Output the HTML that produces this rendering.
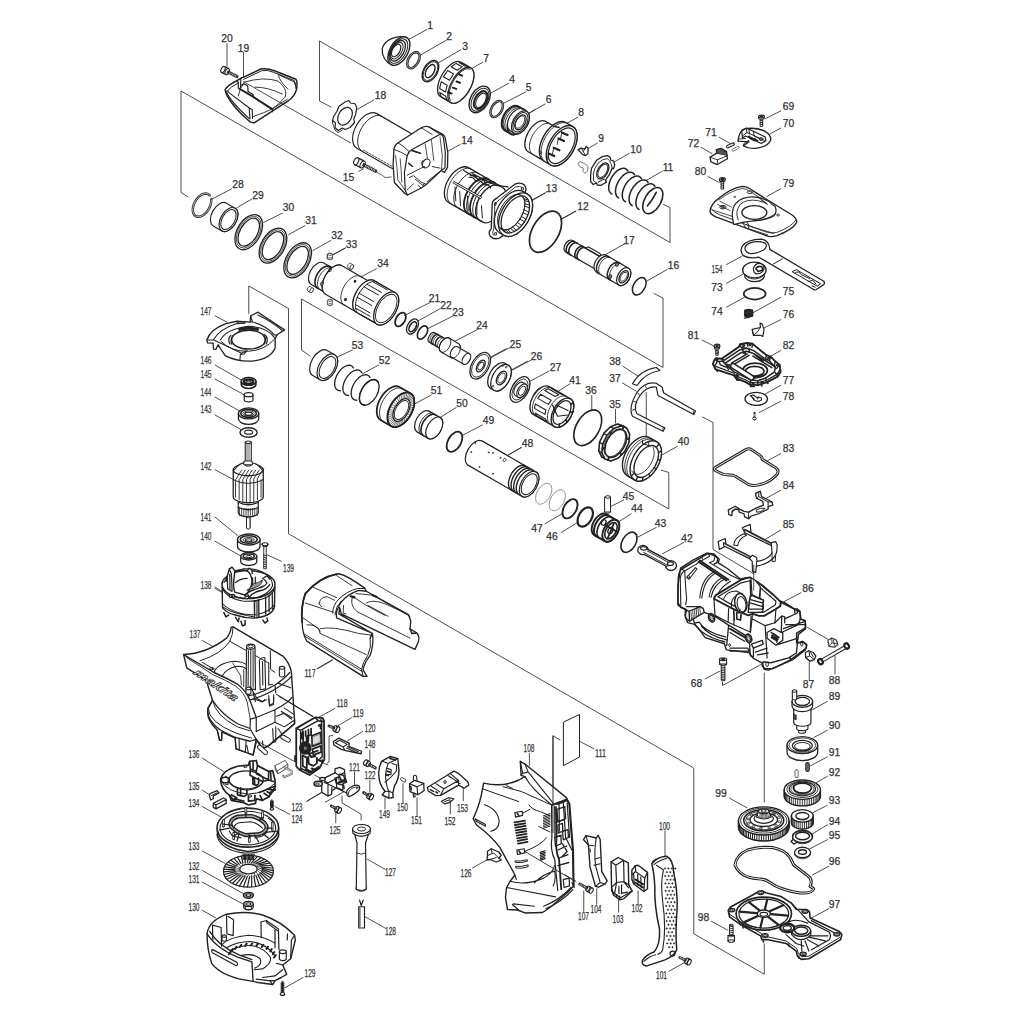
<!DOCTYPE html>
<html><head><meta charset="utf-8"><title>Parts diagram</title>
<style>
html,body{margin:0;padding:0;background:#fff;}
svg{display:block;}
text{font-family:"Liberation Sans",sans-serif;}
</style></head><body>
<svg width="1024" height="1024" viewBox="0 0 1024 1024">
<rect width="1024" height="1024" fill="#fff"/>
<polyline points="331,107 319.5,101 319.5,41 670,242.5 670,207.5 663.5,204.5" fill="none" stroke="#222" stroke-width="0.8" stroke-linejoin="round" stroke-linecap="round"/>
<polyline points="188,197 181,192.5 181,91 663,367.5 663,298 654,293.5" fill="none" stroke="#222" stroke-width="0.8" stroke-linejoin="round" stroke-linecap="round"/>
<polyline points="310,356 301.5,350 301.5,299 668.75,509 668.75,472.5 661,470" fill="none" stroke="#222" stroke-width="0.8" stroke-linejoin="round" stroke-linecap="round"/>
<polyline points="248.75,313.5 248.75,286 288.5,308.5 288.5,533.75 693.75,768 693.75,933.75 764.25,974.25 764.25,943.75" fill="none" stroke="#222" stroke-width="0.8" stroke-linejoin="round" stroke-linecap="round"/>
<polyline points="764.25,673 764.25,802" fill="none" stroke="#222" stroke-width="0.8" stroke-linejoin="round" stroke-linecap="round"/>
<polyline points="722.5,682 722.5,685.5 762.5,663.75" fill="none" stroke="#222" stroke-width="0.8" stroke-linejoin="round" stroke-linecap="round"/>
<polyline points="809.25,662.5 809.25,680" fill="none" stroke="#222" stroke-width="0.8" stroke-linejoin="round" stroke-linecap="round"/>
<polyline points="835,656 835,674" fill="none" stroke="#222" stroke-width="0.8" stroke-linejoin="round" stroke-linecap="round"/>
<polyline points="807.5,627.5 827.5,639" fill="none" stroke="#222" stroke-width="0.8" stroke-linejoin="round" stroke-linecap="round"/>
<polyline points="560,740 553,735.75 553,832.5" fill="none" stroke="#222" stroke-width="0.8" stroke-linejoin="round" stroke-linecap="round"/>
<polygon points="563.75,722 579.5,714.5 579.5,757 563.75,765.5" fill="#fff" stroke="#222" stroke-width="1" stroke-linejoin="round" stroke-linecap="round"/>
<polyline points="579.5,741.25 593.75,748.75" fill="none" stroke="#222" stroke-width="0.8" stroke-linejoin="round" stroke-linecap="round"/>
<polyline points="211.23,199.27 211.23,201.84 210.69,204.6 209.66,207.4 208.18,210.06 206.34,212.44 204.26,214.4 202.04,215.82 199.83,216.63 197.74,216.76 195.9,216.23 194.42,215.05 193.38,213.3 192.84,211.07 192.83,208.5 193.36,205.74 194.39,202.95 195.86,200.28 197.69,197.89 199.78,195.93 201.99,194.5 204.21,193.69 206.3,193.55 208.14,194.08 209.63,195.25" fill="none" stroke="#222" stroke-width="2.4" stroke-linejoin="round" stroke-linecap="round"/>
<polyline points="211.23,199.27 211.23,201.84 210.69,204.6 209.66,207.4 208.18,210.06 206.34,212.44 204.26,214.4 202.04,215.82 199.83,216.63 197.74,216.76 195.9,216.23 194.42,215.05 193.38,213.3 192.84,211.07 192.83,208.5 193.36,205.74 194.39,202.95 195.86,200.28 197.69,197.89 199.78,195.93 201.99,194.5 204.21,193.69 206.3,193.55 208.14,194.08 209.63,195.25" fill="none" stroke="#fff" stroke-width="0.7" stroke-linejoin="round" stroke-linecap="round"/>
<path d="M 213.28 225.9 A 7.81 13.12 30 0 1 226.41 203.16 L 235.07 208.16 A 7.81 13.12 30 0 1 221.94 230.9 Z" fill="#fff" stroke="#222" stroke-width="1.2" stroke-linejoin="round"/>
<ellipse cx="228.5" cy="219.53" rx="7.81" ry="13.12" transform="rotate(30 228.5 219.53)" fill="#fff" stroke="#222" stroke-width="1.2" />
<ellipse cx="228.44" cy="219.53" rx="6.25" ry="10.94" transform="rotate(30 228.44 219.53)" fill="none" stroke="#222" stroke-width="1" />
<ellipse cx="248.75" cy="232.19" rx="11.56" ry="19.06" transform="rotate(30 248.75 232.19)" fill="#fff" stroke="#222" stroke-width="1.3" />
<ellipse cx="248.75" cy="232.19" rx="10.31" ry="17.34" transform="rotate(30 248.75 232.19)" fill="none" stroke="#222" stroke-width="0.7" />
<ellipse cx="248.75" cy="232.19" rx="8.75" ry="15.31" transform="rotate(30 248.75 232.19)" fill="none" stroke="#222" stroke-width="1.3" />
<ellipse cx="272.97" cy="245.62" rx="11.56" ry="19.06" transform="rotate(30 272.97 245.62)" fill="#fff" stroke="#222" stroke-width="1.3" />
<ellipse cx="272.97" cy="245.62" rx="10.31" ry="17.34" transform="rotate(30 272.97 245.62)" fill="none" stroke="#222" stroke-width="0.7" />
<ellipse cx="272.97" cy="245.62" rx="8.75" ry="15.31" transform="rotate(30 272.97 245.62)" fill="none" stroke="#222" stroke-width="1.3" />
<ellipse cx="297.66" cy="260.31" rx="11.56" ry="19.06" transform="rotate(30 297.66 260.31)" fill="#fff" stroke="#222" stroke-width="1.3" />
<ellipse cx="297.66" cy="260.31" rx="10.31" ry="17.34" transform="rotate(30 297.66 260.31)" fill="none" stroke="#222" stroke-width="0.7" />
<ellipse cx="297.66" cy="260.31" rx="8.75" ry="15.31" transform="rotate(30 297.66 260.31)" fill="none" stroke="#222" stroke-width="1.3" />
<polyline points="231.56,188.91 212.03,199.06" fill="none" stroke="#222" stroke-width="0.8" stroke-linejoin="round" stroke-linecap="round"/>
<polyline points="251.88,199.06 237.03,207.66" fill="none" stroke="#222" stroke-width="0.8" stroke-linejoin="round" stroke-linecap="round"/>
<polyline points="282.34,213.12 263.59,222.5" fill="none" stroke="#222" stroke-width="0.8" stroke-linejoin="round" stroke-linecap="round"/>
<polyline points="305,225.62 288.59,234.69" fill="none" stroke="#222" stroke-width="0.8" stroke-linejoin="round" stroke-linecap="round"/>
<polyline points="330.78,240.47 312.81,250.62" fill="none" stroke="#222" stroke-width="0.8" stroke-linejoin="round" stroke-linecap="round"/>
<polyline points="345,248 333,255" fill="none" stroke="#222" stroke-width="0.8" stroke-linejoin="round" stroke-linecap="round"/>
<path d="M 327.75 254.25 L 332.25 254.25 L 332.25 258.75 L 327.75 258.75 Z" fill="#fff" stroke="#222" stroke-width="1" stroke-linejoin="round" stroke-linecap="round" />
<ellipse cx="330" cy="254.25" rx="1" ry="2.25" transform="rotate(90 330 254.25)" fill="#fff" stroke="#222" stroke-width="1" />
<polyline points="227,43.75 227,66.25" fill="none" stroke="#222" stroke-width="0.8" stroke-linejoin="round" stroke-linecap="round"/>
<polyline points="243.5,52.5 243.5,78.75" fill="none" stroke="#222" stroke-width="0.8" stroke-linejoin="round" stroke-linecap="round"/>
<line x1="227.2" y1="71.6" x2="237" y2="76.5" stroke="#333" stroke-width="3.2" stroke-linecap="round"/>
<line x1="229.16" y1="72.58" x2="237" y2="76.5" stroke="#fff" stroke-width="1.5" stroke-dasharray="0.7 1.0"/>
<polyline points="223,69.5 227.2,71.6" fill="none" stroke="#222" stroke-width="7.8" stroke-linecap="butt" stroke-linejoin="round"/>
<polyline points="223,69.5 227.2,71.6" fill="none" stroke="#fff" stroke-width="5.4" stroke-linecap="butt" stroke-linejoin="round"/>
<ellipse cx="223" cy="69.5" rx="1.92" ry="3.3" transform="rotate(26.57 223 69.5)" fill="#fff" stroke="#222" stroke-width="1.1"/>
<ellipse cx="227.2" cy="71.6" rx="1.92" ry="3.3" transform="rotate(26.57 227.2 71.6)" fill="none" stroke="#222" stroke-width="1.0"/>
<path d="M 225.14 89.55 Q 227.58 85.16 237.34 80.47 L 241.25 78.03 L 243.69 77.15 L 260.78 69.04 Q 266.64 67.87 274.45 70.8 L 295.94 79.3 Q 297.6 81.25 296.62 89.06 Q 294.96 95.9 288.12 100.98 L 254.92 122.46 Q 251.02 123.44 248.57 120.51 Q 234.41 108.59 227.09 95.9 Q 225.14 91.99 225.14 89.55 Z" fill="#fff" stroke="#222" stroke-width="1.5" stroke-linejoin="round" stroke-linecap="round" />
<path d="M 227.58 90.82 Q 230.02 87.11 238.32 82.91 M 243.69 79.3 L 261.76 70.7 Q 267.62 69.53 273.48 72.27 L 294.18 80.47 L 294.96 84.38 M 278.36 74.41 L 295.16 82.42 L 295.94 88.57" fill="none" stroke="#222" stroke-width="1" stroke-linejoin="round" stroke-linecap="round" />
<path d="M 227.58 90.82 L 229.53 93.16 L 249.06 107.81 L 252.19 109.77 L 252.58 118.55 M 249.06 107.81 L 250.04 118.85 M 226.11 91.02 Q 229.53 100.78 249.06 118.36" fill="none" stroke="#222" stroke-width="1.1" stroke-linejoin="round" stroke-linecap="round" />
<path d="M 237.34 80.47 L 238.32 82.91 L 238.32 88.28 L 239.88 89.26 L 240.47 87.6 L 240.86 79.3" fill="none" stroke="#222" stroke-width="1.2" stroke-linejoin="round" stroke-linecap="round" />
<path d="M 241.25 85.35 L 243.79 83.79 L 247.7 85.74 L 248.09 91.6 L 252.97 94.53 L 253.55 97.07 L 268.59 106.84 L 272.5 108.79 L 272.5 111.72" fill="none" stroke="#222" stroke-width="1.2" stroke-linejoin="round" stroke-linecap="round" />
<path d="M 240.27 89.26 L 252.97 96.68 L 271.72 108.79" fill="none" stroke="#222" stroke-width="2" stroke-linejoin="round" stroke-linecap="round" />
<path d="M 238.32 95.9 Q 239.3 89.06 243.69 83.4 M 243.69 82.23 Q 264.69 76.17 278.36 81.25 Q 288.12 89.06 285.2 97.07 Q 278.36 104.69 272.5 108.79 M 254.92 87.11 Q 268.59 87.11 282.27 94.14 M 278.36 75.59 Q 280.31 82.23 288.12 89.26 M 252.97 116.6 Q 264.69 112.7 272.5 108.79 L 287.15 99.32" fill="none" stroke="#222" stroke-width="0.9" stroke-linejoin="round" stroke-linecap="round" />
<polyline points="243.69,81.74 350.72,142.97" fill="none" stroke="#222" stroke-width="0.8" stroke-linejoin="round" stroke-linecap="round"/>
<polyline points="373.75,100 356.25,110" fill="none" stroke="#222" stroke-width="0.8" stroke-linejoin="round" stroke-linecap="round"/>
<path d="M 333.75 116.25 L 337 111.25 L 339 106.25 L 345 102 L 348.75 100.5 L 350.5 103 L 355 103.75 L 356.75 107.5 L 355.5 115 L 353.75 118.75 L 354.5 122.5 L 350 127.5 L 345 129.5 L 342.5 128 L 338 130.5 L 335 127.5 L 335.5 123 L 332.5 120.5 Z" fill="#fff" stroke="#222" stroke-width="1.2" stroke-linejoin="round" stroke-linecap="round" />
<ellipse cx="345" cy="116.25" rx="6.5" ry="9.5" transform="rotate(30 345 116.25)" fill="none" stroke="#222" stroke-width="1.2" />
<path d="M 332.5 120.5 L 332.5 123 L 335 130 L 338 132.5 L 342.5 130" fill="none" stroke="#222" stroke-width="0.9" stroke-linejoin="round" stroke-linecap="round" />
<line x1="362.6" y1="164.47" x2="375.5" y2="171" stroke="#333" stroke-width="3.6" stroke-linecap="round"/>
<line x1="365.18" y1="165.77" x2="375.5" y2="171" stroke="#fff" stroke-width="1.9" stroke-dasharray="0.7 1.0"/>
<polyline points="356.25,161.25 362.6,164.47" fill="none" stroke="#222" stroke-width="8.7" stroke-linecap="butt" stroke-linejoin="round"/>
<polyline points="356.25,161.25 362.6,164.47" fill="none" stroke="#fff" stroke-width="6.3" stroke-linecap="butt" stroke-linejoin="round"/>
<ellipse cx="356.25" cy="161.25" rx="2.19" ry="3.75" transform="rotate(26.86 356.25 161.25)" fill="#fff" stroke="#222" stroke-width="1.1"/>
<ellipse cx="362.6" cy="164.47" rx="2.19" ry="3.75" transform="rotate(26.86 362.6 164.47)" fill="none" stroke="#222" stroke-width="1.0"/>
<path d="M 376.25 172 L 382.5 175.5 L 385 177.5 L 391.25 177" fill="none" stroke="#222" stroke-width="0.7" stroke-linejoin="round" stroke-linecap="round" />
<polyline points="426.56,29.69 408.59,39.53" fill="none" stroke="#222" stroke-width="0.8" stroke-linejoin="round" stroke-linecap="round"/>
<polyline points="446.09,40.31 420.31,55.16" fill="none" stroke="#222" stroke-width="0.8" stroke-linejoin="round" stroke-linecap="round"/>
<polyline points="460.94,49.69 438.28,62.97" fill="none" stroke="#222" stroke-width="0.8" stroke-linejoin="round" stroke-linecap="round"/>
<polyline points="482.81,62.19 468.75,70.31" fill="none" stroke="#222" stroke-width="0.8" stroke-linejoin="round" stroke-linecap="round"/>
<polyline points="508.59,83.28 490.94,93.12" fill="none" stroke="#222" stroke-width="0.8" stroke-linejoin="round" stroke-linecap="round"/>
<polyline points="525.78,91.88 503.12,103.59" fill="none" stroke="#222" stroke-width="0.8" stroke-linejoin="round" stroke-linecap="round"/>
<polyline points="535,109.38 528.91,113.44" fill="none" stroke="#222" stroke-width="0.8" stroke-linejoin="round" stroke-linecap="round"/>
<path d="M 406.72 37.5 C 398.44 34.84 384.38 38.75 382.19 48.91 C 381.56 55.94 385.94 62.19 391.09 64.69 Z" fill="#fff" stroke="#222" stroke-width="1.3" stroke-linejoin="round" stroke-linecap="round" />
<ellipse cx="398.91" cy="51.09" rx="9.06" ry="15.62" transform="rotate(30 398.91 51.09)" fill="#fff" stroke="#222" stroke-width="1.4" />
<ellipse cx="398.44" cy="51.09" rx="7.5" ry="13.44" transform="rotate(30 398.44 51.09)" fill="none" stroke="#222" stroke-width="1" />
<ellipse cx="397.66" cy="50.78" rx="6.25" ry="11.25" transform="rotate(30 397.66 50.78)" fill="none" stroke="#222" stroke-width="1.3" />
<ellipse cx="396.88" cy="50.62" rx="5" ry="9.06" transform="rotate(30 396.88 50.62)" fill="none" stroke="#222" stroke-width="1" />
<ellipse cx="396.09" cy="50.47" rx="3.75" ry="6.88" transform="rotate(30 396.09 50.47)" fill="none" stroke="#222" stroke-width="1.2" />
<ellipse cx="413.44" cy="60.16" rx="5.16" ry="8.75" transform="rotate(30 413.44 60.16)" fill="none" stroke="#222" stroke-width="2.5" />
<ellipse cx="413.44" cy="60.16" rx="5.16" ry="8.75" transform="rotate(30 413.44 60.16)" fill="none" stroke="#fff" stroke-width="0.45" />
<ellipse cx="430.47" cy="71.09" rx="6.88" ry="11.56" transform="rotate(30 430.47 71.09)" fill="#fff" stroke="#222" stroke-width="1.4" />
<ellipse cx="430.47" cy="71.09" rx="5.94" ry="10.31" transform="rotate(30 430.47 71.09)" fill="none" stroke="#222" stroke-width="0.8" />
<ellipse cx="430.16" cy="71.09" rx="3.91" ry="7.19" transform="rotate(30 430.16 71.09)" fill="none" stroke="#222" stroke-width="1.4" />
<path d="M 440.62 96.7 A 9.69 20 30 0 1 460.62 62.05 L 470.91 67.99 A 9.69 20 30 0 1 450.91 102.63 Z" fill="#fff" stroke="#222" stroke-width="1.3" stroke-linejoin="round"/>
<ellipse cx="460.91" cy="85.31" rx="9.69" ry="20" transform="rotate(30 460.91 85.31)" fill="#fff" stroke="#222" stroke-width="1.3" />
<polygon points="441.21,96.69 447.17,100.12 445.55,96.03 439.59,92.59" fill="none" stroke="#222" stroke-width="1.1" stroke-linejoin="round" stroke-linecap="round"/>
<polygon points="439.59,88.46 445.55,91.9 447.17,85.28 441.22,81.84" fill="none" stroke="#222" stroke-width="1.1" stroke-linejoin="round" stroke-linecap="round"/>
<polygon points="443.45,76.85 449.41,80.28 453.58,73.95 447.63,70.51" fill="none" stroke="#222" stroke-width="1.1" stroke-linejoin="round" stroke-linecap="round"/>
<polygon points="451.16,66.77 457.11,70.21 462.07,66.84 456.12,63.4" fill="none" stroke="#222" stroke-width="1.1" stroke-linejoin="round" stroke-linecap="round"/>
<polygon points="459.05,62.54 465,65.97 468.76,66.77 462.81,63.33" fill="none" stroke="#222" stroke-width="1.1" stroke-linejoin="round" stroke-linecap="round"/>
<polyline points="450.57,100.29 449.94,99.31 449.48,98.12 449.2,96.73 449.09,95.17 449.17,93.46 449.42,91.62 449.85,89.69 450.45,87.69 451.21,85.66 452.12,83.61 453.16,81.6 454.33,79.64 455.59,77.77 456.93,76.01 458.34,74.4 459.79,72.95 461.25,71.69 462.71,70.64 464.14,69.81 465.52,69.22 466.83,68.87 468.05,68.78 469.17,68.94 470.16,69.35" fill="none" stroke="#222" stroke-width="1" stroke-linejoin="round" stroke-linecap="round"/>
<path d="M 458.75 74.38 L 462.19 75.62" fill="none" stroke="#222" stroke-width="2" stroke-linejoin="round" stroke-linecap="round" />
<path d="M 456.56 81.56 L 460 82.81" fill="none" stroke="#222" stroke-width="2" stroke-linejoin="round" stroke-linecap="round" />
<path d="M 452.81 87.66 L 456.25 88.91" fill="none" stroke="#222" stroke-width="2" stroke-linejoin="round" stroke-linecap="round" />
<path d="M 448.12 92.19 L 451.56 93.44" fill="none" stroke="#222" stroke-width="2" stroke-linejoin="round" stroke-linecap="round" />
<ellipse cx="479.69" cy="99.38" rx="9.06" ry="14.38" transform="rotate(30 479.69 99.38)" fill="#fff" stroke="#222" stroke-width="1.4" />
<ellipse cx="480" cy="99.69" rx="7.5" ry="12.5" transform="rotate(30 480 99.69)" fill="none" stroke="#222" stroke-width="1" />
<ellipse cx="480.62" cy="100" rx="5.62" ry="9.69" transform="rotate(30 480.62 100)" fill="none" stroke="#222" stroke-width="2" />
<ellipse cx="480.94" cy="100.31" rx="4.22" ry="7.81" transform="rotate(30 480.94 100.31)" fill="none" stroke="#222" stroke-width="1" />
<ellipse cx="496.72" cy="109.06" rx="5.16" ry="8.75" transform="rotate(30 496.72 109.06)" fill="none" stroke="#222" stroke-width="2.5" />
<ellipse cx="496.72" cy="109.06" rx="5.16" ry="8.75" transform="rotate(30 496.72 109.06)" fill="none" stroke="#fff" stroke-width="0.45" />
<path d="M 504.84 130.35 A 8.44 13.75 30 0 1 518.59 106.53 L 524.28 109.81 A 8.44 13.75 30 0 1 510.53 133.63 Z" fill="#fff" stroke="#222" stroke-width="2" stroke-linejoin="round"/>
<ellipse cx="517.4" cy="121.72" rx="8.44" ry="13.75" transform="rotate(30 517.4 121.72)" fill="#fff" stroke="#222" stroke-width="2" />
<polyline points="505.8,130.87 505.03,130.14 504.39,129.24 503.88,128.19 503.52,127.01 503.31,125.71 503.25,124.31 503.34,122.84 503.59,121.31 503.98,119.76 504.51,118.2 505.18,116.66 505.97,115.16 506.88,113.72 507.88,112.37 508.96,111.13 510.11,110.01 511.31,109.04 512.54,108.22 513.78,107.57 515.01,107.11 516.22,106.83 517.38,106.74 518.47,106.85 519.49,107.14" fill="none" stroke="#222" stroke-width="1" stroke-linejoin="round" stroke-linecap="round"/>
<polyline points="507.36,131.81 506.59,131.07 505.95,130.18 505.45,129.13 505.08,127.94 504.87,126.64 504.81,125.25 504.9,123.78 505.15,122.25 505.54,120.7 506.08,119.14 506.74,117.59 507.54,116.09 508.44,114.66 509.44,113.31 510.53,112.06 511.67,110.95 512.87,109.97 514.1,109.16 515.34,108.51 516.57,108.05 517.78,107.77 518.94,107.68 520.04,107.79 521.06,108.08" fill="none" stroke="#222" stroke-width="1" stroke-linejoin="round" stroke-linecap="round"/>
<path d="M 510.16 130.83 A 7.5 12.5 30 0 1 522.66 109.17 L 526.72 111.52 A 7.5 12.5 30 0 1 514.22 133.17 Z" fill="#fff" stroke="#222" stroke-width="1.2" stroke-linejoin="round"/>
<ellipse cx="520.47" cy="122.34" rx="7.5" ry="12.5" transform="rotate(30 520.47 122.34)" fill="#fff" stroke="#222" stroke-width="1.2" />
<ellipse cx="520.47" cy="122.34" rx="6.25" ry="10.62" transform="rotate(30 520.47 122.34)" fill="none" stroke="#222" stroke-width="1" />
<ellipse cx="520.47" cy="122.34" rx="4.69" ry="8.12" transform="rotate(30 520.47 122.34)" fill="none" stroke="#222" stroke-width="1.3" />
<ellipse cx="520" cy="122.03" rx="3.75" ry="6.88" transform="rotate(30 520 122.03)" fill="none" stroke="#222" stroke-width="0.8" />
<path d="M 356.88 148.26 A 11.88 20 30 0 1 376.88 113.62 L 410.7 133.15 A 11.88 20 30 0 1 390.7 167.79 Z" fill="#fff" stroke="#222" stroke-width="1.2" stroke-linejoin="round"/>
<polyline points="361.17,150.49 360.1,149.44 359.21,148.16 358.51,146.66 358.03,144.96 357.75,143.09 357.69,141.07 357.85,138.95 358.23,136.74 358.82,134.49 359.61,132.23 360.59,129.99 361.75,127.81 363.06,125.72 364.51,123.75 366.07,121.94 367.73,120.3 369.45,118.87 371.2,117.67 372.98,116.71 374.73,116.02 376.45,115.59 378.1,115.44 379.66,115.57 381.1,115.98" fill="none" stroke="#222" stroke-width="1" stroke-linejoin="round" stroke-linecap="round"/>
<path d="M 363.44 150.16 L 393.91 167.34" fill="none" stroke="#fff" stroke-width="1.6" stroke-linejoin="round" stroke-linecap="round" />
<path d="M 363.44 150.16 L 393.91 167.34" fill="none" stroke="#222" stroke-width="0.8" stroke-linejoin="round" stroke-linecap="round" stroke-dasharray="2 1.4"/>
<path d="M 393.91 149.38 Q 394.69 144.69 398.12 142.81 L 421.25 127.81 Q 425.16 125.62 428.28 126.56 L 442.34 134.06 Q 445 135.62 445.62 140 L 447.81 152.5 L 447.5 167.34 L 444.38 172.34 L 441.25 170.47 L 433.75 177.5 L 426.72 184.06 L 421.25 187.97 L 407.5 195 L 404.84 193.44 L 394.38 182.5 L 393.12 165 Z" fill="#fff" stroke="#222" stroke-width="1.3" stroke-linejoin="round" stroke-linecap="round" />
<path d="M 407.19 155.62 Q 408.44 151.72 411.56 149.84 L 439.22 134.69 Q 442.34 133.75 443.44 137.66 L 445.31 152.5 L 445 167.81 L 441.88 170" fill="none" stroke="#222" stroke-width="1.2" stroke-linejoin="round" stroke-linecap="round" />
<path d="M 407.19 155.62 L 404.38 172.81 L 405.31 190.78 L 407.5 195" fill="none" stroke="#222" stroke-width="1.2" stroke-linejoin="round" stroke-linecap="round" />
<path d="M 398.12 142.81 Q 402.5 145 408.75 151.25 M 421.25 127.81 L 432.19 134.53 M 428.28 126.56 L 440 134.38" fill="none" stroke="#222" stroke-width="0.9" stroke-linejoin="round" stroke-linecap="round" />
<path d="M 393.91 149.38 Q 400.94 151.72 407.19 155.62" fill="none" stroke="#222" stroke-width="0.9" stroke-linejoin="round" stroke-linecap="round" />
<path d="M 395.47 155.62 L 397.03 168.12 L 397.81 179.84 L 404.84 190" fill="none" stroke="#222" stroke-width="0.8" stroke-linejoin="round" stroke-linecap="round" />
<path d="M 400.16 158.75 L 401.25 171.25 L 401.72 182.19" fill="none" stroke="#222" stroke-width="0.8" stroke-linejoin="round" stroke-linecap="round" />
<path d="M 425.16 143.91 L 427.5 158.75 M 431.41 140 L 433.75 160.31 M 440 136.88 L 442.34 155.62 L 441.56 170" fill="none" stroke="#222" stroke-width="0.8" stroke-linejoin="round" stroke-linecap="round" />
<path d="M 412.19 150.62 L 420.47 153.28 M 408.75 163.44 L 412.19 166.25" fill="none" stroke="#222" stroke-width="1.6" stroke-linejoin="round" stroke-linecap="round" />
<ellipse cx="426.25" cy="163.44" rx="3.44" ry="4.69" transform="rotate(30 426.25 163.44)" fill="#fff" stroke="#222" stroke-width="1.1" />
<path d="M 422.81 160.62 L 421.25 163.44 Q 422.03 166.88 425.16 167.81" fill="none" stroke="#222" stroke-width="1" stroke-linejoin="round" stroke-linecap="round" />
<path d="M 432.19 166.56 L 440 168.12 M 407.19 175.16 L 424.38 166.56 M 409.53 177.5 L 413.44 175.62 L 421.25 182.19 L 425.16 183.75 M 415 179.06 L 422.81 185.31 M 413.44 183.75 L 407.19 190 M 427.5 181.41 L 440 171.25 M 418.12 185.31 L 421.25 187.97" fill="none" stroke="#222" stroke-width="0.9" stroke-linejoin="round" stroke-linecap="round" />
<ellipse cx="424.38" cy="184.53" rx="0.94" ry="1.25" transform="rotate(30 424.38 184.53)" fill="none" stroke="#222" stroke-width="0.8" />
<polyline points="460.31,144.38 447.81,151.25" fill="none" stroke="#222" stroke-width="0.8" stroke-linejoin="round" stroke-linecap="round"/>
<polyline points="358.75,171.25 363.44,168.91" fill="none" stroke="#222" stroke-width="0.8" stroke-linejoin="round" stroke-linecap="round"/>
<polyline points="577.81,117.34 565.31,124.06" fill="none" stroke="#222" stroke-width="0.8" stroke-linejoin="round" stroke-linecap="round"/>
<polyline points="597.34,143.12 587.97,148.59" fill="none" stroke="#222" stroke-width="0.8" stroke-linejoin="round" stroke-linecap="round"/>
<polyline points="629.38,153.28 614.53,161.88" fill="none" stroke="#222" stroke-width="0.8" stroke-linejoin="round" stroke-linecap="round"/>
<polyline points="662.19,171.25 647.34,179.84" fill="none" stroke="#222" stroke-width="0.8" stroke-linejoin="round" stroke-linecap="round"/>
<polyline points="545,193.12 531.72,200.94" fill="none" stroke="#222" stroke-width="0.8" stroke-linejoin="round" stroke-linecap="round"/>
<polyline points="575.47,211.09 561.41,218.91" fill="none" stroke="#222" stroke-width="0.8" stroke-linejoin="round" stroke-linecap="round"/>
<polyline points="545,104.06 528.59,113.44" fill="none" stroke="#222" stroke-width="0.8" stroke-linejoin="round" stroke-linecap="round"/>
<path d="M 528.12 151.72 A 9.69 17.5 30 0 1 545.62 121.41 L 557.13 128.05 A 9.69 17.5 30 0 1 539.63 158.36 Z" fill="#fff" stroke="#222" stroke-width="1.3" stroke-linejoin="round"/>
<polyline points="532.11,153.89 531.25,153.02 530.54,151.94 530,150.67 529.64,149.22 529.46,147.62 529.47,145.89 529.65,144.05 530.03,142.15 530.57,140.2 531.29,138.23 532.16,136.28 533.17,134.38 534.32,132.54 535.57,130.81 536.91,129.21 538.33,127.76 539.8,126.49 541.29,125.41 542.78,124.54 544.26,123.89 545.7,123.48 547.07,123.31 548.36,123.39 549.55,123.7" fill="none" stroke="#222" stroke-width="0.9" stroke-linejoin="round" stroke-linecap="round"/>
<path d="M 543.59 160.93 A 12.5 22.19 30 0 1 565.78 122.5 L 572.82 126.57 A 12.5 22.19 30 0 1 550.63 165 Z" fill="#fff" stroke="#222" stroke-width="1.4" stroke-linejoin="round"/>
<ellipse cx="561.72" cy="145.78" rx="12.5" ry="22.19" transform="rotate(30 561.72 145.78)" fill="#fff" stroke="#222" stroke-width="1.4" />
<polyline points="544.57,161.41 543.45,160.29 542.53,158.91 541.82,157.28 541.35,155.43 541.1,153.39 541.09,151.19 541.31,148.85 541.77,146.43 542.45,143.95 543.35,141.46 544.45,138.98 545.74,136.56 547.19,134.24 548.78,132.05 550.49,130.02 552.3,128.19 554.17,126.58 556.08,125.22 557.99,124.13 559.88,123.32 561.72,122.81 563.49,122.61 565.14,122.71 566.67,123.13" fill="none" stroke="#222" stroke-width="0.9" stroke-linejoin="round" stroke-linecap="round"/>
<ellipse cx="561.72" cy="145.78" rx="10.62" ry="19.69" transform="rotate(30 561.72 145.78)" fill="none" stroke="#222" stroke-width="1.2" />
<path d="M 561.88 132.5 L 567.5 135" fill="none" stroke="#222" stroke-width="2.2" stroke-linejoin="round" stroke-linecap="round" />
<path d="M 561.88 132.5 L 560.62 138.44" fill="none" stroke="#222" stroke-width="0.9" stroke-linejoin="round" stroke-linecap="round" />
<path d="M 558.44 138.44 L 564.06 140.94" fill="none" stroke="#222" stroke-width="2.2" stroke-linejoin="round" stroke-linecap="round" />
<path d="M 558.44 138.44 L 557.19 144.38" fill="none" stroke="#222" stroke-width="0.9" stroke-linejoin="round" stroke-linecap="round" />
<path d="M 553.75 147.81 L 559.38 150.31" fill="none" stroke="#222" stroke-width="2.2" stroke-linejoin="round" stroke-linecap="round" />
<path d="M 553.75 147.81 L 552.5 153.75" fill="none" stroke="#222" stroke-width="0.9" stroke-linejoin="round" stroke-linecap="round" />
<path d="M 548.59 153.59 L 554.22 156.09" fill="none" stroke="#222" stroke-width="2.2" stroke-linejoin="round" stroke-linecap="round" />
<path d="M 548.59 153.59 L 547.34 159.53" fill="none" stroke="#222" stroke-width="0.9" stroke-linejoin="round" stroke-linecap="round" />
<path d="M 553.59 126.25 L 559.06 127.5" fill="none" stroke="#222" stroke-width="1.5" stroke-linejoin="round" stroke-linecap="round" />
<ellipse cx="540.62" cy="152.5" rx="0.78" ry="1.09" transform="rotate(30 540.62 152.5)" fill="none" stroke="#222" stroke-width="0.8" />
<path d="M 578.12 149.69 L 581.25 148.12 L 584.38 149.06 L 586.41 146.56 L 588.12 148.12 L 587.81 153.75 L 585.62 155.62 L 582.5 154.38 Z" fill="#fff" stroke="#222" stroke-width="1.3" stroke-linejoin="round" stroke-linecap="round" />
<path d="M 581.25 148.12 L 583.28 151.72 L 585.62 155.62 M 583.28 151.72 L 586.41 146.56" fill="none" stroke="#222" stroke-width="0.9" stroke-linejoin="round" stroke-linecap="round" />
<path d="M 578.12 163.12 L 580.16 161.56 L 586.41 164.69 L 588.12 166.88 L 587.5 171.25 L 584.84 173.12 L 582.81 171.25 L 583.28 168.12 L 580.16 166.88 Z" fill="#fff" stroke="#777" stroke-width="1" stroke-linejoin="round" stroke-linecap="round" />
<path d="M 590.62 175.16 L 591.56 168.12 L 596.56 160.31 L 602.81 156.41 L 607.5 155.62 L 610.31 157.5 L 610.62 160 L 613.75 161.09 L 614.69 165 L 613.44 168.91 L 612.19 168.12 L 609.06 175.16 L 605.62 179.84 L 606.25 182.19 L 601.25 185.31 L 597.34 185 L 596.56 182.97 L 593.12 184.53 L 590.62 181.41 Z" fill="#fff" stroke="#222" stroke-width="1.3" stroke-linejoin="round" stroke-linecap="round" />
<path d="M 593.44 174.38 L 594.69 168.91 L 598.12 163.12 L 602.81 159.69 L 607.5 158.75 L 609.38 160.62 M 612.19 168.12 L 610.94 163.44 L 609.84 161.09 M 596.56 182.97 L 593.44 180.62 L 593.44 174.38 M 606.25 182.19 L 604.38 179.06 L 598.12 182.19" fill="none" stroke="#222" stroke-width="0.9" stroke-linejoin="round" stroke-linecap="round" />
<ellipse cx="602.81" cy="170.94" rx="5" ry="8.75" transform="rotate(30 602.81 170.94)" fill="none" stroke="#222" stroke-width="1.3" />
<ellipse cx="602.81" cy="170.94" rx="3.91" ry="7.19" transform="rotate(30 602.81 170.94)" fill="none" stroke="#222" stroke-width="0.9" />
<polyline points="611.81,193.99 610.83,193.33 610.02,192.42 609.38,191.28 608.95,189.93 608.73,188.4 608.71,186.72 608.91,184.93 609.31,183.06 609.92,181.16 610.71,179.27 611.67,177.42 612.78,175.65 614.02,174.01 615.36,172.52 616.76,171.22 618.21,170.13 619.67,169.29 621.12,168.7 622.51,168.37 623.82,168.33 625.03,168.55 626.1,169.06 627.02,169.82 627.76,170.82" fill="none" stroke="#222" stroke-width="1.5" stroke-linejoin="round" stroke-linecap="round"/>
<polyline points="618.61,197.86 617.63,197.21 616.81,196.3 616.18,195.15 615.75,193.8 615.52,192.27 615.51,190.59 615.71,188.8 616.11,186.94 616.72,185.04 617.51,183.14 618.47,181.29 619.58,179.53 620.82,177.88 622.15,176.39 623.56,175.09 625.01,174.01 626.47,173.16 627.91,172.57 629.31,172.25 630.62,172.2 631.82,172.43 632.9,172.93 633.81,173.69 634.56,174.7" fill="none" stroke="#222" stroke-width="1.5" stroke-linejoin="round" stroke-linecap="round"/>
<polyline points="625.41,201.74 624.42,201.08 623.61,200.17 622.98,199.03 622.55,197.68 622.32,196.15 622.31,194.47 622.5,192.68 622.91,190.81 623.51,188.91 624.3,187.02 625.27,185.17 626.38,183.4 627.61,181.76 628.95,180.27 630.36,178.97 631.81,177.88 633.27,177.04 634.71,176.45 636.1,176.12 637.41,176.08 638.62,176.3 639.69,176.81 640.61,177.57 641.35,178.57" fill="none" stroke="#222" stroke-width="1.5" stroke-linejoin="round" stroke-linecap="round"/>
<polyline points="632.2,205.61 631.22,204.96 630.41,204.05 629.78,202.9 629.34,201.55 629.12,200.02 629.1,198.34 629.3,196.55 629.71,194.69 630.31,192.79 631.1,190.89 632.06,189.04 633.17,187.28 634.41,185.63 635.75,184.14 637.15,182.84 638.6,181.76 640.07,180.91 641.51,180.32 642.9,180 644.21,179.95 645.42,180.18 646.49,180.68 647.41,181.44 648.15,182.45" fill="none" stroke="#222" stroke-width="1.5" stroke-linejoin="round" stroke-linecap="round"/>
<polyline points="639,209.49 638.02,208.83 637.2,207.92 636.57,206.78 636.14,205.43 635.91,203.9 635.9,202.22 636.1,200.43 636.5,198.56 637.11,196.66 637.9,194.77 638.86,192.92 639.97,191.15 641.21,189.51 642.54,188.02 643.95,186.72 645.4,185.63 646.86,184.79 648.3,184.2 649.7,183.87 651.01,183.83 652.21,184.05 653.29,184.56 654.2,185.32 654.95,186.32" fill="none" stroke="#222" stroke-width="1.5" stroke-linejoin="round" stroke-linecap="round"/>
<ellipse cx="652.81" cy="200.62" rx="8.12" ry="14.38" transform="rotate(30 652.81 200.62)" fill="none" stroke="#222" stroke-width="1.6" />
<path d="M 656.25 192.34 Q 652.81 199.38 647.34 205.94" fill="none" stroke="#222" stroke-width="1.6" stroke-linejoin="round" stroke-linecap="round" />
<polyline points="546,192.5 531,200.5" fill="none" stroke="#222" stroke-width="0.8" stroke-linejoin="round" stroke-linecap="round"/>
<polyline points="576,211.25 561,219.5" fill="none" stroke="#222" stroke-width="0.8" stroke-linejoin="round" stroke-linecap="round"/>
<polyline points="624.75,243.75 604.75,255" fill="none" stroke="#222" stroke-width="0.8" stroke-linejoin="round" stroke-linecap="round"/>
<polyline points="667.25,269.5 646.5,281.25" fill="none" stroke="#222" stroke-width="0.8" stroke-linejoin="round" stroke-linecap="round"/>
<ellipse cx="545.5" cy="231.75" rx="13.25" ry="22.5" transform="rotate(30 545.5 231.75)" fill="none" stroke="#222" stroke-width="1.7" />
<ellipse cx="639.25" cy="286.25" rx="5.75" ry="9.5" transform="rotate(30 639.25 286.25)" fill="none" stroke="#222" stroke-width="1.5" />
<path d="M 565.62 252.1 A 4.25 6.75 30 0 1 572.38 240.4 L 602.69 257.9 A 4.25 6.75 30 0 1 595.94 269.6 Z" fill="#fff" stroke="#222" stroke-width="1.2" stroke-linejoin="round"/>
<polyline points="568.12,253.51 567.61,253.23 567.16,252.84 566.79,252.35 566.5,251.77 566.3,251.11 566.19,250.37 566.18,249.59 566.26,248.76 566.44,247.91 566.7,247.05 567.05,246.2 567.48,245.38 567.98,244.59 568.54,243.86 569.16,243.2 569.8,242.62 570.48,242.14 571.17,241.75 571.85,241.48 572.53,241.32 573.18,241.28 573.79,241.36 574.35,241.55 574.85,241.86" fill="none" stroke="#222" stroke-width="1.6" stroke-linejoin="round" stroke-linecap="round"/>
<polyline points="570.72,255.01 570.21,254.73 569.76,254.34 569.38,253.85 569.1,253.27 568.9,252.61 568.79,251.87 568.78,251.09 568.86,250.26 569.03,249.41 569.3,248.55 569.65,247.7 570.08,246.88 570.58,246.09 571.14,245.36 571.75,244.7 572.4,244.12 573.08,243.64 573.76,243.25 574.45,242.98 575.13,242.82 575.78,242.78 576.39,242.86 576.95,243.05 577.45,243.36" fill="none" stroke="#222" stroke-width="1.6" stroke-linejoin="round" stroke-linecap="round"/>
<polyline points="576.78,258.51 576.27,258.23 575.82,257.84 575.45,257.35 575.16,256.77 574.96,256.11 574.85,255.37 574.84,254.59 574.92,253.76 575.1,252.91 575.36,252.05 575.71,251.2 576.14,250.38 576.64,249.59 577.2,248.86 577.82,248.2 578.46,247.62 579.14,247.14 579.83,246.75 580.51,246.48 581.19,246.32 581.84,246.28 582.45,246.36 583.01,246.55 583.51,246.86" fill="none" stroke="#222" stroke-width="1.6" stroke-linejoin="round" stroke-linecap="round"/>
<polyline points="578.95,259.76 578.43,259.48 577.98,259.09 577.61,258.6 577.32,258.02 577.12,257.36 577.02,256.62 577,255.84 577.09,255.01 577.26,254.16 577.53,253.3 577.88,252.45 578.31,251.62 578.81,250.84 579.37,250.11 579.98,249.45 580.63,248.87 581.3,248.39 581.99,248 582.68,247.73 583.35,247.57 584,247.53 584.61,247.61 585.17,247.8 585.67,248.11" fill="none" stroke="#222" stroke-width="1.6" stroke-linejoin="round" stroke-linecap="round"/>
<path d="M 586.5 249 L 599 256.25 Q 601.5 255.5 600 253.5 L 588.5 247 Q 585.5 247 586.5 249 Z" fill="none" stroke="#222" stroke-width="1.1" stroke-linejoin="round" stroke-linecap="round" />
<path d="M 596.12 271.94 A 6 9.75 30 0 1 605.88 255.06 L 628.61 268.18 A 6 9.75 30 0 1 618.86 285.07 Z" fill="#fff" stroke="#222" stroke-width="1.2" stroke-linejoin="round"/>
<ellipse cx="623.73" cy="276.62" rx="6" ry="9.75" transform="rotate(30 623.73 276.62)" fill="#fff" stroke="#222" stroke-width="1.2" />
<polyline points="599.19,273.67 598.46,273.28 597.83,272.73 597.31,272.03 596.91,271.2 596.64,270.25 596.49,269.2 596.49,268.07 596.62,266.88 596.88,265.65 597.27,264.42 597.78,263.19 598.4,262 599.12,260.87 599.93,259.81 600.81,258.85 601.73,258.01 602.7,257.31 603.68,256.75 604.66,256.35 605.62,256.11 606.54,256.04 607.41,256.14 608.2,256.41 608.91,256.85" fill="none" stroke="#222" stroke-width="1.5" stroke-linejoin="round" stroke-linecap="round"/>
<polyline points="601.36,274.92 600.63,274.53 600,273.98 599.48,273.28 599.07,272.45 598.8,271.5 598.66,270.45 598.65,269.32 598.78,268.13 599.04,266.9 599.43,265.67 599.94,264.44 600.57,263.25 601.29,262.12 602.09,261.06 602.97,260.1 603.9,259.26 604.86,258.56 605.85,258 606.83,257.6 607.79,257.36 608.71,257.29 609.57,257.39 610.37,257.66 611.07,258.1" fill="none" stroke="#222" stroke-width="0.9" stroke-linejoin="round" stroke-linecap="round"/>
<polyline points="610.02,279.92 609.29,279.53 608.66,278.98 608.14,278.28 607.73,277.45 607.46,276.5 607.32,275.45 607.31,274.32 607.44,273.13 607.7,271.9 608.09,270.67 608.6,269.44 609.23,268.25 609.95,267.12 610.75,266.06 611.63,265.1 612.56,264.26 613.52,263.56 614.51,263 615.49,262.6 616.45,262.36 617.37,262.29 618.23,262.39 619.03,262.66 619.73,263.1" fill="none" stroke="#222" stroke-width="1.5" stroke-linejoin="round" stroke-linecap="round"/>
<polyline points="612.18,281.17 611.45,280.78 610.82,280.23 610.3,279.53 609.9,278.7 609.63,277.75 609.48,276.7 609.48,275.57 609.61,274.38 609.87,273.15 610.26,271.92 610.77,270.69 611.39,269.5 612.11,268.37 612.92,267.31 613.8,266.35 614.72,265.51 615.69,264.81 616.67,264.25 617.65,263.85 618.61,263.61 619.53,263.54 620.4,263.64 621.19,263.91 621.9,264.35" fill="none" stroke="#222" stroke-width="0.9" stroke-linejoin="round" stroke-linecap="round"/>
<ellipse cx="623.75" cy="276.75" rx="4" ry="6.75" transform="rotate(30 623.75 276.75)" fill="none" stroke="#222" stroke-width="1.3" />
<ellipse cx="623.75" cy="276.75" rx="2.75" ry="5" transform="rotate(30 623.75 276.75)" fill="none" stroke="#222" stroke-width="0.8" />
<ellipse cx="617" cy="264.5" rx="1.5" ry="1.75" transform="rotate(30 617 264.5)" fill="#888" stroke="#222" stroke-width="0.9" />
<ellipse cx="610.25" cy="276.5" rx="1.5" ry="1.75" transform="rotate(30 610.25 276.5)" fill="#888" stroke="#222" stroke-width="0.9" />
<path d="M 448.44 202.32 A 11.56 20 30 0 1 468.44 167.68 L 502.27 187.21 A 11.56 20 30 0 1 482.27 221.85 Z" fill="#fff" stroke="#222" stroke-width="1.3" stroke-linejoin="round"/>
<polyline points="450.42,203.31 449.38,202.29 448.52,201.02 447.85,199.54 447.39,197.86 447.14,196 447.11,194 447.29,191.89 447.69,189.69 448.29,187.45 449.09,185.2 450.08,182.96 451.24,180.78 452.55,178.69 453.99,176.72 455.54,174.9 457.18,173.25 458.88,171.81 460.62,170.6 462.37,169.63 464.1,168.91 465.79,168.47 467.41,168.3 468.93,168.42 470.34,168.8" fill="none" stroke="#222" stroke-width="0.9" stroke-linejoin="round" stroke-linecap="round"/>
<polyline points="459.8,208.53 458.24,207.97 456.88,207.06 455.74,205.81 454.84,204.26 454.2,202.43 453.84,200.36 453.77,198.09 453.97,195.67 454.46,193.14 455.21,190.56 456.22,187.98 457.47,185.45 458.92,183.02 460.56,180.74 462.34,178.65 464.24,176.8 466.21,175.23 468.21,173.96 470.21,173.02 472.16,172.44 474.02,172.21 475.76,172.35 477.35,172.86 478.74,173.72" fill="none" stroke="#222" stroke-width="1" stroke-linejoin="round" stroke-linecap="round"/>
<polyline points="469.95,214.39 468.39,213.83 467.03,212.92 465.88,211.67 464.99,210.12 464.35,208.29 463.99,206.22 463.91,203.95 464.12,201.53 464.61,199 465.36,196.42 466.37,193.84 467.62,191.31 469.07,188.88 470.71,186.6 472.49,184.51 474.39,182.66 476.35,181.09 478.36,179.82 480.35,178.88 482.3,178.3 484.17,178.07 485.91,178.21 487.5,178.72 488.89,179.58" fill="none" stroke="#222" stroke-width="1.8" stroke-linejoin="round" stroke-linecap="round"/>
<polyline points="472.65,215.95 471.1,215.39 469.73,214.48 468.59,213.23 467.69,211.68 467.06,209.85 466.7,207.78 466.62,205.51 466.83,203.09 467.31,200.56 468.07,197.98 469.08,195.4 470.32,192.87 471.78,190.44 473.41,188.16 475.2,186.07 477.09,184.22 479.06,182.65 481.06,181.38 483.06,180.44 485.01,179.86 486.88,179.63 488.62,179.78 490.2,180.28 491.6,181.14" fill="none" stroke="#222" stroke-width="1" stroke-linejoin="round" stroke-linecap="round"/>
<polyline points="476.04,217.91 474.48,217.34 473.12,216.43 471.97,215.19 471.08,213.63 470.44,211.8 470.08,209.73 470,207.46 470.21,205.04 470.69,202.52 471.45,199.94 472.46,197.36 473.71,194.82 475.16,192.39 476.8,190.11 478.58,188.03 480.48,186.18 482.44,184.6 484.45,183.33 486.44,182.4 488.39,181.81 490.26,181.59 492,181.73 493.59,182.23 494.98,183.09" fill="none" stroke="#222" stroke-width="1.8" stroke-linejoin="round" stroke-linecap="round"/>
<polyline points="478.74,219.47 477.19,218.91 475.82,217.99 474.68,216.75 473.78,215.2 473.15,213.37 472.79,211.3 472.71,209.03 472.91,206.61 473.4,204.08 474.16,201.5 475.17,198.92 476.41,196.39 477.87,193.96 479.5,191.67 481.29,189.59 483.18,187.74 485.15,186.17 487.15,184.9 489.15,183.96 491.1,183.37 492.96,183.15 494.71,183.29 496.29,183.8 497.69,184.66" fill="none" stroke="#222" stroke-width="1" stroke-linejoin="round" stroke-linecap="round"/>
<polyline points="481.72,221.19 480.16,220.63 478.8,219.71 477.66,218.47 476.76,216.91 476.12,215.08 475.76,213.01 475.69,210.75 475.89,208.32 476.38,205.8 477.13,203.22 478.14,200.64 479.39,198.1 480.84,195.67 482.48,193.39 484.26,191.31 486.16,189.46 488.13,187.88 490.13,186.62 492.13,185.68 494.08,185.09 495.94,184.87 497.68,185.01 499.27,185.52 500.66,186.37" fill="none" stroke="#222" stroke-width="1.4" stroke-linejoin="round" stroke-linecap="round"/>
<polyline points="453.12,181.88 481.56,198.12" fill="none" stroke="#222" stroke-width="2.8" stroke-linecap="butt" stroke-linejoin="round"/>
<polyline points="453.12,181.88 481.56,198.12" fill="none" stroke="#fff" stroke-width="1" stroke-linecap="butt" stroke-linejoin="round"/>
<path d="M 463.59 170.47 L 476.88 178.28 M 469.06 177.5 Q 472.97 176.25 475.62 180.94 M 470.31 175.62 Q 475.31 174.69 477.66 179.38 M 476.88 180.94 Q 480.78 179.38 483.44 184.53 M 478.12 179.06 Q 483.12 178.28 485.47 182.97 M 483.91 185 Q 487.81 182.97 490.62 188.12 M 472.19 173.59 L 495.62 185.31 L 508.12 186.88" fill="none" stroke="#222" stroke-width="1.2" stroke-linejoin="round" stroke-linecap="round" />
<path d="M 459.69 191.56 L 460.47 205.62 M 476.88 202.5 L 476.88 215 M 481.56 205.62 L 482.34 218.12 M 467.5 196.25 L 468.28 210.31 M 455 186.88 L 455.78 200.94" fill="none" stroke="#222" stroke-width="1" stroke-linejoin="round" stroke-linecap="round" />
<path d="M 492.19 203.75 Q 492.5 200.16 497.19 197.81 L 515.16 184.06 Q 520.62 181.56 524.69 185.31 Q 527.19 188.75 524.69 192.81 L 530 205.62 L 517.5 233.75 L 503.12 235.62 L 498.75 238.44 Q 493.28 239.69 490.16 236.25 Q 487.81 232.19 491.25 228.75 Z" fill="#fff" stroke="#222" stroke-width="1.3" stroke-linejoin="round" stroke-linecap="round" />
<path d="M 494.84 205.31 Q 495.31 202.19 499.06 200 L 515.62 186.88 Q 519.84 185.31 522.5 187.66" fill="none" stroke="#222" stroke-width="0.9" stroke-linejoin="round" stroke-linecap="round" />
<path d="M 494.84 205.31 L 493.75 229.06 Q 491.72 232.19 493.28 235" fill="none" stroke="#222" stroke-width="0.9" stroke-linejoin="round" stroke-linecap="round" />
<ellipse cx="522.5" cy="188.75" rx="1.09" ry="1.41" transform="rotate(30 522.5 188.75)" fill="none" stroke="#222" stroke-width="0.9" />
<ellipse cx="495.62" cy="233.75" rx="1.09" ry="1.41" transform="rotate(30 495.62 233.75)" fill="none" stroke="#222" stroke-width="0.9" />
<ellipse cx="495.31" cy="203.75" rx="0.94" ry="1.25" transform="rotate(30 495.31 203.75)" fill="none" stroke="#222" stroke-width="0.9" />
<path d="M 499.38 232.76 A 14.06 23.75 30 0 1 523.12 191.62 L 527.46 194.12 A 14.06 23.75 30 0 1 503.71 235.26 Z" fill="#fff" stroke="#222" stroke-width="1.3" stroke-linejoin="round"/>
<ellipse cx="515.58" cy="214.69" rx="14.06" ry="23.75" transform="rotate(30 515.58 214.69)" fill="#fff" stroke="#222" stroke-width="1.3" />
<ellipse cx="515.31" cy="214.53" rx="11.56" ry="20.31" transform="rotate(30 515.31 214.53)" fill="none" stroke="#222" stroke-width="1.3" />
<ellipse cx="511.25" cy="212.19" rx="10.94" ry="19.69" transform="rotate(30 511.25 212.19)" fill="none" stroke="#222" stroke-width="0.9" />
<path d="M 528.28 199.98 L 523.67 198.64" fill="none" stroke="#222" stroke-width="1" stroke-linejoin="round" stroke-linecap="round" />
<path d="M 529.05 201.95 L 524.36 200.48" fill="none" stroke="#222" stroke-width="1" stroke-linejoin="round" stroke-linecap="round" />
<path d="M 529.56 205.33 L 524.8 203.62" fill="none" stroke="#222" stroke-width="1" stroke-linejoin="round" stroke-linecap="round" />
<path d="M 529.48 207.95 L 524.72 206.08" fill="none" stroke="#222" stroke-width="1" stroke-linejoin="round" stroke-linecap="round" />
<path d="M 528.77 212.02 L 524.02 209.88" fill="none" stroke="#222" stroke-width="1" stroke-linejoin="round" stroke-linecap="round" />
<path d="M 527.86 214.92 L 523.16 212.59" fill="none" stroke="#222" stroke-width="1" stroke-linejoin="round" stroke-linecap="round" />
<path d="M 526.02 219.08 L 521.41 216.48" fill="none" stroke="#222" stroke-width="1" stroke-linejoin="round" stroke-linecap="round" />
<path d="M 524.41 221.83 L 519.89 219.08" fill="none" stroke="#222" stroke-width="1" stroke-linejoin="round" stroke-linecap="round" />
<path d="M 521.7 225.47 L 517.38 222.5" fill="none" stroke="#222" stroke-width="1" stroke-linejoin="round" stroke-linecap="round" />
<path d="M 519.62 227.67 L 515.44 224.58" fill="none" stroke="#222" stroke-width="1" stroke-linejoin="round" stroke-linecap="round" />
<path d="M 516.45 230.27 L 512.48 227.03" fill="none" stroke="#222" stroke-width="1" stroke-linejoin="round" stroke-linecap="round" />
<path d="M 514.22 231.59 L 510.41 228.28" fill="none" stroke="#222" stroke-width="1" stroke-linejoin="round" stroke-linecap="round" />
<path d="M 511.05 232.78 L 507.47 229.41" fill="none" stroke="#222" stroke-width="1" stroke-linejoin="round" stroke-linecap="round" />
<path d="M 508.97 233.05 L 505.55 229.69" fill="none" stroke="#222" stroke-width="1" stroke-linejoin="round" stroke-linecap="round" />
<path d="M 506.27 232.62 L 503.05 229.31" fill="none" stroke="#222" stroke-width="1" stroke-linejoin="round" stroke-linecap="round" />
<path d="M 504.64 231.8 L 501.56 228.55" fill="none" stroke="#222" stroke-width="1" stroke-linejoin="round" stroke-linecap="round" />
<polyline points="522.55,197.01 523.42,198.2 524.09,199.63 524.55,201.27 524.78,203.11 524.79,205.11 524.57,207.23 524.13,209.43 523.47,211.69 522.61,213.96 521.56,216.2 520.34,218.37 518.97,220.44 517.47,222.37 515.87,224.14 514.2,225.69 512.48,227.02 510.75,228.1 509.03,228.91 507.36,229.44 505.75,229.67 504.25,229.61 502.87,229.25 501.64,228.6 500.58,227.68" fill="none" stroke="#222" stroke-width="0.9" stroke-linejoin="round" stroke-linecap="round"/>
<polyline points="345.5,248 333,254.5" fill="none" stroke="#222" stroke-width="0.8" stroke-linejoin="round" stroke-linecap="round"/>
<polyline points="376.25,268.75 360,277.5" fill="none" stroke="#222" stroke-width="0.8" stroke-linejoin="round" stroke-linecap="round"/>
<polyline points="430,302.5 404.5,315.5" fill="none" stroke="#222" stroke-width="0.8" stroke-linejoin="round" stroke-linecap="round"/>
<polyline points="440,308.75 417.5,321.25" fill="none" stroke="#222" stroke-width="0.8" stroke-linejoin="round" stroke-linecap="round"/>
<polyline points="452.5,316.25 427.5,328.75" fill="none" stroke="#222" stroke-width="0.8" stroke-linejoin="round" stroke-linecap="round"/>
<polyline points="477.5,329.5 452.5,342.5" fill="none" stroke="#222" stroke-width="0.8" stroke-linejoin="round" stroke-linecap="round"/>
<polyline points="506.25,348.75 490,357.5" fill="none" stroke="#222" stroke-width="0.8" stroke-linejoin="round" stroke-linecap="round"/>
<polyline points="527.5,361.25 511.25,370" fill="none" stroke="#222" stroke-width="0.8" stroke-linejoin="round" stroke-linecap="round"/>
<polyline points="352.5,350 336.25,357.5" fill="none" stroke="#222" stroke-width="0.8" stroke-linejoin="round" stroke-linecap="round"/>
<polyline points="378.75,365 362.5,373.75" fill="none" stroke="#222" stroke-width="0.8" stroke-linejoin="round" stroke-linecap="round"/>
<polyline points="431.25,395 415,403.75" fill="none" stroke="#222" stroke-width="0.8" stroke-linejoin="round" stroke-linecap="round"/>
<polyline points="456.25,407.5 440,417.5" fill="none" stroke="#222" stroke-width="0.8" stroke-linejoin="round" stroke-linecap="round"/>
<polyline points="482.5,425 463,435" fill="none" stroke="#222" stroke-width="0.8" stroke-linejoin="round" stroke-linecap="round"/>
<polyline points="521.25,447.5 506.25,456.25" fill="none" stroke="#222" stroke-width="0.8" stroke-linejoin="round" stroke-linecap="round"/>
<path d="M 327.75 254.25 L 332.25 254.25 L 332.25 258.75 L 327.75 258.75 Z" fill="#fff" stroke="#444" stroke-width="0.9" stroke-linejoin="round" stroke-linecap="round" />
<ellipse cx="330" cy="258.75" rx="1" ry="2.25" transform="rotate(90 330 258.75)" fill="#fff" stroke="#444" stroke-width="0.9" />
<ellipse cx="330" cy="254.25" rx="1" ry="2.25" transform="rotate(90 330 254.25)" fill="#fff" stroke="#444" stroke-width="0.9" />
<path d="M 327.75 300.25 L 332.25 300.25 L 332.25 304.75 L 327.75 304.75 Z" fill="#fff" stroke="#444" stroke-width="0.9" stroke-linejoin="round" stroke-linecap="round" />
<ellipse cx="330" cy="304.75" rx="1" ry="2.25" transform="rotate(90 330 304.75)" fill="#fff" stroke="#444" stroke-width="0.9" />
<ellipse cx="330" cy="300.25" rx="1" ry="2.25" transform="rotate(90 330 300.25)" fill="#fff" stroke="#444" stroke-width="0.9" />
<path d="M 348 267.67 A 1.5 2.5 30 0 1 350.5 263.33 L 353.1 264.83 A 1.5 2.5 30 0 1 350.6 269.17 Z" fill="#fff" stroke="#444" stroke-width="0.9" stroke-linejoin="round"/>
<ellipse cx="351.85" cy="267" rx="1.5" ry="2.5" transform="rotate(30 351.85 267)" fill="#fff" stroke="#444" stroke-width="0.9" />
<path d="M 307.75 290.92 A 1.5 2.5 30 0 1 310.25 286.58 L 312.85 288.08 A 1.5 2.5 30 0 1 310.35 292.42 Z" fill="#fff" stroke="#444" stroke-width="0.9" stroke-linejoin="round"/>
<ellipse cx="311.6" cy="290.25" rx="1.5" ry="2.5" transform="rotate(30 311.6 290.25)" fill="#fff" stroke="#444" stroke-width="0.9" />
<path d="M 311.25 284.58 A 7.5 12.5 30 0 1 323.75 262.92 L 334.58 269.17 A 7.5 12.5 30 0 1 322.08 290.83 Z" fill="#fff" stroke="#222" stroke-width="1.2" stroke-linejoin="round"/>
<polyline points="318.34,288.61 317.43,288.12 316.64,287.43 315.99,286.55 315.5,285.49 315.17,284.28 315,282.95 315.01,281.51 315.19,279.99 315.54,278.43 316.05,276.85 316.71,275.28 317.5,273.75 318.43,272.29 319.46,270.94 320.57,269.71 321.75,268.63 322.98,267.71 324.22,266.99 325.46,266.46 326.67,266.14 327.83,266.04 328.92,266.16 329.91,266.5 330.79,267.04" fill="none" stroke="#222" stroke-width="1.6" stroke-linejoin="round" stroke-linecap="round"/>
<polyline points="320.84,290.11 319.93,289.62 319.14,288.93 318.49,288.05 318,286.99 317.67,285.78 317.5,284.45 317.51,283.01 317.69,281.49 318.04,279.93 318.55,278.35 319.21,276.78 320,275.25 320.93,273.79 321.96,272.44 323.07,271.21 324.25,270.13 325.48,269.21 326.72,268.49 327.96,267.96 329.17,267.64 330.33,267.54 331.42,267.66 332.41,268 333.29,268.54" fill="none" stroke="#222" stroke-width="0.9" stroke-linejoin="round" stroke-linecap="round"/>
<path d="M 325.5 294.29 A 9.5 16.5 30 0 1 342 265.71 L 372.31 283.21 A 9.5 16.5 30 0 1 355.81 311.79 Z" fill="#fff" stroke="#222" stroke-width="1.2" stroke-linejoin="round"/>
<polyline points="325.5,294.29 324.5,293.55 323.65,292.57 322.98,291.38 322.49,290 322.2,288.44 322.1,286.75 322.2,284.93 322.5,283.03 322.99,281.08 323.67,279.11 324.52,277.16 325.52,275.25 326.67,273.43 327.94,271.71 329.31,270.14 330.75,268.74 332.25,267.53 333.77,266.54 335.29,265.77 336.78,265.25 338.22,264.98 339.59,264.97 340.86,265.21 342,265.71" fill="none" stroke="#222" stroke-width="1" stroke-linejoin="round" stroke-linecap="round"/>
<polyline points="345,305.4 343.84,304.78 342.85,303.89 342.04,302.75 341.44,301.39 341.04,299.82 340.86,298.08 340.9,296.19 341.17,294.21 341.65,292.16 342.33,290.08 343.21,288.01 344.27,286 345.49,284.08 346.84,282.28 348.29,280.65 349.83,279.21 351.42,277.98 353.02,277.01 354.62,276.29 356.18,275.85 357.67,275.69 359.06,275.82 360.32,276.24 361.44,276.93" fill="none" stroke="#222" stroke-width="0.9" stroke-linejoin="round" stroke-linecap="round"/>
<path d="M 355.88 312.05 A 10 18.25 30 0 1 374.12 280.45 L 395.34 292.7 A 10 18.25 30 0 1 377.09 324.3 Z" fill="#fff" stroke="#222" stroke-width="1.3" stroke-linejoin="round"/>
<ellipse cx="386.22" cy="308.5" rx="10" ry="18.25" transform="rotate(30 386.22 308.5)" fill="#fff" stroke="#222" stroke-width="1.3" />
<polyline points="358.88,313.8 357.82,313.02 356.94,311.97 356.26,310.69 355.77,309.19 355.49,307.5 355.42,305.64 355.57,303.65 355.94,301.57 356.51,299.43 357.27,297.26 358.22,295.11 359.34,293 360.6,290.98 362,289.08 363.49,287.33 365.06,285.77 366.68,284.41 368.33,283.29 369.97,282.42 371.57,281.81 373.12,281.48 374.57,281.44 375.92,281.68 377.12,282.2" fill="none" stroke="#222" stroke-width="1" stroke-linejoin="round" stroke-linecap="round"/>
<ellipse cx="386.25" cy="308.5" rx="8.5" ry="15.75" transform="rotate(30 386.25 308.5)" fill="none" stroke="#222" stroke-width="0.9" />
<path d="M 360.52 314.43 L 375.02 322.68" fill="none" stroke="#222" stroke-width="1" stroke-linejoin="round" stroke-linecap="round" />
<path d="M 358.3 313.43 L 372.8 321.68" fill="none" stroke="#222" stroke-width="1" stroke-linejoin="round" stroke-linecap="round" />
<path d="M 355.55 308.07 L 370.05 316.32" fill="none" stroke="#222" stroke-width="1" stroke-linejoin="round" stroke-linecap="round" />
<path d="M 355.48 304.6 L 369.98 312.85" fill="none" stroke="#222" stroke-width="1" stroke-linejoin="round" stroke-linecap="round" />
<path d="M 357.27 297.25 L 371.77 305.5" fill="none" stroke="#222" stroke-width="1" stroke-linejoin="round" stroke-linecap="round" />
<path d="M 359.18 293.27 L 373.68 301.52" fill="none" stroke="#222" stroke-width="1" stroke-linejoin="round" stroke-linecap="round" />
<path d="M 364 286.8 L 378.5 295.05" fill="none" stroke="#222" stroke-width="1" stroke-linejoin="round" stroke-linecap="round" />
<path d="M 367 284.18 L 381.5 292.43" fill="none" stroke="#222" stroke-width="1" stroke-linejoin="round" stroke-linecap="round" />
<path d="M 372.6 281.57 L 387.1 289.82" fill="none" stroke="#222" stroke-width="1" stroke-linejoin="round" stroke-linecap="round" />
<path d="M 375.3 281.52 L 389.8 289.77" fill="none" stroke="#222" stroke-width="1" stroke-linejoin="round" stroke-linecap="round" />
<ellipse cx="330" cy="270" rx="1.25" ry="1.5" transform="rotate(30 330 270)" fill="none" stroke="#222" stroke-width="0.9" />
<ellipse cx="322" cy="283.75" rx="1.25" ry="1.75" transform="rotate(30 322 283.75)" fill="#888" stroke="#222" stroke-width="0.9" />
<ellipse cx="345.5" cy="299.5" rx="1" ry="1.25" transform="rotate(30 345.5 299.5)" fill="#555" stroke="#222" stroke-width="0.9" />
<ellipse cx="355" cy="281.25" rx="0.75" ry="1" transform="rotate(30 355 281.25)" fill="#555" stroke="#222" stroke-width="1.1" />
<ellipse cx="400.5" cy="319.5" rx="4.5" ry="7.5" transform="rotate(30 400.5 319.5)" fill="none" stroke="#222" stroke-width="1.8" />
<ellipse cx="412.5" cy="326.5" rx="5" ry="8.25" transform="rotate(30 412.5 326.5)" fill="#fff" stroke="#222" stroke-width="1.3" />
<ellipse cx="412.75" cy="326.75" rx="3" ry="5.5" transform="rotate(30 412.75 326.75)" fill="none" stroke="#222" stroke-width="1.6" />
<ellipse cx="422.5" cy="332.5" rx="4.25" ry="7.25" transform="rotate(30 422.5 332.5)" fill="none" stroke="#222" stroke-width="1.6" />
<path d="M 429.25 342.26 A 3.25 5.5 30 0 1 434.75 332.74 L 447.74 340.24 A 3.25 5.5 30 0 1 442.24 349.76 Z" fill="#fff" stroke="#222" stroke-width="1.1" stroke-linejoin="round"/>
<polyline points="431.24,343.39 430.84,343.17 430.5,342.87 430.22,342.49 430.01,342.03 429.87,341.5 429.8,340.91 429.81,340.28 429.89,339.62 430.05,338.93 430.27,338.24 430.57,337.55 430.92,336.88 431.32,336.23 431.77,335.64 432.26,335.09 432.78,334.62 433.32,334.21 433.86,333.89 434.4,333.66 434.93,333.51 435.43,333.47 435.9,333.52 436.34,333.66 436.72,333.9" fill="none" stroke="#222" stroke-width="0.9" stroke-linejoin="round" stroke-linecap="round"/>
<polyline points="432.97,344.39 432.57,344.17 432.23,343.87 431.96,343.49 431.74,343.03 431.6,342.5 431.53,341.91 431.54,341.28 431.62,340.62 431.78,339.93 432.01,339.24 432.3,338.55 432.65,337.88 433.06,337.23 433.51,336.64 434,336.09 434.51,335.62 435.05,335.21 435.59,334.89 436.13,334.66 436.66,334.51 437.16,334.47 437.64,334.52 438.07,334.66 438.45,334.9" fill="none" stroke="#222" stroke-width="1.5" stroke-linejoin="round" stroke-linecap="round"/>
<polyline points="434.7,345.39 434.31,345.17 433.97,344.87 433.69,344.49 433.48,344.03 433.33,343.5 433.27,342.91 433.27,342.28 433.36,341.62 433.51,340.93 433.74,340.24 434.03,339.55 434.38,338.88 434.79,338.23 435.24,337.64 435.73,337.09 436.24,336.62 436.78,336.21 437.32,335.89 437.86,335.66 438.39,335.51 438.9,335.47 439.37,335.52 439.8,335.66 440.18,335.9" fill="none" stroke="#222" stroke-width="0.9" stroke-linejoin="round" stroke-linecap="round"/>
<polyline points="436.87,346.64 436.47,346.42 436.13,346.12 435.85,345.74 435.64,345.28 435.5,344.75 435.43,344.16 435.44,343.53 435.52,342.87 435.68,342.18 435.9,341.49 436.19,340.8 436.55,340.12 436.95,339.48 437.4,338.89 437.89,338.34 438.41,337.87 438.94,337.46 439.49,337.14 440.03,336.91 440.56,336.76 441.06,336.72 441.53,336.77 441.96,336.91 442.35,337.15" fill="none" stroke="#222" stroke-width="1.5" stroke-linejoin="round" stroke-linecap="round"/>
<polyline points="439.03,347.89 438.64,347.67 438.3,347.37 438.02,346.99 437.81,346.53 437.66,346 437.6,345.41 437.6,344.78 437.69,344.12 437.84,343.43 438.07,342.74 438.36,342.05 438.71,341.38 439.12,340.73 439.57,340.14 440.06,339.59 440.57,339.12 441.11,338.71 441.65,338.39 442.19,338.16 442.72,338.01 443.23,337.97 443.7,338.02 444.13,338.16 444.51,338.4" fill="none" stroke="#222" stroke-width="0.9" stroke-linejoin="round" stroke-linecap="round"/>
<path d="M 441 351.93 A 4.75 8 30 0 1 449 338.07 L 458.74 343.7 A 4.75 8 30 0 1 450.74 357.55 Z" fill="#fff" stroke="#222" stroke-width="1.1" stroke-linejoin="round"/>
<path d="M 451.5 357.2 A 3.5 6 30 0 1 457.5 346.8 L 469.41 353.68 A 3.5 6 30 0 1 463.41 364.07 Z" fill="#fff" stroke="#222" stroke-width="1.1" stroke-linejoin="round"/>
<ellipse cx="466.41" cy="358.88" rx="3.5" ry="6" transform="rotate(30 466.41 358.88)" fill="#fff" stroke="#222" stroke-width="1.1" />
<polyline points="449,338.07 449.93,338.92 450.52,340.19 450.74,341.78 450.56,343.59 450.01,345.5 449.11,347.38 447.94,349.09 446.56,350.52 445.08,351.58 443.59,352.19 442.2,352.31 441,351.93 440.07,351.08 439.48,349.81 439.26,348.22 439.44,346.41 439.99,344.5 440.89,342.62 442.06,340.91 443.44,339.48 444.92,338.42 446.41,337.81 447.8,337.69 449,338.07" fill="none" stroke="#222" stroke-width="1" stroke-linejoin="round" stroke-linecap="round"/>
<polyline points="458.75,343.82 459.25,344.19 459.68,344.67 460.02,345.26 460.27,345.94 460.43,346.7 460.49,347.53 460.45,348.42 460.31,349.34 460.08,350.29 459.76,351.25 459.35,352.2 458.86,353.12 458.31,354.01 457.69,354.84 457.02,355.6 456.31,356.27 455.58,356.85 454.83,357.33 454.08,357.69 453.34,357.94 452.63,358.06 451.95,358.06 451.32,357.93 450.75,357.68" fill="none" stroke="#222" stroke-width="1" stroke-linejoin="round" stroke-linecap="round"/>
<ellipse cx="480.25" cy="365.75" rx="8.5" ry="14.5" transform="rotate(30 480.25 365.75)" fill="#fff" stroke="#222" stroke-width="1.3" />
<ellipse cx="480.25" cy="365.75" rx="7" ry="12.5" transform="rotate(30 480.25 365.75)" fill="none" stroke="#222" stroke-width="0.8" />
<ellipse cx="480.75" cy="366" rx="3.5" ry="6.5" transform="rotate(30 480.75 366)" fill="none" stroke="#222" stroke-width="1.3" />
<ellipse cx="480.75" cy="366" rx="2.25" ry="4.25" transform="rotate(30 480.75 366)" fill="none" stroke="#222" stroke-width="0.9" />
<path d="M 490.75 388.56 A 8.5 14.5 30 0 1 505.25 363.44 L 508.28 365.19 A 8.5 14.5 30 0 1 493.78 390.31 Z" fill="#fff" stroke="#222" stroke-width="1.3" stroke-linejoin="round"/>
<ellipse cx="501.03" cy="377.75" rx="8.5" ry="14.5" transform="rotate(30 501.03 377.75)" fill="#fff" stroke="#222" stroke-width="1.3" />
<ellipse cx="501.5" cy="378" rx="4.25" ry="7.5" transform="rotate(30 501.5 378)" fill="none" stroke="#222" stroke-width="1.3" />
<ellipse cx="501.5" cy="378" rx="3" ry="5.5" transform="rotate(30 501.5 378)" fill="none" stroke="#222" stroke-width="0.8" />
<ellipse cx="506.25" cy="367" rx="0.75" ry="1" transform="rotate(30 506.25 367)" fill="none" stroke="#222" stroke-width="0.8" />
<ellipse cx="493" cy="386.25" rx="0.75" ry="1" transform="rotate(30 493 386.25)" fill="none" stroke="#222" stroke-width="0.8" />
<ellipse cx="503" cy="365.5" rx="0.75" ry="1" transform="rotate(30 503 365.5)" fill="none" stroke="#222" stroke-width="0.8" />
<path d="M 312.75 375.56 A 8.5 14.5 30 0 1 327.25 350.44 L 334.61 354.69 A 8.5 14.5 30 0 1 320.11 379.81 Z" fill="#fff" stroke="#222" stroke-width="1.2" stroke-linejoin="round"/>
<ellipse cx="327.36" cy="367.25" rx="8.5" ry="14.5" transform="rotate(30 327.36 367.25)" fill="#fff" stroke="#222" stroke-width="1.2" />
<ellipse cx="327.5" cy="367.5" rx="6.75" ry="12" transform="rotate(30 327.5 367.5)" fill="none" stroke="#222" stroke-width="1" />
<polyline points="340.29,390.76 338.93,390.66 337.7,390.24 336.66,389.5 335.81,388.47 335.18,387.17 334.79,385.64 334.65,383.91 334.76,382.03 335.12,380.05 335.72,378.02 336.55,375.98 337.57,374 338.78,372.12 340.13,370.39 341.59,368.85 343.12,367.55 344.69,366.52 346.26,365.77 347.78,365.34 349.22,365.24 350.54,365.46 351.7,366 352.68,366.84 353.45,367.97" fill="none" stroke="#222" stroke-width="1.3" stroke-linejoin="round" stroke-linecap="round"/>
<polyline points="348.54,395.51 347.18,395.41 345.95,394.99 344.91,394.25 344.06,393.22 343.43,391.92 343.04,390.39 342.9,388.66 343.01,386.78 343.37,384.8 343.97,382.77 344.8,380.73 345.82,378.75 347.03,376.87 348.38,375.14 349.84,373.6 351.37,372.3 352.94,371.27 354.51,370.52 356.03,370.09 357.47,369.99 358.79,370.21 359.95,370.75 360.93,371.59 361.7,372.72" fill="none" stroke="#222" stroke-width="1.3" stroke-linejoin="round" stroke-linecap="round"/>
<polyline points="356.79,400.26 355.43,400.16 354.2,399.74 353.16,399 352.31,397.97 351.68,396.67 351.29,395.14 351.15,393.41 351.26,391.53 351.62,389.55 352.22,387.52 353.05,385.48 354.07,383.5 355.28,381.62 356.63,379.89 358.09,378.35 359.62,377.05 361.19,376.02 362.76,375.27 364.28,374.84 365.72,374.74 367.04,374.96 368.2,375.5 369.18,376.34 369.95,377.47" fill="none" stroke="#222" stroke-width="1.3" stroke-linejoin="round" stroke-linecap="round"/>
<polyline points="365.04,405.01 363.68,404.91 362.45,404.49 361.41,403.75 360.56,402.72 359.93,401.42 359.54,399.89 359.4,398.16 359.51,396.28 359.87,394.3 360.47,392.27 361.3,390.23 362.32,388.25 363.53,386.37 364.88,384.64 366.34,383.1 367.87,381.8 369.44,380.77 371.01,380.02 372.53,379.59 373.97,379.49 375.29,379.71 376.45,380.25 377.43,381.09 378.2,382.22" fill="none" stroke="#222" stroke-width="1.3" stroke-linejoin="round" stroke-linecap="round"/>
<ellipse cx="369.25" cy="392.5" rx="8" ry="14" transform="rotate(30 369.25 392.5)" fill="none" stroke="#222" stroke-width="1.3" />
<path d="M 380.5 419.95 A 11 19 30 0 1 399.5 387.05 L 410.33 393.3 A 11 19 30 0 1 391.33 426.2 Z" fill="#fff" stroke="#222" stroke-width="1.8" stroke-linejoin="round"/>
<ellipse cx="400.83" cy="409.75" rx="11" ry="19" transform="rotate(30 400.83 409.75)" fill="#fff" stroke="#222" stroke-width="1.8" />
<polyline points="383.5,421.7 382.34,420.85 381.36,419.72 380.58,418.35 380.01,416.75 379.66,414.96 379.55,413 379.66,410.9 380,408.71 380.56,406.47 381.34,404.2 382.32,401.94 383.47,399.75 384.8,397.65 386.26,395.68 387.83,393.87 389.5,392.26 391.23,390.87 392.98,389.73 394.74,388.85 396.46,388.25 398.13,387.94 399.71,387.93 401.18,388.22 402.5,388.8" fill="none" stroke="#222" stroke-width="0.9" stroke-linejoin="round" stroke-linecap="round"/>
<ellipse cx="401" cy="409.75" rx="11" ry="19" transform="rotate(30 401 409.75)" fill="none" stroke="#222" stroke-width="1.3" />
<ellipse cx="401.5" cy="410" rx="7" ry="12.5" transform="rotate(30 401.5 410)" fill="none" stroke="#222" stroke-width="1.3" />
<ellipse cx="401.5" cy="410" rx="5.75" ry="10.5" transform="rotate(30 401.5 410)" fill="none" stroke="#222" stroke-width="0.9" />
<path d="M 409.88 414.88 L 408.2 413.88" fill="none" stroke="#222" stroke-width="0.6" stroke-linejoin="round" stroke-linecap="round" />
<path d="M 408.35 417.25 L 407.05 415.7" fill="none" stroke="#222" stroke-width="0.6" stroke-linejoin="round" stroke-linecap="round" />
<path d="M 406.65 419.45 L 405.75 417.38" fill="none" stroke="#222" stroke-width="0.6" stroke-linejoin="round" stroke-linecap="round" />
<path d="M 404.82 421.4 L 404.35 418.85" fill="none" stroke="#222" stroke-width="0.6" stroke-linejoin="round" stroke-linecap="round" />
<path d="M 402.9 423.05 L 402.9 420.12" fill="none" stroke="#222" stroke-width="0.6" stroke-linejoin="round" stroke-linecap="round" />
<path d="M 400.93 424.4 L 401.38 421.15" fill="none" stroke="#222" stroke-width="0.6" stroke-linejoin="round" stroke-linecap="round" />
<path d="M 398.93 425.38 L 399.88 421.9" fill="none" stroke="#222" stroke-width="0.6" stroke-linejoin="round" stroke-linecap="round" />
<path d="M 397 425.98 L 398.43 422.38" fill="none" stroke="#222" stroke-width="0.6" stroke-linejoin="round" stroke-linecap="round" />
<path d="M 395.18 426.15 L 397.02 422.52" fill="none" stroke="#222" stroke-width="0.6" stroke-linejoin="round" stroke-linecap="round" />
<path d="M 393.5 425.95 L 395.75 422.38" fill="none" stroke="#222" stroke-width="0.6" stroke-linejoin="round" stroke-linecap="round" />
<path d="M 392 425.35 L 394.62 421.9" fill="none" stroke="#222" stroke-width="0.6" stroke-linejoin="round" stroke-linecap="round" />
<path d="M 390.73 424.35 L 393.65 421.15" fill="none" stroke="#222" stroke-width="0.6" stroke-linejoin="round" stroke-linecap="round" />
<path d="M 389.7 423 L 392.88 420.12" fill="none" stroke="#222" stroke-width="0.6" stroke-linejoin="round" stroke-linecap="round" />
<path d="M 388.95 421.32 L 392.32 418.85" fill="none" stroke="#222" stroke-width="0.6" stroke-linejoin="round" stroke-linecap="round" />
<path d="M 388.5 419.35 L 392 417.35" fill="none" stroke="#222" stroke-width="0.6" stroke-linejoin="round" stroke-linecap="round" />
<path d="M 388.35 417.15 L 391.9 415.68" fill="none" stroke="#222" stroke-width="0.6" stroke-linejoin="round" stroke-linecap="round" />
<path d="M 388.52 414.77 L 392.02 413.88" fill="none" stroke="#222" stroke-width="0.6" stroke-linejoin="round" stroke-linecap="round" />
<path d="M 389 412.25 L 392.4 411.95" fill="none" stroke="#222" stroke-width="0.6" stroke-linejoin="round" stroke-linecap="round" />
<path d="M 389.77 409.7 L 393 410" fill="none" stroke="#222" stroke-width="0.6" stroke-linejoin="round" stroke-linecap="round" />
<path d="M 390.82 407.12 L 393.8 408.02" fill="none" stroke="#222" stroke-width="0.6" stroke-linejoin="round" stroke-linecap="round" />
<path d="M 392.12 404.62 L 394.8 406.12" fill="none" stroke="#222" stroke-width="0.6" stroke-linejoin="round" stroke-linecap="round" />
<path d="M 393.65 402.25 L 395.95 404.3" fill="none" stroke="#222" stroke-width="0.6" stroke-linejoin="round" stroke-linecap="round" />
<path d="M 395.35 400.05 L 397.25 402.62" fill="none" stroke="#222" stroke-width="0.6" stroke-linejoin="round" stroke-linecap="round" />
<path d="M 397.18 398.1 L 398.65 401.15" fill="none" stroke="#222" stroke-width="0.6" stroke-linejoin="round" stroke-linecap="round" />
<path d="M 399.1 396.45 L 400.1 399.88" fill="none" stroke="#222" stroke-width="0.6" stroke-linejoin="round" stroke-linecap="round" />
<path d="M 401.07 395.1 L 401.62 398.85" fill="none" stroke="#222" stroke-width="0.6" stroke-linejoin="round" stroke-linecap="round" />
<path d="M 403.07 394.12 L 403.12 398.1" fill="none" stroke="#222" stroke-width="0.6" stroke-linejoin="round" stroke-linecap="round" />
<path d="M 405 393.52 L 404.57 397.62" fill="none" stroke="#222" stroke-width="0.6" stroke-linejoin="round" stroke-linecap="round" />
<path d="M 406.82 393.35 L 405.98 397.48" fill="none" stroke="#222" stroke-width="0.6" stroke-linejoin="round" stroke-linecap="round" />
<path d="M 408.5 393.55 L 407.25 397.62" fill="none" stroke="#222" stroke-width="0.6" stroke-linejoin="round" stroke-linecap="round" />
<path d="M 410 394.15 L 408.38 398.1" fill="none" stroke="#222" stroke-width="0.6" stroke-linejoin="round" stroke-linecap="round" />
<path d="M 411.27 395.15 L 409.35 398.85" fill="none" stroke="#222" stroke-width="0.6" stroke-linejoin="round" stroke-linecap="round" />
<path d="M 412.3 396.5 L 410.12 399.88" fill="none" stroke="#222" stroke-width="0.6" stroke-linejoin="round" stroke-linecap="round" />
<path d="M 413.05 398.18 L 410.68 401.15" fill="none" stroke="#222" stroke-width="0.6" stroke-linejoin="round" stroke-linecap="round" />
<path d="M 413.5 400.15 L 411 402.65" fill="none" stroke="#222" stroke-width="0.6" stroke-linejoin="round" stroke-linecap="round" />
<path d="M 413.65 402.35 L 411.1 404.32" fill="none" stroke="#222" stroke-width="0.6" stroke-linejoin="round" stroke-linecap="round" />
<path d="M 413.48 404.73 L 410.98 406.12" fill="none" stroke="#222" stroke-width="0.6" stroke-linejoin="round" stroke-linecap="round" />
<path d="M 413 407.25 L 410.6 408.05" fill="none" stroke="#222" stroke-width="0.6" stroke-linejoin="round" stroke-linecap="round" />
<path d="M 412.23 409.8 L 410 410" fill="none" stroke="#222" stroke-width="0.6" stroke-linejoin="round" stroke-linecap="round" />
<path d="M 411.18 412.38 L 409.2 411.98" fill="none" stroke="#222" stroke-width="0.6" stroke-linejoin="round" stroke-linecap="round" />
<path d="M 417 431.89 A 7 12 30 0 1 429 411.11 L 440.26 417.61 A 7 12 30 0 1 428.26 438.39 Z" fill="#fff" stroke="#222" stroke-width="1.2" stroke-linejoin="round"/>
<ellipse cx="434.26" cy="428" rx="7" ry="12" transform="rotate(30 434.26 428)" fill="#fff" stroke="#222" stroke-width="1.2" />
<polyline points="421.5,434.39 420.76,433.85 420.14,433.13 419.64,432.26 419.27,431.25 419.05,430.11 418.97,428.87 419.04,427.55 419.25,426.17 419.6,424.74 420.09,423.31 420.71,421.89 421.44,420.5 422.27,419.17 423.2,417.93 424.2,416.79 425.25,415.77 426.34,414.9 427.46,414.18 428.57,413.62 429.67,413.25 430.72,413.06 431.73,413.06 432.66,413.24 433.5,413.61" fill="none" stroke="#222" stroke-width="1" stroke-linejoin="round" stroke-linecap="round"/>
<polyline points="423.5,435.64 422.76,435.1 422.14,434.38 421.64,433.51 421.27,432.5 421.05,431.36 420.97,430.12 421.04,428.8 421.25,427.42 421.6,425.99 422.09,424.56 422.71,423.14 423.44,421.75 424.27,420.42 425.2,419.18 426.2,418.04 427.25,417.02 428.34,416.15 429.46,415.43 430.57,414.87 431.67,414.5 432.72,414.31 433.73,414.31 434.66,414.49 435.5,414.86" fill="none" stroke="#222" stroke-width="1.6" stroke-linejoin="round" stroke-linecap="round"/>
<ellipse cx="454.5" cy="441.75" rx="6.5" ry="11" transform="rotate(30 454.5 441.75)" fill="none" stroke="#222" stroke-width="1.8" />
<polyline points="510,347.5 491.25,357.5" fill="none" stroke="#222" stroke-width="0.8" stroke-linejoin="round" stroke-linecap="round"/>
<polyline points="531.25,360 512.5,370" fill="none" stroke="#222" stroke-width="0.8" stroke-linejoin="round" stroke-linecap="round"/>
<polyline points="548.75,371.25 530,381.25" fill="none" stroke="#222" stroke-width="0.8" stroke-linejoin="round" stroke-linecap="round"/>
<polyline points="570,383.75 556.25,392.5" fill="none" stroke="#222" stroke-width="0.8" stroke-linejoin="round" stroke-linecap="round"/>
<polyline points="591.75,395.5 591.75,409.5" fill="none" stroke="#222" stroke-width="0.8" stroke-linejoin="round" stroke-linecap="round"/>
<polyline points="615.5,409.5 615.5,423" fill="none" stroke="#222" stroke-width="0.8" stroke-linejoin="round" stroke-linecap="round"/>
<polyline points="623,366.25 638,376.25" fill="none" stroke="#222" stroke-width="0.8" stroke-linejoin="round" stroke-linecap="round"/>
<polyline points="622.5,383 636.25,391.25" fill="none" stroke="#222" stroke-width="0.8" stroke-linejoin="round" stroke-linecap="round"/>
<polyline points="677.5,446.25 662,455" fill="none" stroke="#222" stroke-width="0.8" stroke-linejoin="round" stroke-linecap="round"/>
<polyline points="521.25,447.5 506.25,456.25" fill="none" stroke="#222" stroke-width="0.8" stroke-linejoin="round" stroke-linecap="round"/>
<polyline points="545,523.75 562,513.75" fill="none" stroke="#222" stroke-width="0.8" stroke-linejoin="round" stroke-linecap="round"/>
<polyline points="561.25,532.5 577.5,522.5" fill="none" stroke="#222" stroke-width="0.8" stroke-linejoin="round" stroke-linecap="round"/>
<polyline points="623.75,500 611.25,506.25" fill="none" stroke="#222" stroke-width="0.8" stroke-linejoin="round" stroke-linecap="round"/>
<polyline points="631.25,513.75 617.5,522.5" fill="none" stroke="#222" stroke-width="0.8" stroke-linejoin="round" stroke-linecap="round"/>
<polyline points="656.25,527.5 638,537" fill="none" stroke="#222" stroke-width="0.8" stroke-linejoin="round" stroke-linecap="round"/>
<polyline points="683.75,542.5 662.5,553.75" fill="none" stroke="#222" stroke-width="0.8" stroke-linejoin="round" stroke-linecap="round"/>
<polyline points="646.25,392.5 646.25,442.5" fill="none" stroke="#222" stroke-width="0.8" stroke-linejoin="round" stroke-linecap="round"/>
<ellipse cx="520" cy="389.5" rx="8.25" ry="14" transform="rotate(30 520 389.5)" fill="#fff" stroke="#222" stroke-width="1.3" />
<ellipse cx="520" cy="389.5" rx="6.5" ry="11.5" transform="rotate(30 520 389.5)" fill="none" stroke="#222" stroke-width="0.8" />
<path d="M 515.25 395.5 A 4.25 7.5 30 0 1 522.75 382.5 L 525.78 384.25 A 4.25 7.5 30 0 1 518.28 397.25 Z" fill="#fff" stroke="#222" stroke-width="1.1" stroke-linejoin="round"/>
<ellipse cx="522.03" cy="390.75" rx="4.25" ry="7.5" transform="rotate(30 522.03 390.75)" fill="#fff" stroke="#222" stroke-width="1.1" />
<ellipse cx="522" cy="390.75" rx="2.75" ry="5" transform="rotate(30 522 390.75)" fill="none" stroke="#222" stroke-width="0.9" />
<path d="M 533.25 414.36 A 9.25 16 30 0 1 549.25 386.64 L 570.47 398.89 A 9.25 16 30 0 1 554.47 426.61 Z" fill="#fff" stroke="#222" stroke-width="1.4" stroke-linejoin="round"/>
<ellipse cx="562.47" cy="412.75" rx="9.25" ry="16" transform="rotate(30 562.47 412.75)" fill="#fff" stroke="#222" stroke-width="1.4" />
<ellipse cx="562" cy="412.5" rx="7.25" ry="13" transform="rotate(30 562 412.5)" fill="none" stroke="#222" stroke-width="1.3" />
<polyline points="535.75,415.86 534.77,415.13 533.95,414.19 533.29,413.03 532.82,411.69 532.53,410.18 532.43,408.53 532.52,406.77 532.81,404.92 533.29,403.03 533.94,401.12 534.76,399.22 535.74,397.38 536.85,395.61 538.08,393.95 539.41,392.42 540.81,391.07 542.26,389.9 543.74,388.93 545.22,388.19 546.67,387.69 548.08,387.43 549.4,387.42 550.64,387.66 551.75,388.14" fill="none" stroke="#222" stroke-width="0.9" stroke-linejoin="round" stroke-linecap="round"/>
<polyline points="550.75,424.36 549.77,423.63 548.95,422.69 548.29,421.53 547.82,420.19 547.53,418.68 547.43,417.03 547.52,415.27 547.81,413.42 548.29,411.53 548.94,409.62 549.76,407.72 550.74,405.88 551.85,404.11 553.08,402.45 554.41,400.92 555.81,399.57 557.26,398.4 558.74,397.43 560.22,396.69 561.67,396.19 563.08,395.93 564.4,395.92 565.64,396.16 566.75,396.64" fill="none" stroke="#222" stroke-width="0.9" stroke-linejoin="round" stroke-linecap="round"/>
<path d="M 536.48 415.85 L 546.98 421.85 L 545.42 419.07 L 534.92 413.07 Z" fill="none" stroke="#222" stroke-width="1.1" stroke-linejoin="round" stroke-linecap="round" />
<path d="M 534.48 408.38 L 544.98 414.38 L 545.83 409.9 L 535.33 403.9 Z" fill="none" stroke="#222" stroke-width="1.1" stroke-linejoin="round" stroke-linecap="round" />
<path d="M 537.75 398.38 L 548.25 404.38 L 551.1 400.32 L 540.6 394.32 Z" fill="none" stroke="#222" stroke-width="1.1" stroke-linejoin="round" stroke-linecap="round" />
<path d="M 544.75 390.55 L 555.25 396.55 L 558.8 394.8 L 548.3 388.8 Z" fill="none" stroke="#222" stroke-width="1.1" stroke-linejoin="round" stroke-linecap="round" />
<path d="M 551.4 388.43 L 561.9 394.43 L 564.65 395.4 L 554.15 389.4 Z" fill="none" stroke="#222" stroke-width="1.1" stroke-linejoin="round" stroke-linecap="round" />
<path d="M 572.92 402.8 L 570.77 404.55" fill="none" stroke="#222" stroke-width="1.6" stroke-linejoin="round" stroke-linecap="round" />
<path d="M 572.27 412.1 L 570.12 412.05" fill="none" stroke="#222" stroke-width="1.6" stroke-linejoin="round" stroke-linecap="round" />
<path d="M 566.8 421.57 L 565.67 419.75" fill="none" stroke="#222" stroke-width="1.6" stroke-linejoin="round" stroke-linecap="round" />
<path d="M 559.08 426.8 L 559.5 424.05" fill="none" stroke="#222" stroke-width="1.6" stroke-linejoin="round" stroke-linecap="round" />
<path d="M 552.5 405 L 557.5 416.25 M 556.25 405 L 568 410.5 M 557.5 416.25 L 567.5 415" fill="none" stroke="#222" stroke-width="1.2" stroke-linejoin="round" stroke-linecap="round" />
<ellipse cx="587.75" cy="427.75" rx="11.5" ry="19.5" transform="rotate(30 587.75 427.75)" fill="none" stroke="#222" stroke-width="1.6" />
<polygon points="621.51,449.74 614.89,456.41 607.67,459.09 601.79,457.08 598.81,450.92 599.55,442.24 603.8,433.39 610.42,426.72 617.64,424.03 623.53,426.04 626.5,432.21 625.76,440.88" fill="#fff" stroke="#222" stroke-width="1.6" stroke-linejoin="round" stroke-linecap="round"/>
<polyline points="621.51,449.74 624.64,451.61" fill="none" stroke="#222" stroke-width="1.2" stroke-linejoin="round" stroke-linecap="round"/>
<polyline points="614.89,456.41 618.02,458.28" fill="none" stroke="#222" stroke-width="1.2" stroke-linejoin="round" stroke-linecap="round"/>
<polyline points="607.67,459.09 610.8,460.97" fill="none" stroke="#222" stroke-width="1.2" stroke-linejoin="round" stroke-linecap="round"/>
<polyline points="601.79,457.08 604.91,458.96" fill="none" stroke="#222" stroke-width="1.2" stroke-linejoin="round" stroke-linecap="round"/>
<polyline points="598.81,450.92 601.94,452.79" fill="none" stroke="#222" stroke-width="1.2" stroke-linejoin="round" stroke-linecap="round"/>
<polyline points="599.55,442.24 602.68,444.12" fill="none" stroke="#222" stroke-width="1.2" stroke-linejoin="round" stroke-linecap="round"/>
<polyline points="603.8,433.39 606.92,435.26" fill="none" stroke="#222" stroke-width="1.2" stroke-linejoin="round" stroke-linecap="round"/>
<polyline points="610.42,426.72 613.55,428.59" fill="none" stroke="#222" stroke-width="1.2" stroke-linejoin="round" stroke-linecap="round"/>
<polyline points="617.64,424.03 620.77,425.91" fill="none" stroke="#222" stroke-width="1.2" stroke-linejoin="round" stroke-linecap="round"/>
<polyline points="623.53,426.04 626.65,427.92" fill="none" stroke="#222" stroke-width="1.2" stroke-linejoin="round" stroke-linecap="round"/>
<polyline points="626.5,432.21 629.62,434.08" fill="none" stroke="#222" stroke-width="1.2" stroke-linejoin="round" stroke-linecap="round"/>
<polyline points="625.76,440.88 628.89,442.76" fill="none" stroke="#222" stroke-width="1.2" stroke-linejoin="round" stroke-linecap="round"/>
<polygon points="624.64,451.61 618.02,458.28 610.8,460.97 604.91,458.96 601.94,452.79 602.68,444.12 606.92,435.26 613.55,428.59 620.77,425.91 626.65,427.92 629.62,434.08 628.89,442.76" fill="#fff" stroke="#222" stroke-width="1.6" stroke-linejoin="round" stroke-linecap="round"/>
<ellipse cx="615.78" cy="443.44" rx="9.06" ry="15.31" transform="rotate(30 615.78 443.44)" fill="none" stroke="#222" stroke-width="1.6" />
<ellipse cx="614.69" cy="442.81" rx="9.06" ry="15.31" transform="rotate(30 614.69 442.81)" fill="none" stroke="#222" stroke-width="0.8" />
<polyline points="621.33,454.95 620.66,453.57" fill="none" stroke="#222" stroke-width="1.8" stroke-linejoin="round" stroke-linecap="round"/>
<polyline points="607.85,459.96 608.81,457.98" fill="none" stroke="#222" stroke-width="1.8" stroke-linejoin="round" stroke-linecap="round"/>
<polyline points="602.31,448.45 603.92,447.85" fill="none" stroke="#222" stroke-width="1.8" stroke-linejoin="round" stroke-linecap="round"/>
<polyline points="610.23,431.93 610.9,433.31" fill="none" stroke="#222" stroke-width="1.8" stroke-linejoin="round" stroke-linecap="round"/>
<polyline points="623.71,426.91 622.76,428.89" fill="none" stroke="#222" stroke-width="1.8" stroke-linejoin="round" stroke-linecap="round"/>
<polyline points="629.26,438.42 627.64,439.02" fill="none" stroke="#222" stroke-width="1.8" stroke-linejoin="round" stroke-linecap="round"/>
<path d="M 656.25 383.25 Q 645 381.25 637 392.5 Q 628 407.5 632.5 416.25 L 663 431.25 L 665 428 L 637 413.75 Q 632.5 406.25 640 395.5 Q 646.25 386.25 656.25 387 L 658 395.5 L 693.75 414.5 L 695.5 411 L 663.75 393 L 662 387 Z" fill="#fff" stroke="#222" stroke-width="1.2" stroke-linejoin="round" stroke-linecap="round" />
<path d="M 637 392.5 L 639.5 394.5 M 633.75 401.25 L 637 402.5 M 632.5 410 L 635.5 409.5 M 645 385.5 L 646.5 388 M 663 431.25 L 663 428 M 693.75 414.5 L 693.25 411.25" fill="none" stroke="#222" stroke-width="0.9" stroke-linejoin="round" stroke-linecap="round" />
<path d="M 632.5 383.75 Q 640 370 656.25 367.5 L 660 370.5 Q 645 373 637 385.5 Z" fill="#fff" stroke="#222" stroke-width="1.2" stroke-linejoin="round" stroke-linecap="round" />
<path d="M 627 475.55 A 13 22 30 0 1 649 437.45 L 656.79 441.95 A 13 22 30 0 1 634.79 480.05 Z" fill="#fff" stroke="#222" stroke-width="1.4" stroke-linejoin="round"/>
<ellipse cx="645.79" cy="461" rx="13" ry="22" transform="rotate(30 645.79 461)" fill="#fff" stroke="#222" stroke-width="1.4" />
<polyline points="629.5,477.05 628.12,476.04 626.96,474.72 626.03,473.11 625.34,471.25 624.92,469.16 624.76,466.88 624.87,464.44 625.25,461.9 625.89,459.29 626.78,456.65 627.9,454.04 629.24,451.5 630.77,449.07 632.47,446.79 634.31,444.7 636.25,442.84 638.26,441.24 640.32,439.93 642.37,438.93 644.4,438.25 646.35,437.91 648.21,437.91 649.94,438.26 651.5,438.95" fill="none" stroke="#222" stroke-width="0.9" stroke-linejoin="round" stroke-linecap="round"/>
<polyline points="631.5,478.3 630.12,477.29 628.96,475.97 628.03,474.36 627.34,472.5 626.92,470.41 626.76,468.13 626.87,465.69 627.25,463.15 627.89,460.54 628.78,457.9 629.9,455.29 631.24,452.75 632.77,450.32 634.47,448.04 636.31,445.95 638.25,444.09 640.26,442.49 642.32,441.18 644.37,440.18 646.4,439.5 648.35,439.16 650.21,439.16 651.94,439.51 653.5,440.2" fill="none" stroke="#222" stroke-width="0.9" stroke-linejoin="round" stroke-linecap="round"/>
<ellipse cx="646.25" cy="461.5" rx="10" ry="17.5" transform="rotate(30 646.25 461.5)" fill="none" stroke="#222" stroke-width="1.3" />
<path d="M 658.73 444.25 L 656.38 447.45" fill="none" stroke="#222" stroke-width="1.3" stroke-linejoin="round" stroke-linecap="round" />
<path d="M 661.38 450.68 L 658.48 452.62" fill="none" stroke="#222" stroke-width="1.3" stroke-linejoin="round" stroke-linecap="round" />
<path d="M 660.5 459.62 L 657.73 459.9" fill="none" stroke="#222" stroke-width="1.3" stroke-linejoin="round" stroke-linecap="round" />
<path d="M 656.3 469.02 L 654.27 467.55" fill="none" stroke="#222" stroke-width="1.3" stroke-linejoin="round" stroke-linecap="round" />
<path d="M 649.73 476.68 L 648.95 473.77" fill="none" stroke="#222" stroke-width="1.3" stroke-linejoin="round" stroke-linecap="round" />
<path d="M 642.35 480.75 L 643 477.12" fill="none" stroke="#222" stroke-width="1.3" stroke-linejoin="round" stroke-linecap="round" />
<path d="M 635.88 480.32 L 637.8 476.82" fill="none" stroke="#222" stroke-width="1.3" stroke-linejoin="round" stroke-linecap="round" />
<path d="M 631.85 475.5 L 634.6 472.93" fill="none" stroke="#222" stroke-width="1.3" stroke-linejoin="round" stroke-linecap="round" />
<polyline points="653.07,447.45 653.62,448.77 653.98,450.27 654.14,451.92 654.11,453.7 653.87,455.58 653.44,457.52 652.83,459.48 652.03,461.45 651.08,463.37 649.98,465.23 648.75,466.98 647.41,468.6 645.99,470.06 644.51,471.34 642.99,472.41 641.47,473.25 639.96,473.85 638.5,474.21 637.11,474.31 635.8,474.15 634.62,473.73 633.56,473.07 632.66,472.17 631.93,471.05" fill="none" stroke="#222" stroke-width="0.9" stroke-linejoin="round" stroke-linecap="round"/>
<path d="M 642.5 440.5 L 642.5 443.75 L 648.75 445.5 L 648.75 442" fill="none" stroke="#222" stroke-width="1" stroke-linejoin="round" stroke-linecap="round" />
<path d="M 468 465.12 A 8 14 30 0 1 482 440.88 L 536.13 472.13 A 8 14 30 0 1 522.13 496.37 Z" fill="#fff" stroke="#222" stroke-width="1.2" stroke-linejoin="round"/>
<ellipse cx="529.13" cy="484.25" rx="8" ry="14" transform="rotate(30 529.13 484.25)" fill="#fff" stroke="#222" stroke-width="1.2" />
<polyline points="511.3,490.12 510.46,489.5 509.75,488.68 509.18,487.67 508.77,486.5 508.53,485.18 508.45,483.74 508.54,482.21 508.8,480.6 509.22,478.94 509.8,477.27 510.52,475.62 511.37,474 512.34,472.45 513.42,471 514.58,469.66 515.8,468.47 517.06,467.45 518.35,466.6 519.64,465.95 520.9,465.5 522.12,465.27 523.27,465.25 524.34,465.46 525.3,465.88" fill="none" stroke="#222" stroke-width="1.4" stroke-linejoin="round" stroke-linecap="round"/>
<polyline points="513.9,491.62 513.05,491 512.34,490.18 511.78,489.17 511.37,488 511.13,486.68 511.05,485.24 511.14,483.71 511.4,482.1 511.82,480.44 512.39,478.77 513.12,477.12 513.97,475.5 514.94,473.95 516.02,472.5 517.18,471.16 518.4,469.97 519.66,468.95 520.95,468.1 522.23,467.45 523.5,467 524.71,466.77 525.87,466.75 526.93,466.96 527.9,467.38" fill="none" stroke="#222" stroke-width="1.4" stroke-linejoin="round" stroke-linecap="round"/>
<polyline points="516.5,493.12 515.65,492.5 514.94,491.68 514.38,490.67 513.97,489.5 513.72,488.18 513.65,486.74 513.74,485.21 514,483.6 514.42,481.94 514.99,480.27 515.71,478.62 516.57,477 517.54,475.45 518.62,474 519.77,472.66 521,471.47 522.26,470.45 523.55,469.6 524.83,468.95 526.09,468.5 527.31,468.27 528.46,468.25 529.53,468.46 530.5,468.88" fill="none" stroke="#222" stroke-width="1.4" stroke-linejoin="round" stroke-linecap="round"/>
<polyline points="519.09,494.62 518.25,494 517.54,493.18 516.98,492.17 516.57,491 516.32,489.68 516.25,488.24 516.34,486.71 516.59,485.1 517.01,483.44 517.59,481.77 518.31,480.12 519.17,478.5 520.14,476.95 521.21,475.5 522.37,474.16 523.59,472.97 524.86,471.95 526.14,471.1 527.43,470.45 528.69,470 529.91,469.77 531.06,469.75 532.13,469.96 533.09,470.38" fill="none" stroke="#222" stroke-width="1.4" stroke-linejoin="round" stroke-linecap="round"/>
<ellipse cx="529.25" cy="484.25" rx="6.5" ry="11.5" transform="rotate(30 529.25 484.25)" fill="none" stroke="#222" stroke-width="1" />
<ellipse cx="475.5" cy="443" rx="0.5" ry="0.62" transform="rotate(30 475.5 443)" fill="#555" stroke="#222" stroke-width="0.8" />
<ellipse cx="471.25" cy="452" rx="0.5" ry="0.62" transform="rotate(30 471.25 452)" fill="#555" stroke="#222" stroke-width="0.8" />
<ellipse cx="488.75" cy="452.5" rx="0.5" ry="0.62" transform="rotate(30 488.75 452.5)" fill="#555" stroke="#222" stroke-width="0.8" />
<ellipse cx="493" cy="453" rx="0.5" ry="0.62" transform="rotate(30 493 453)" fill="#555" stroke="#222" stroke-width="0.8" />
<ellipse cx="479.5" cy="467" rx="0.5" ry="0.62" transform="rotate(30 479.5 467)" fill="#555" stroke="#222" stroke-width="0.8" />
<ellipse cx="493" cy="473.75" rx="0.5" ry="0.62" transform="rotate(30 493 473.75)" fill="#555" stroke="#222" stroke-width="0.8" />
<ellipse cx="504.5" cy="460" rx="1.25" ry="1.75" transform="rotate(30 504.5 460)" fill="none" stroke="#222" stroke-width="0.8" />
<ellipse cx="500.5" cy="458" rx="0.5" ry="0.75" transform="rotate(30 500.5 458)" fill="none" stroke="#222" stroke-width="0.8" />
<ellipse cx="543.75" cy="493.75" rx="6.75" ry="11.5" transform="rotate(30 543.75 493.75)" fill="none" stroke="#888" stroke-width="0.8" />
<ellipse cx="557.25" cy="500.25" rx="6.75" ry="11.5" transform="rotate(30 557.25 500.25)" fill="none" stroke="#888" stroke-width="0.8" />
<ellipse cx="570" cy="508.75" rx="6.25" ry="10.5" transform="rotate(30 570 508.75)" fill="none" stroke="#222" stroke-width="1.9" />
<ellipse cx="585.25" cy="517" rx="6.5" ry="10.5" transform="rotate(30 585.25 517)" fill="none" stroke="#222" stroke-width="2.2" />
<path d="M 605 497 L 610.5 497 L 610.5 512 L 605 512 Z" fill="#fff" stroke="#222" stroke-width="1" stroke-linejoin="round" stroke-linecap="round" />
<ellipse cx="607.75" cy="497" rx="1.25" ry="2.75" transform="rotate(90 607.75 497)" fill="#fff" stroke="#222" stroke-width="1" />
<polyline points="610.5,512 610.48,512.16 610.41,512.32 610.29,512.48 610.13,512.62 609.93,512.76 609.69,512.88 609.42,512.99 609.12,513.08 608.8,513.15 608.46,513.21 608.11,513.24 607.75,513.25 607.39,513.24 607.04,513.21 606.7,513.15 606.38,513.08 606.08,512.99 605.81,512.88 605.57,512.76 605.37,512.62 605.21,512.48 605.09,512.32 605.02,512.16 605,512" fill="none" stroke="#222" stroke-width="1" stroke-linejoin="round" stroke-linecap="round"/>
<path d="M 594 534.89 A 7 12 30 0 1 606 514.11 L 616.83 520.36 A 7 12 30 0 1 604.83 541.14 Z" fill="#fff" stroke="#222" stroke-width="1.9" stroke-linejoin="round"/>
<ellipse cx="610.83" cy="530.75" rx="7" ry="12" transform="rotate(30 610.83 530.75)" fill="#fff" stroke="#222" stroke-width="1.9" />
<polyline points="596.5,536.39 595.76,535.85 595.14,535.13 594.64,534.26 594.27,533.25 594.05,532.11 593.97,530.87 594.04,529.55 594.25,528.17 594.6,526.74 595.09,525.31 595.71,523.89 596.44,522.5 597.27,521.17 598.2,519.93 599.2,518.79 600.25,517.77 601.34,516.9 602.46,516.18 603.57,515.62 604.67,515.25 605.72,515.06 606.73,515.06 607.66,515.24 608.5,515.61" fill="none" stroke="#222" stroke-width="2" stroke-linejoin="round" stroke-linecap="round"/>
<polyline points="599.5,538.14 598.76,537.6 598.14,536.88 597.64,536.01 597.27,535 597.05,533.86 596.97,532.62 597.04,531.3 597.25,529.92 597.6,528.49 598.09,527.06 598.71,525.64 599.44,524.25 600.27,522.92 601.2,521.68 602.2,520.54 603.25,519.52 604.34,518.65 605.46,517.93 606.57,517.37 607.67,517 608.72,516.81 609.73,516.81 610.66,516.99 611.5,517.36" fill="none" stroke="#222" stroke-width="1.6" stroke-linejoin="round" stroke-linecap="round"/>
<ellipse cx="611" cy="530.75" rx="5" ry="9" transform="rotate(30 611 530.75)" fill="none" stroke="#222" stroke-width="1.6" />
<ellipse cx="610.5" cy="530.5" rx="2.25" ry="3.5" transform="rotate(30 610.5 530.5)" fill="#fff" stroke="#222" stroke-width="1.3" />
<path d="M 605 525 L 617.5 532 M 613.75 523.75 L 608 537.5" fill="none" stroke="#222" stroke-width="1.8" stroke-linejoin="round" stroke-linecap="round" />
<ellipse cx="603.75" cy="522.5" rx="2" ry="3" transform="rotate(30 603.75 522.5)" fill="none" stroke="#222" stroke-width="1.2" />
<ellipse cx="629" cy="542.25" rx="6.75" ry="11" transform="rotate(30 629 542.25)" fill="none" stroke="#222" stroke-width="1.6" />
<ellipse cx="642.99" cy="550" rx="5.2" ry="4.65" transform="rotate(0 642.99 550)" fill="#fff" stroke="#222" stroke-width="1.3" />
<ellipse cx="671.02" cy="565.59" rx="5.47" ry="4.92" transform="rotate(0 671.02 565.59)" fill="#fff" stroke="#222" stroke-width="1.3" />
<polyline points="645.45,551.64 668.7,563.95" fill="none" stroke="#222" stroke-width="7.4" stroke-linecap="butt" stroke-linejoin="round"/>
<polyline points="645.45,551.64 668.7,563.95" fill="none" stroke="#fff" stroke-width="5" stroke-linecap="butt" stroke-linejoin="round"/>
<path d="M 645.45 548.36 L 671.43 562.03 M 643.68 552.46 L 668.7 565.86 M 647.5 551.1 L 668.01 562.03" fill="none" stroke="#222" stroke-width="0.9" stroke-linejoin="round" stroke-linecap="round" />
<ellipse cx="643.68" cy="548.36" rx="3.14" ry="1.78" transform="rotate(0 643.68 548.36)" fill="#fff" stroke="#222" stroke-width="1.2" />
<ellipse cx="670.47" cy="563.68" rx="3.01" ry="1.78" transform="rotate(0 670.47 563.68)" fill="#fff" stroke="#222" stroke-width="1.2" />
<polyline points="780.78,110.94 765.16,118.75" fill="none" stroke="#222" stroke-width="0.8" stroke-linejoin="round" stroke-linecap="round"/>
<polyline points="780.78,128.12 769.84,134.06" fill="none" stroke="#222" stroke-width="0.8" stroke-linejoin="round" stroke-linecap="round"/>
<polyline points="719.06,137.19 730,143.44" fill="none" stroke="#222" stroke-width="0.8" stroke-linejoin="round" stroke-linecap="round"/>
<polyline points="701.09,147.34 712.03,153.59" fill="none" stroke="#222" stroke-width="0.8" stroke-linejoin="round" stroke-linecap="round"/>
<polyline points="708.12,176.56 719.06,182.5" fill="none" stroke="#222" stroke-width="0.8" stroke-linejoin="round" stroke-linecap="round"/>
<polyline points="780.78,188.75 766.72,196.56" fill="none" stroke="#222" stroke-width="0.8" stroke-linejoin="round" stroke-linecap="round"/>
<path d="M 760.47 118.75 L 762.66 118.75 L 762.66 126.56 L 760.47 126.56 Z" fill="#fff" stroke="#222" stroke-width="0.9" stroke-linejoin="round" stroke-linecap="round" />
<path d="M 760.31 120.31 L 762.81 121.09" fill="none" stroke="#222" stroke-width="1" stroke-linejoin="round" stroke-linecap="round" />
<path d="M 760.31 122.19 L 762.81 122.97" fill="none" stroke="#222" stroke-width="1" stroke-linejoin="round" stroke-linecap="round" />
<path d="M 760.31 124.22 L 762.81 125" fill="none" stroke="#222" stroke-width="1" stroke-linejoin="round" stroke-linecap="round" />
<path d="M 758.75 116.56 L 764.38 116.56 L 763.91 119.06 L 759.22 119.06 Z" fill="#fff" stroke="#222" stroke-width="1" stroke-linejoin="round" stroke-linecap="round" />
<ellipse cx="761.56" cy="116.56" rx="1.44" ry="2.81" transform="rotate(90 761.56 116.56)" fill="#fff" stroke="#222" stroke-width="1.1" />
<ellipse cx="761.56" cy="116.56" rx="0.62" ry="1.12" transform="rotate(90 761.56 116.56)" fill="none" stroke="#222" stroke-width="1.2" />
<path d="M 721.41 181.25 L 723.59 181.25 L 723.59 189.06 L 721.41 189.06 Z" fill="#fff" stroke="#222" stroke-width="0.9" stroke-linejoin="round" stroke-linecap="round" />
<path d="M 721.25 182.81 L 723.75 183.59" fill="none" stroke="#222" stroke-width="1" stroke-linejoin="round" stroke-linecap="round" />
<path d="M 721.25 184.69 L 723.75 185.47" fill="none" stroke="#222" stroke-width="1" stroke-linejoin="round" stroke-linecap="round" />
<path d="M 721.25 186.72 L 723.75 187.5" fill="none" stroke="#222" stroke-width="1" stroke-linejoin="round" stroke-linecap="round" />
<path d="M 719.69 179.06 L 725.31 179.06 L 724.84 181.56 L 720.16 181.56 Z" fill="#fff" stroke="#222" stroke-width="1" stroke-linejoin="round" stroke-linecap="round" />
<ellipse cx="722.5" cy="179.06" rx="1.44" ry="2.81" transform="rotate(90 722.5 179.06)" fill="#fff" stroke="#222" stroke-width="1.1" />
<ellipse cx="722.5" cy="179.06" rx="0.62" ry="1.12" transform="rotate(90 722.5 179.06)" fill="none" stroke="#222" stroke-width="1.2" />
<path d="M 742.5 129.69 Q 753.44 126.25 764.38 130.94 Q 771.41 134.84 770.62 140.31 Q 767.5 147.34 755 148.44 Q 747.19 148.44 743.28 145.78 L 748.75 141.88 L 738.12 141.09 Q 738.59 134.06 742.5 129.69 Z" fill="#fff" stroke="#222" stroke-width="1.3" stroke-linejoin="round" stroke-linecap="round" />
<path d="M 743.28 145.78 L 743.75 143.75 L 748.75 140.31 L 748.75 141.88 M 738.12 141.09 L 738.59 139.06 L 745.62 138.44" fill="none" stroke="#222" stroke-width="0.9" stroke-linejoin="round" stroke-linecap="round" />
<path d="M 741.72 130.94 L 746.41 128.12 L 748.75 129.06 L 765.16 136.88 L 765.94 140.62 L 761.25 143.44 L 745.62 135.94 L 742.5 137.97 Z" fill="#fff" stroke="#222" stroke-width="1.2" stroke-linejoin="round" stroke-linecap="round" />
<path d="M 746.41 128.12 L 746.88 132.5 L 742.5 135.94 M 746.88 132.5 L 764.38 140.31 M 748.75 129.06 L 749.53 133.28 M 753.44 131.72 L 754.22 135.94 L 761.25 139.53 M 749.53 135.94 L 750.31 139.06 L 755 141.09 L 755 137.97" fill="none" stroke="#222" stroke-width="1" stroke-linejoin="round" stroke-linecap="round" />
<ellipse cx="761.25" cy="139.06" rx="1.41" ry="1.88" transform="rotate(90 761.25 139.06)" fill="none" stroke="#222" stroke-width="1" />
<path d="M 748.75 136.88 L 757.34 140.62" fill="none" stroke="#222" stroke-width="2" stroke-linejoin="round" stroke-linecap="round" />
<path d="M 727.66 146.56 L 733.12 144.22" fill="none" stroke="#222" stroke-width="3.6" stroke-linejoin="round" stroke-linecap="round" />
<path d="M 727.66 146.56 L 733.12 144.22" fill="none" stroke="#ddd" stroke-width="1.6" stroke-linejoin="round" stroke-linecap="round" stroke-dasharray="0.5 0.8"/>
<path d="M 733.12 150 L 738.12 147.5" fill="none" stroke="#555" stroke-width="2.8" stroke-linejoin="round" stroke-linecap="round" />
<path d="M 733.12 150 L 738.12 147.5" fill="none" stroke="#fff" stroke-width="1.6" stroke-linejoin="round" stroke-linecap="round" stroke-dasharray="0.5 0.8"/>
<path d="M 710 157.19 L 716.72 153.12 L 726.88 155.16 L 727.5 158.75 L 717.19 164.53 L 710.94 161.88 Z" fill="#fff" stroke="#222" stroke-width="1.3" stroke-linejoin="round" stroke-linecap="round" />
<path d="M 716.72 153.12 L 716.25 149.69 L 720.94 148.44 L 726.56 151.56 L 726.88 155.16" fill="#555" stroke="#222" stroke-width="1.3" stroke-linejoin="round" stroke-linecap="round" />
<path d="M 710 157.19 L 717.5 159.84 L 727.5 155.62 M 717.5 159.84 L 717.19 164.53" fill="none" stroke="#222" stroke-width="0.9" stroke-linejoin="round" stroke-linecap="round" />
<path d="M 710 211.41 Q 710.47 204.38 719.06 198.12 Q 731.56 187.97 742.5 186.41 Q 747.19 186.41 753.44 191.09 L 792.5 215.31 Q 797.5 219.22 796.41 222.81 Q 792.5 229.69 776.88 235.62 Q 770.62 237.5 765.94 235.62 L 715.94 216.88 Q 710.47 214.53 710 211.41 Z" fill="#fff" stroke="#222" stroke-width="1.3" stroke-linejoin="round" stroke-linecap="round" />
<path d="M 711.25 208.75 Q 713.59 212.19 719.06 214.53 L 767.5 232.5 Q 772.19 233.75 777.66 232.19 Q 791.72 226.56 795.94 220" fill="none" stroke="#222" stroke-width="0.9" stroke-linejoin="round" stroke-linecap="round" />
<path d="M 719.06 199.69 Q 731.56 190.31 742.5 188.44 Q 746.41 188.44 751.88 192.66 L 767.5 202.5" fill="none" stroke="#222" stroke-width="0.8" stroke-linejoin="round" stroke-linecap="round" />
<path d="M 712.03 209.84 L 731.56 216.09 M 719.84 201.25 L 731.56 207.19 M 717.5 204.38 L 730 210.62" fill="none" stroke="#222" stroke-width="0.8" stroke-linejoin="round" stroke-linecap="round" />
<path d="M 733.91 224.69 Q 729.69 210.62 736.25 202.81 Q 744.06 195 758.12 197.34 Q 767.5 199.69 772.19 204.38 L 775 206.25 Q 777.66 212.19 773.75 216.09 Q 767.5 220 753.44 220.78 L 742.5 222.34 Z" fill="#fff" stroke="#222" stroke-width="1.2" stroke-linejoin="round" stroke-linecap="round" />
<path d="M 738.12 220 Q 734.69 211.41 740.16 204.38 Q 746.41 198.91 757.34 200.47 Q 764.38 202.03 767.5 204.38 L 765.62 202.81 L 761.25 200" fill="none" stroke="#222" stroke-width="0.9" stroke-linejoin="round" stroke-linecap="round" />
<ellipse cx="754.38" cy="212.5" rx="6.88" ry="12.5" transform="rotate(90 754.38 212.5)" fill="#fff" stroke="#222" stroke-width="1.3" />
<path d="M 742.5 222.34 L 745.62 227.81 L 767.5 234.84 M 747.19 222.34 L 749.53 226.25 L 773.75 233.28 M 753.44 220.78 Q 767.5 220 775.31 213.75" fill="none" stroke="#222" stroke-width="0.9" stroke-linejoin="round" stroke-linecap="round" />
<path d="M 745.62 224.69 Q 747.97 223.12 748.75 227.81" fill="none" stroke="#222" stroke-width="0.9" stroke-linejoin="round" stroke-linecap="round" />
<ellipse cx="722.97" cy="207.19" rx="1.72" ry="3.12" transform="rotate(90 722.97 207.19)" fill="none" stroke="#222" stroke-width="1" />
<ellipse cx="722.97" cy="207.19" rx="0.78" ry="1.56" transform="rotate(90 722.97 207.19)" fill="none" stroke="#222" stroke-width="0.8" />
<ellipse cx="749.84" cy="192.19" rx="1.41" ry="2.81" transform="rotate(90 749.84 192.19)" fill="none" stroke="#222" stroke-width="0.9" />
<ellipse cx="778.12" cy="215" rx="0.94" ry="1.41" transform="rotate(90 778.12 215)" fill="none" stroke="#222" stroke-width="0.9" />
<ellipse cx="734.69" cy="196.88" rx="0.62" ry="0.94" transform="rotate(90 734.69 196.88)" fill="none" stroke="#222" stroke-width="0.8" />
<path d="M 758.12 197.34 L 765.62 202.5 M 782.34 232.5 L 782.81 234.06" fill="none" stroke="#222" stroke-width="0.8" stroke-linejoin="round" stroke-linecap="round" />
<polyline points="726.56,264.53 741.72,256.25" fill="none" stroke="#222" stroke-width="0.8" stroke-linejoin="round" stroke-linecap="round"/>
<polyline points="726.56,283.28 743.28,273.91" fill="none" stroke="#222" stroke-width="0.8" stroke-linejoin="round" stroke-linecap="round"/>
<polyline points="726.56,307.19 744.38,297.34" fill="none" stroke="#222" stroke-width="0.8" stroke-linejoin="round" stroke-linecap="round"/>
<polyline points="780.78,297.34 753.44,312.5" fill="none" stroke="#222" stroke-width="0.8" stroke-linejoin="round" stroke-linecap="round"/>
<polyline points="780.78,319.69 764.38,327.81" fill="none" stroke="#222" stroke-width="0.8" stroke-linejoin="round" stroke-linecap="round"/>
<polyline points="701.88,340 714.38,346.25" fill="none" stroke="#222" stroke-width="0.8" stroke-linejoin="round" stroke-linecap="round"/>
<polyline points="780.78,350.47 770.62,356.25" fill="none" stroke="#222" stroke-width="0.8" stroke-linejoin="round" stroke-linecap="round"/>
<polyline points="780.78,385.31 765.62,393.75" fill="none" stroke="#222" stroke-width="0.8" stroke-linejoin="round" stroke-linecap="round"/>
<polyline points="780.78,401.25 759.38,412.5" fill="none" stroke="#222" stroke-width="0.8" stroke-linejoin="round" stroke-linecap="round"/>
<path d="M 769.84 249.38 L 823.75 281.25 Q 825.31 283.28 823.44 284.84 L 816.25 289.53 Q 814.69 290.31 812.81 289.06 L 758.91 257.19 Q 748.75 259.06 743.28 255.62 Q 739.38 251.25 742.5 245.78 Q 747.19 239.53 761.25 239.06 Q 769.06 240.31 769.84 249.38 Z" fill="#fff" stroke="#222" stroke-width="1.3" stroke-linejoin="round" stroke-linecap="round" />
<path d="M 745.31 250 Q 743.75 245.78 749.53 243.12 Q 758.12 240.31 765.16 243.12 Q 768.28 246.25 763.59 250 Q 755 254.38 749.53 253.44 Q 746.41 252.5 745.31 250 Z" fill="#fff" stroke="#222" stroke-width="1.2" stroke-linejoin="round" stroke-linecap="round" />
<path d="M 773.44 264.06 L 782.34 258.75 M 792.5 271.56 L 796.41 269.69 L 820.62 283.75 L 817.5 285.94 Z M 794.84 273.12 Q 798.75 270 801.09 274.69 L 809.69 278.59 M 808.12 281.72 L 812.81 280.16 L 815.94 284.06 M 812.03 285.94 L 815.16 287.19" fill="none" stroke="#222" stroke-width="1" stroke-linejoin="round" stroke-linecap="round" />
<path d="M 744.84 273.91 L 744.84 277.03 Q 747.19 281.72 755 281.72 Q 762.81 281.25 764.38 276.25 L 764.38 272.34 Z" fill="#fff" stroke="#222" stroke-width="1.2" stroke-linejoin="round" stroke-linecap="round" />
<path d="M 743.28 272.81 Q 745.62 278.59 754.69 279.06 Q 763.59 278.59 765.62 271.88" fill="none" stroke="#222" stroke-width="0.9" stroke-linejoin="round" stroke-linecap="round" />
<ellipse cx="754.38" cy="270" rx="7.81" ry="11.72" transform="rotate(90 754.38 270)" fill="#fff" stroke="#222" stroke-width="1.3" />
<path d="M 753.44 268.44 Q 755 262.97 760.47 263.44 Q 765.16 265.31 763.59 270 Q 761.25 273.91 756.56 273.91 Q 753.44 272.81 753.44 268.44 Z" fill="#fff" stroke="#222" stroke-width="1.2" stroke-linejoin="round" stroke-linecap="round" />
<path d="M 755.78 268.44 Q 758.12 265.31 762.03 266.88 L 762.81 270 L 758.12 271.56 Z" fill="none" stroke="#222" stroke-width="1.6" stroke-linejoin="round" stroke-linecap="round" />
<ellipse cx="754.69" cy="293.75" rx="5.78" ry="10.94" transform="rotate(90 754.69 293.75)" fill="none" stroke="#222" stroke-width="1.7" />
<path d="M 744.84 310.62 L 752.66 310.62 L 752.66 316.09 L 744.84 316.09 Z" fill="#fff" stroke="#222" stroke-width="0.8" stroke-linejoin="round" stroke-linecap="round" />
<ellipse cx="748.75" cy="310.62" rx="1.25" ry="3.91" transform="rotate(90 748.75 310.62)" fill="none" stroke="#222" stroke-width="1.3" />
<ellipse cx="748.75" cy="311.88" rx="1.25" ry="3.91" transform="rotate(90 748.75 311.88)" fill="none" stroke="#222" stroke-width="1.3" />
<ellipse cx="748.75" cy="313.12" rx="1.25" ry="3.91" transform="rotate(90 748.75 313.12)" fill="none" stroke="#222" stroke-width="1.3" />
<ellipse cx="748.75" cy="314.38" rx="1.25" ry="3.91" transform="rotate(90 748.75 314.38)" fill="none" stroke="#222" stroke-width="1.3" />
<ellipse cx="748.75" cy="315.62" rx="1.25" ry="3.91" transform="rotate(90 748.75 315.62)" fill="none" stroke="#222" stroke-width="1.3" />
<path d="M 744.38 318.12 L 749.53 317.19" fill="none" stroke="#222" stroke-width="1.2" stroke-linejoin="round" stroke-linecap="round" />
<path d="M 752.19 329.38 L 760.47 327.5 L 760 323.12 L 762.03 323.91 L 764.06 329.38 L 762.81 336.41 L 760.47 335.31 L 753.44 335.31 Z" fill="#fff" stroke="#222" stroke-width="1.2" stroke-linejoin="round" stroke-linecap="round" />
<path d="M 753.44 335.31 Q 758.12 332.5 760.47 327.5 M 752.19 329.38 L 753.44 335.31" fill="none" stroke="#222" stroke-width="0.9" stroke-linejoin="round" stroke-linecap="round" />
<path d="M 716.09 348.59 L 718.12 348.59 L 718.12 355.31 L 716.09 355.31 Z" fill="#fff" stroke="#222" stroke-width="0.9" stroke-linejoin="round" stroke-linecap="round" />
<path d="M 715.94 350.16 L 718.28 350.94" fill="none" stroke="#222" stroke-width="1" stroke-linejoin="round" stroke-linecap="round" />
<path d="M 715.94 351.72 L 718.28 352.5" fill="none" stroke="#222" stroke-width="1" stroke-linejoin="round" stroke-linecap="round" />
<path d="M 715.94 353.28 L 718.28 354.06" fill="none" stroke="#222" stroke-width="1" stroke-linejoin="round" stroke-linecap="round" />
<path d="M 714.53 345.94 L 719.84 345.94 L 719.38 348.91 L 715 348.91 Z" fill="#fff" stroke="#222" stroke-width="1" stroke-linejoin="round" stroke-linecap="round" />
<ellipse cx="717.19" cy="345.94" rx="1.8" ry="2.66" transform="rotate(90 717.19 345.94)" fill="#fff" stroke="#222" stroke-width="1.1" />
<ellipse cx="717.19" cy="345.94" rx="0.78" ry="1.06" transform="rotate(90 717.19 345.94)" fill="none" stroke="#222" stroke-width="1.2" />
<path d="M 712.91 364 L 714.23 360.05 L 715.99 358.29 L 721.7 358.73 L 738.84 346.87 L 740.16 344.23 L 747.19 342.91 L 752.46 343.79 L 766.52 355.21 L 770.48 356.53 L 775.31 361.37 L 779.71 364.88 L 780.58 371.91 L 777.95 376.31 L 766.52 382.46 L 757.73 385.1 L 749.82 384.66 L 746.31 382.46 L 735.76 378.07 L 734 375.43 L 715.55 369.28 Z" fill="#fff" stroke="#222" stroke-width="1.9" stroke-linejoin="round" stroke-linecap="round" />
<path d="M 722.58 361.37 L 739.72 349.94 L 746.31 348.18 L 753.34 350.38 L 764.76 358.73 L 769.16 360.49 L 775.31 367.52 L 774.43 371.91 L 765.64 378.07 L 757.73 380.7 L 750.7 379.82 L 734 371.91 Z" fill="none" stroke="#222" stroke-width="1.5" stroke-linejoin="round" stroke-linecap="round" />
<path d="M 713.79 364.88 L 716.43 366.64 L 734 373.23 L 735.76 375.87 L 746.31 380.26 L 750.26 382.46 L 757.73 382.9 L 766.52 380.26 L 777.51 374.11 L 779.71 370.16" fill="none" stroke="#222" stroke-width="1.2" stroke-linejoin="round" stroke-linecap="round" />
<path d="M 725.21 363.12 L 740.16 353.02 L 746.31 351.26 L 752.46 353.02 L 763.01 360.93 M 731.37 363.12 L 747.19 353.9 M 733.12 364.88 L 748.94 355.39 M 754.22 353.9 L 773.55 365.76 M 752.9 356.09 L 771.8 367.69" fill="none" stroke="#222" stroke-width="1.5" stroke-linejoin="round" stroke-linecap="round" />
<ellipse cx="755.1" cy="370.16" rx="7.03" ry="12.3" transform="rotate(90 755.1 370.16)" fill="#fff" stroke="#222" stroke-width="1.7" />
<ellipse cx="754.75" cy="371.21" rx="4.83" ry="9.32" transform="rotate(90 754.75 371.21)" fill="none" stroke="#222" stroke-width="1.7" />
<path d="M 742.97 370.6 L 742.97 373.67 Q 746.31 378.07 754.75 378.24 Q 763.01 377.89 766.52 373.67" fill="none" stroke="#222" stroke-width="1.2" stroke-linejoin="round" stroke-linecap="round" />
<polyline points="732.95,365.94 751.41,377.71" fill="none" stroke="#222" stroke-width="6.2" stroke-linecap="round" stroke-linejoin="round"/>
<polyline points="732.95,365.94 751.41,377.71" fill="none" stroke="#fff" stroke-width="3.2" stroke-linecap="round" stroke-linejoin="round"/>
<path d="M 715.99 358.29 L 717.3 361.37 L 722.58 361.37 M 717.3 361.37 L 715.55 364.88 M 721.7 358.73 L 723.9 360.49 M 719.06 361.37 L 720.38 364.88 L 726.09 367.08 L 726.97 364 M 726.97 367.08 L 728.73 369.72 M 740.16 344.23 L 741.03 347.3 L 746.31 348.18 M 747.19 342.91 L 747.63 345.99 M 752.46 343.79 L 752.02 347.3 M 741.91 348.18 L 743.67 352.14 M 748.94 348.18 L 749.38 351.7 M 766.52 355.21 L 765.64 358.29 M 770.48 356.53 L 769.6 360.05 M 775.31 361.37 L 774.43 364.88 L 775.31 367.52 M 779.71 364.88 L 776.63 368.4 M 777.95 376.31 L 775.31 372.79 M 766.52 382.46 L 765.64 378.51 M 757.73 385.1 L 757.73 381.14 M 749.82 384.66 L 750.7 380.26 M 735.76 378.07 L 737.08 374.11" fill="none" stroke="#222" stroke-width="1.4" stroke-linejoin="round" stroke-linecap="round" />
<ellipse cx="716.87" cy="360.05" rx="0.79" ry="1.05" transform="rotate(90 716.87 360.05)" fill="#fff" stroke="#222" stroke-width="1.3" />
<ellipse cx="723.02" cy="360.49" rx="0.79" ry="1.05" transform="rotate(90 723.02 360.49)" fill="#fff" stroke="#222" stroke-width="1.3" />
<ellipse cx="743.67" cy="345.55" rx="0.79" ry="1.05" transform="rotate(90 743.67 345.55)" fill="#fff" stroke="#222" stroke-width="1.3" />
<ellipse cx="749.82" cy="345.11" rx="0.79" ry="1.05" transform="rotate(90 749.82 345.11)" fill="#fff" stroke="#222" stroke-width="1.3" />
<ellipse cx="768.72" cy="358.03" rx="0.79" ry="1.05" transform="rotate(90 768.72 358.03)" fill="#fff" stroke="#222" stroke-width="1.3" />
<ellipse cx="777.51" cy="365.32" rx="0.79" ry="1.05" transform="rotate(90 777.51 365.32)" fill="#fff" stroke="#222" stroke-width="1.3" />
<ellipse cx="778.39" cy="373.67" rx="0.79" ry="1.05" transform="rotate(90 778.39 373.67)" fill="#fff" stroke="#222" stroke-width="1.3" />
<ellipse cx="762.13" cy="382.46" rx="0.79" ry="1.05" transform="rotate(90 762.13 382.46)" fill="#fff" stroke="#222" stroke-width="1.3" />
<ellipse cx="752.9" cy="384.22" rx="0.79" ry="1.05" transform="rotate(90 752.9 384.22)" fill="#fff" stroke="#222" stroke-width="1.3" />
<ellipse cx="737.52" cy="376.31" rx="0.79" ry="1.05" transform="rotate(90 737.52 376.31)" fill="#fff" stroke="#222" stroke-width="1.3" />
<ellipse cx="728.73" cy="365.32" rx="0.79" ry="1.05" transform="rotate(90 728.73 365.32)" fill="#fff" stroke="#222" stroke-width="1.3" />
<ellipse cx="744.55" cy="353.02" rx="0.79" ry="1.05" transform="rotate(90 744.55 353.02)" fill="#fff" stroke="#222" stroke-width="1.3" />
<path d="M 717.3 369.72 L 717.3 371.21 M 736.64 378.07 L 736.82 380 L 738.84 380.26 M 750.7 384.66 L 750.7 386.42 L 754.22 386.42 M 761.25 384.22 L 761.69 385.8 M 767.4 382.02 L 767.84 383.34" fill="none" stroke="#222" stroke-width="1.7" stroke-linejoin="round" stroke-linecap="round" />
<ellipse cx="756.25" cy="398.91" rx="6.56" ry="11.25" transform="rotate(90 756.25 398.91)" fill="#fff" stroke="#222" stroke-width="1.3" />
<path d="M 750.31 395.78 L 753.44 395 L 756.56 397.34 L 761.25 397.81 L 761.56 400 L 758.12 401.56 L 754.69 400.47 L 753.44 398.12 Z M 752.19 397.34 L 753.75 399.69 M 757.34 398.91 L 758.91 396.88" fill="none" stroke="#222" stroke-width="1.1" stroke-linejoin="round" stroke-linecap="round" />
<path d="M 754.5 413 L 754.5 419.5" fill="none" stroke="#222" stroke-width="2.2" stroke-linejoin="round" stroke-linecap="round" />
<ellipse cx="754.5" cy="418.5" rx="1.25" ry="1.75" transform="rotate(90 754.5 418.5)" fill="#fff" stroke="#222" stroke-width="1" />
<path d="M 753.25 414 L 755.75 414.75 M 753.25 415.5 L 755.75 416.25" fill="none" stroke="#fff" stroke-width="0.7" stroke-linejoin="round" stroke-linecap="round" />
<polyline points="780.62,453.59 767.34,460.94" fill="none" stroke="#222" stroke-width="0.8" stroke-linejoin="round" stroke-linecap="round"/>
<polyline points="780.62,490.31 766.56,498.12" fill="none" stroke="#222" stroke-width="0.8" stroke-linejoin="round" stroke-linecap="round"/>
<polyline points="780.62,530.16 765,539.53" fill="none" stroke="#222" stroke-width="0.8" stroke-linejoin="round" stroke-linecap="round"/>
<path d="M 715 467.66 L 746.25 449.38 Q 749.06 448.12 751.72 449.69 L 760.31 455.62 Q 762.19 457.19 762.19 459.38 L 775.62 467.66 Q 779.84 470.78 776.72 474.69 Q 768.12 484.06 754.06 485.62 Q 750.94 485.62 747.81 484.06 L 735.31 476.25 Q 732.19 474.69 729.06 475 L 723.59 474.38 Q 719.69 473.12 715 470.31 Q 713.75 468.75 715 467.66 Z" fill="none" stroke="#222" stroke-width="3" stroke-linejoin="round" stroke-linecap="round" />
<path d="M 715 467.66 L 746.25 449.38 Q 749.06 448.12 751.72 449.69 L 760.31 455.62 Q 762.19 457.19 762.19 459.38 L 775.62 467.66 Q 779.84 470.78 776.72 474.69 Q 768.12 484.06 754.06 485.62 Q 750.94 485.62 747.81 484.06 L 735.31 476.25 Q 732.19 474.69 729.06 475 L 723.59 474.38 Q 719.69 473.12 715 470.31 Q 713.75 468.75 715 467.66 Z" fill="none" stroke="#fff" stroke-width="0.9" stroke-linejoin="round" stroke-linecap="round" />
<path d="M 728.28 509.84 L 735.31 506.25 L 740 509.38 L 743.91 511.41 L 748.59 512.19 L 756.41 507.81 L 763.44 505.16 L 762.66 501.25 L 756.41 498.12 L 755.62 493.44 L 760.31 491.09 L 761.56 496.56 L 772.03 502.03 L 772.81 505.16 L 768.12 506.72 L 768.12 509.06 L 758.75 513.75 L 750.94 516.09 L 748.59 518.75 L 744.69 516.88 L 743.91 513.75 L 739.22 512.19 L 738.75 509.84 L 736.09 509.06 L 732.19 511.41 L 731.88 515.62 L 728.75 514.53 Z" fill="#fff" stroke="#222" stroke-width="1.3" stroke-linejoin="round" stroke-linecap="round" />
<path d="M 756.41 498.12 L 758.75 496.56 L 758.75 492.66 M 758.75 496.56 L 768.12 502.03 L 772.03 502.03 M 768.12 502.03 L 768.12 506.72 M 756.41 509.84 Q 760.31 507.5 765 508.28 Q 763.44 511.41 757.19 512.19 Z M 748.59 512.19 L 748.59 518.75 M 731.88 511.41 L 735.31 508.28" fill="none" stroke="#222" stroke-width="1" stroke-linejoin="round" stroke-linecap="round" />
<path d="M 733.75 545 Q 734.53 537.19 743.91 533.75 L 746.56 535.31 Q 738.44 538.75 737.66 545.78 Z" fill="#fff" stroke="#222" stroke-width="1.1" stroke-linejoin="round" stroke-linecap="round" />
<path d="M 742.34 527.81 L 750.16 524.38 L 750.94 531.72 L 744.69 532.81 Z" fill="#fff" stroke="#222" stroke-width="1.2" stroke-linejoin="round" stroke-linecap="round" />
<path d="M 744.69 529.38 L 775.16 545 L 775.16 547.34 L 744.69 532.81 Z" fill="#fff" stroke="#222" stroke-width="1.2" stroke-linejoin="round" stroke-linecap="round" />
<path d="M 718.12 541.56 L 725.16 538.44 L 726.25 545.78 L 719.38 549.38 Z" fill="#fff" stroke="#222" stroke-width="1.2" stroke-linejoin="round" stroke-linecap="round" />
<path d="M 723.59 542.66 L 754.84 558.75 L 754.84 561.41 L 723.59 545.78 Z" fill="#fff" stroke="#222" stroke-width="1.2" stroke-linejoin="round" stroke-linecap="round" />
<path d="M 725.16 544.22 L 754.38 559.53 M 746.25 530.94 L 774.38 545.78" fill="none" stroke="#222" stroke-width="0.8" stroke-linejoin="round" stroke-linecap="round" />
<path d="M 771.25 542.66 L 775.62 541.56 L 777.19 545 L 776.72 552.03 Q 773.59 562.97 756.41 566.09 L 755.62 572.34 L 752.5 571.56 L 752.19 561.41 L 749.38 558.28 L 752.5 555.16 L 756.41 557.5 L 757.19 561.41 Q 768.12 559.84 772.03 552.81 L 771.56 545.78 Z" fill="#fff" stroke="#222" stroke-width="1.2" stroke-linejoin="round" stroke-linecap="round" />
<path d="M 772.03 552.81 L 772.03 561.41 L 775.16 561.41 L 775.62 555.94 M 756.41 561.41 L 756.41 566.09" fill="none" stroke="#222" stroke-width="1" stroke-linejoin="round" stroke-linecap="round" />
<polyline points="800.96,592.73 784.26,601.52" fill="none" stroke="#222" stroke-width="0.8" stroke-linejoin="round" stroke-linecap="round"/>
<path d="M 677.91 585.7 L 680.55 568.12 L 692.85 560.21 L 706.91 553.18 L 713.95 554.06 L 719.22 559.34 L 718.34 562.85 L 728.01 569 L 740.31 579.02 L 747.34 577.79 L 754.38 581.31 L 763.16 585.7 L 768.44 590.98 L 778.98 600.64 L 784.26 602.4 L 796.56 610.31 L 800.08 612.07 L 800.96 619.1 L 805.35 620.86 L 805.35 627.89 L 796.56 633.16 L 796.56 642.83 L 803.59 641.95 L 806.76 645.47 L 805.35 649.86 L 793.05 659.53 L 768.44 670.08 L 764.04 669.2 L 762.29 663.05 L 752.62 657.77 L 749.1 652.5 L 726.25 649.86 L 724.49 643.71 L 705.16 637.56 L 698.12 627.89 L 694.61 624.38 L 687.58 622.62 L 684.94 615.59 L 686.7 610.31 L 677.91 605.04 Z" fill="#fff" stroke="#222" stroke-width="1.4" stroke-linejoin="round" stroke-linecap="round" />
<path d="M 685.18 609.04 L 680.79 607.57 L 677.86 602.69 L 678.35 577.3 Q 678.84 571.44 681.77 569 L 701.3 557.28 L 708.13 553.37 L 714.97 555.81 L 717.9 558.74 L 716.92 562.65 L 713.99 564.11" fill="none" stroke="#222" stroke-width="1.5" stroke-linejoin="round" stroke-linecap="round" />
<path d="M 680.79 605.62 L 680.3 578.27 Q 680.79 573.39 683.72 571.44 L 696.41 564.11 M 686.65 577.3 L 695.44 567.53 L 696.9 569 L 689.09 579.25 Z" fill="none" stroke="#222" stroke-width="1.1" stroke-linejoin="round" stroke-linecap="round" />
<ellipse cx="688.6" cy="576.81" rx="1.07" ry="1.27" transform="rotate(0 688.6 576.81)" fill="none" stroke="#222" stroke-width="1" />
<path d="M 681.77 569 L 684.7 570.95 L 685.18 579.25 Q 685.67 589.02 686.65 598.78 L 685.67 604.64 M 701.3 557.28 L 703.25 559.72 L 696.41 564.11 M 708.13 553.37 L 709.6 556.3 L 704.23 559.23 M 714.97 555.81 L 713.99 560.7 L 709.6 562.65" fill="none" stroke="#222" stroke-width="1.1" stroke-linejoin="round" stroke-linecap="round" />
<path d="M 698.37 561.67 L 726.69 580.71 M 699.83 560.5 L 728.64 579.74" fill="none" stroke="#222" stroke-width="1.7" stroke-linejoin="round" stroke-linecap="round" />
<path d="M 709.6 562.65 L 730.59 575.34 L 740.36 579.74" fill="none" stroke="#222" stroke-width="1.1" stroke-linejoin="round" stroke-linecap="round" />
<path d="M 713.02 572.41 Q 701.3 579.25 699.83 597.8 M 714.97 573.59 Q 703.74 580.23 701.79 598.29 M 722.78 577.3 Q 711.06 583.16 709.11 596.83 M 725.22 578.76 Q 713.5 584.13 711.06 597.32 M 730.59 581.2 Q 720.83 587.06 717.9 593.9" fill="none" stroke="#222" stroke-width="1.1" stroke-linejoin="round" stroke-linecap="round" />
<path d="M 713.99 598.78 Q 714.97 594.88 717.9 593.9 L 740.36 580.23 Q 746.22 577.3 750.12 577.49 L 755.4 580.71 L 762.23 585.6 L 772.98 594.39 L 780.79 602.2 L 780.3 606.11 L 775.91 609.04 L 764.19 615.87 L 759.3 615.87 L 752.47 613.92 L 748.17 615.38 L 738.41 611.48 L 730.59 607.57 Z" fill="#fff" stroke="#222" stroke-width="1.9" stroke-linejoin="round" stroke-linecap="round" />
<path d="M 717.9 596.83 L 740.36 583.16 L 749.54 580.71 L 761.26 588.53 L 775.91 601.22 L 775.42 604.64 L 764.19 611.96 L 753.45 612.94 M 717.9 596.83 L 731.57 604.64 L 739.38 608.55" fill="none" stroke="#222" stroke-width="1.2" stroke-linejoin="round" stroke-linecap="round" />
<path d="M 713.99 598.78 L 714.97 615.38 L 728.15 622.22 L 728.64 608.55 M 728.15 622.22 L 750.12 631.98 L 751.1 616.36 M 733.52 610.5 L 734.5 620.27 M 736.45 612.45 L 736.94 619.29 L 740.36 620.27 L 740.85 614.41" fill="none" stroke="#222" stroke-width="1.2" stroke-linejoin="round" stroke-linecap="round" />
<path d="M 723.76 598.78 Q 726.69 590.97 736.45 590.97 L 742.31 593.9 M 731.57 606.59 Q 730.59 600.73 734.5 596.83" fill="none" stroke="#222" stroke-width="1.1" stroke-linejoin="round" stroke-linecap="round" />
<ellipse cx="740.85" cy="603.18" rx="6.05" ry="9.77" transform="rotate(-10 740.85 603.18)" fill="#fff" stroke="#222" stroke-width="1.5" />
<ellipse cx="741.53" cy="604.15" rx="4.3" ry="7.62" transform="rotate(-10 741.53 604.15)" fill="none" stroke="#222" stroke-width="1" />
<path d="M 750.12 580.23 L 750.61 594.88 L 759.89 598.78 L 760.38 587.06 M 750.61 594.88 L 749.15 602.69 L 762.82 606.59 L 763.31 599.76 L 759.89 598.78 M 749.15 602.69 L 748.17 612.45 L 762.82 612.45 L 762.82 606.59" fill="none" stroke="#222" stroke-width="1.3" stroke-linejoin="round" stroke-linecap="round" />
<path d="M 685.18 609.04 L 685.67 618.31 L 689.58 621.24 L 704.23 612.45 L 703.25 608.55 L 700.32 606.59 L 686.65 606.59 M 689.58 621.24 L 689.09 611.48 L 700.32 606.59 M 689.09 611.48 L 685.67 609.52" fill="none" stroke="#222" stroke-width="1.4" stroke-linejoin="round" stroke-linecap="round" />
<path d="M 691.53 619.78 L 691.04 612.45" fill="none" stroke="#222" stroke-width="0.8" stroke-linejoin="round" stroke-linecap="round" />
<path d="M 693.29 618.7 L 692.8 611.48" fill="none" stroke="#222" stroke-width="0.8" stroke-linejoin="round" stroke-linecap="round" />
<path d="M 695.05 617.63 L 694.56 610.5" fill="none" stroke="#222" stroke-width="0.8" stroke-linejoin="round" stroke-linecap="round" />
<path d="M 696.8 616.55 L 696.32 609.52" fill="none" stroke="#222" stroke-width="0.8" stroke-linejoin="round" stroke-linecap="round" />
<path d="M 698.56 615.48 L 698.07 608.55" fill="none" stroke="#222" stroke-width="0.8" stroke-linejoin="round" stroke-linecap="round" />
<path d="M 700.32 614.41 L 699.83 607.57" fill="none" stroke="#222" stroke-width="0.8" stroke-linejoin="round" stroke-linecap="round" />
<ellipse cx="711.55" cy="617.82" rx="2.93" ry="4.39" transform="rotate(-20 711.55 617.82)" fill="#bbb" stroke="#222" stroke-width="1.5" />
<ellipse cx="711.55" cy="617.82" rx="1.76" ry="2.93" transform="rotate(-20 711.55 617.82)" fill="none" stroke="#222" stroke-width="0.9" />
<path d="M 694.46 623.2 Q 701.3 635.89 724.73 641.75 M 699.34 622.22 Q 705.2 631.98 725.71 636.87 M 701.3 626.12 Q 709.11 635.89 726.69 639.8 M 693 618.31 L 694.46 623.2 L 699.34 622.22" fill="none" stroke="#222" stroke-width="1.3" stroke-linejoin="round" stroke-linecap="round" />
<path d="M 714.97 616.36 L 728.64 625.15 L 726.69 645.66 M 728.64 625.15 L 746.22 635.89 L 750.12 645.66 M 729.62 629.05 L 745.24 637.84 M 704.23 612.45 L 714.97 616.36" fill="none" stroke="#222" stroke-width="1.3" stroke-linejoin="round" stroke-linecap="round" />
<ellipse cx="748.66" cy="638.33" rx="2.73" ry="3.91" transform="rotate(-20 748.66 638.33)" fill="#bbb" stroke="#222" stroke-width="1.5" />
<ellipse cx="748.66" cy="638.33" rx="1.56" ry="2.54" transform="rotate(-20 748.66 638.33)" fill="none" stroke="#222" stroke-width="0.9" />
<ellipse cx="729.62" cy="645.17" rx="0.88" ry="1.37" transform="rotate(0 729.62 645.17)" fill="none" stroke="#222" stroke-width="1" />
<path d="M 751 578.79 L 751.97 594.41 L 759.3 598.32 L 760.27 586.6 L 755.39 580.74" fill="#fff" stroke="#222" stroke-width="1.2" stroke-linejoin="round" stroke-linecap="round" />
<path d="M 751.97 594.41 L 749.53 599.3 L 763.2 603.2 L 763.69 600.27 L 759.3 598.32 M 749.53 599.3 L 748.55 609.06 L 763.2 609.06 L 763.2 603.2" fill="none" stroke="#222" stroke-width="1.2" stroke-linejoin="round" stroke-linecap="round" />
<path d="M 752.46 613.95 L 751.97 618.83 L 765.16 625.66 L 767.11 657.89 M 765.16 625.66 L 774.92 622.73 L 775.9 609.06 M 751.97 618.83 L 750.51 632.5 M 739.77 609.06 L 739.77 612.97 L 736.84 612.97 L 736.84 618.83 L 740.74 619.8 L 741.23 614.92 M 733.91 609.06 L 733.91 624.69" fill="none" stroke="#222" stroke-width="1.2" stroke-linejoin="round" stroke-linecap="round" />
<path d="M 780.78 602.23 L 794.45 609.06 L 797.38 609.06 L 799.82 611.02 L 800.31 618.83 L 805.2 620.78 L 805.68 628.59 L 798.36 634.45 L 797.38 643.24" fill="none" stroke="#222" stroke-width="1.5" stroke-linejoin="round" stroke-linecap="round" />
<path d="M 774.92 622.73 L 781.76 615.9 L 781.27 632.5 L 798.36 624.69 L 800.31 618.83 M 781.76 615.9 L 784.69 616.88 L 784.69 622.73 M 784.69 618.83 L 797.38 612.97 L 797.38 609.06 M 785.66 624.69 L 805.68 624.69 M 783.22 628.59 L 805.2 621.27 M 794.45 609.06 L 794.94 612.97 M 782.73 632.5 L 782.73 640.31 L 775.9 645.2 L 767.11 638.36 L 767.11 632.5 L 773.95 628.59 L 781.27 632.5 M 775.9 645.2 L 797.38 638.36 M 771.02 632.5 L 776.88 636.41 L 776.88 642.27" fill="none" stroke="#222" stroke-width="1.3" stroke-linejoin="round" stroke-linecap="round" />
<path d="M 772.97 633.48 L 778.83 637.38 M 771.99 635.43 L 777.85 639.34 M 771.5 637.38 L 776.88 640.8" fill="none" stroke="#222" stroke-width="1.8" stroke-linejoin="round" stroke-linecap="round" />
<path d="M 797.38 643.24 L 802.27 641.29 L 806.66 644.22 L 806.17 648.12 L 790.55 659.84 L 772.97 668.63 L 765.16 668.63 L 762.23 666.19 L 763.2 661.8 M 797.38 643.24 L 796.41 653.01 L 788.59 657.89 L 771.02 662.77 L 763.2 661.8 M 790.55 659.84 L 790.06 656.91" fill="none" stroke="#222" stroke-width="1.4" stroke-linejoin="round" stroke-linecap="round" />
<ellipse cx="801.78" cy="644.22" rx="1.17" ry="1.76" transform="rotate(0 801.78 644.22)" fill="none" stroke="#222" stroke-width="1" />
<ellipse cx="767.11" cy="664.24" rx="1.37" ry="2.15" transform="rotate(0 767.11 664.24)" fill="none" stroke="#222" stroke-width="1" />
<ellipse cx="748.55" cy="638.36" rx="2.93" ry="4.39" transform="rotate(-20 748.55 638.36)" fill="#bbb" stroke="#222" stroke-width="1.5" />
<ellipse cx="748.55" cy="638.36" rx="1.76" ry="2.93" transform="rotate(-20 748.55 638.36)" fill="none" stroke="#222" stroke-width="0.9" />
<path d="M 730 628.59 L 745.62 637.38 M 730 632.5 L 744.65 641.29 M 751.48 644.22 L 762.23 640.31 L 763.2 644.22 L 753.44 648.12 Z M 749.53 646.17 L 750.51 655.94 L 753.44 656.91 L 753.44 648.12 M 755.39 652.03 L 767.11 648.12 M 757.34 654.96 L 768.09 653.01 M 730 648.12 L 747.58 648.12 L 749.53 651.05 L 730 651.05" fill="none" stroke="#222" stroke-width="1.3" stroke-linejoin="round" stroke-linecap="round" />
<polyline points="705.16,678.87 720.1,670.96" fill="none" stroke="#222" stroke-width="0.8" stroke-linejoin="round" stroke-linecap="round"/>
<path d="M 721.33 663.05 L 721.33 680.62 L 724.84 680.62 L 724.84 663.05 Z" fill="#fff" stroke="#222" stroke-width="0.9" stroke-linejoin="round" stroke-linecap="round" />
<path d="M 721.15 666.91 L 725.02 667.62" fill="none" stroke="#222" stroke-width="0.9" stroke-linejoin="round" stroke-linecap="round" />
<path d="M 721.15 668.67 L 725.02 669.38" fill="none" stroke="#222" stroke-width="0.9" stroke-linejoin="round" stroke-linecap="round" />
<path d="M 721.15 670.43 L 725.02 671.13" fill="none" stroke="#222" stroke-width="0.9" stroke-linejoin="round" stroke-linecap="round" />
<path d="M 721.15 672.19 L 725.02 672.89" fill="none" stroke="#222" stroke-width="0.9" stroke-linejoin="round" stroke-linecap="round" />
<path d="M 721.15 673.95 L 725.02 674.65" fill="none" stroke="#222" stroke-width="0.9" stroke-linejoin="round" stroke-linecap="round" />
<path d="M 721.15 675.7 L 725.02 676.41" fill="none" stroke="#222" stroke-width="0.9" stroke-linejoin="round" stroke-linecap="round" />
<path d="M 721.15 677.46 L 725.02 678.16" fill="none" stroke="#222" stroke-width="0.9" stroke-linejoin="round" stroke-linecap="round" />
<path d="M 721.15 679.22 L 725.02 679.92" fill="none" stroke="#222" stroke-width="0.9" stroke-linejoin="round" stroke-linecap="round" />
<path d="M 719.57 659.18 L 726.6 659.18 L 726.6 663.93 L 719.57 663.93 Z" fill="#fff" stroke="#222" stroke-width="1.1" stroke-linejoin="round" stroke-linecap="round" />
<ellipse cx="723.09" cy="659.18" rx="1.41" ry="3.52" transform="rotate(90 723.09 659.18)" fill="#fff" stroke="#222" stroke-width="1.1" />
<ellipse cx="723.09" cy="659.18" rx="0.53" ry="1.41" transform="rotate(90 723.09 659.18)" fill="none" stroke="#222" stroke-width="1.2" />
<polyline points="726.6,663.93 726.57,664.11 726.48,664.29 726.33,664.46 726.13,664.63 725.88,664.78 725.57,664.92 725.23,665.04 724.84,665.14 724.43,665.22 724,665.28 723.54,665.32 723.09,665.33 722.63,665.32 722.18,665.28 721.74,665.22 721.33,665.14 720.95,665.04 720.6,664.92 720.3,664.78 720.04,664.63 719.84,664.46 719.69,664.29 719.6,664.11 719.57,663.93" fill="none" stroke="#222" stroke-width="1.1" stroke-linejoin="round" stroke-linecap="round"/>
<path d="M 805.35 652.5 L 808.87 650.74 L 813.26 652.5 L 815.9 656.02 L 814.14 659.53 L 809.75 661.29 L 805.7 657.42 Z" fill="#fff" stroke="#222" stroke-width="1.3" stroke-linejoin="round" stroke-linecap="round" />
<path d="M 808.87 650.74 L 809.75 656.02 L 805.7 657.42 M 809.75 656.02 L 814.14 659.53 M 810.62 652.5 L 813.26 656.89" fill="none" stroke="#222" stroke-width="1" stroke-linejoin="round" stroke-linecap="round" />
<path d="M 827.85 640.2 L 831.72 638.09 L 836.11 639.84 L 837.87 644.59 L 834.36 647.23 L 829.08 646.35 Z" fill="#fff" stroke="#444" stroke-width="1.3" stroke-linejoin="round" stroke-linecap="round" />
<path d="M 831.72 638.09 L 832.07 642.83 L 829.08 646.35 M 832.07 642.83 L 836.99 643.71 M 833.48 640.2 L 834.36 645.47" fill="none" stroke="#444" stroke-width="1" stroke-linejoin="round" stroke-linecap="round" />
<polyline points="820.82,661.29 846.66,646.35" fill="none" stroke="#222" stroke-width="4.2" stroke-linecap="round" stroke-linejoin="round"/>
<polyline points="820.82,661.29 846.66,646.35" fill="none" stroke="#fff" stroke-width="2.2" stroke-linecap="round" stroke-linejoin="round"/>
<ellipse cx="820.47" cy="661.64" rx="2.11" ry="2.81" transform="rotate(-30 820.47 661.64)" fill="#fff" stroke="#222" stroke-width="2.2" />
<ellipse cx="846.66" cy="646" rx="2.11" ry="2.81" transform="rotate(-30 846.66 646)" fill="#fff" stroke="#222" stroke-width="2.2" />
<polyline points="827.34,701.41 811.72,710" fill="none" stroke="#222" stroke-width="0.8" stroke-linejoin="round" stroke-linecap="round"/>
<polyline points="827.34,730.31 814.06,737.34" fill="none" stroke="#222" stroke-width="0.8" stroke-linejoin="round" stroke-linecap="round"/>
<polyline points="827.34,756.88 810.16,765.94" fill="none" stroke="#222" stroke-width="0.8" stroke-linejoin="round" stroke-linecap="round"/>
<polyline points="827.34,776.41 816.41,782.66" fill="none" stroke="#222" stroke-width="0.8" stroke-linejoin="round" stroke-linecap="round"/>
<polyline points="827.34,805.31 813.28,812.34" fill="none" stroke="#222" stroke-width="0.8" stroke-linejoin="round" stroke-linecap="round"/>
<polyline points="827.34,824.84 811.72,834.22" fill="none" stroke="#222" stroke-width="0.8" stroke-linejoin="round" stroke-linecap="round"/>
<polyline points="729.69,798.28 746.88,807.66" fill="none" stroke="#222" stroke-width="0.8" stroke-linejoin="round" stroke-linecap="round"/>
<polyline points="827.34,839.69 809.38,849.06" fill="none" stroke="#222" stroke-width="0.8" stroke-linejoin="round" stroke-linecap="round"/>
<path d="M 798.59 728.44 L 798.59 731.88 A 3.44 1.41 0 0 0 805.47 731.88 L 805.47 728.44 Z" fill="#fff" stroke="#222" stroke-width="1.1" stroke-linejoin="round" stroke-linecap="round" />
<ellipse cx="802.03" cy="728.44" rx="1.41" ry="3.44" transform="rotate(90 802.03 728.44)" fill="#fff" stroke="#222" stroke-width="1.1" />
<path d="M 796.72 722.5 L 796.72 728.44 A 5.62 2.19 0 0 0 807.97 728.44 L 807.97 722.5 Z" fill="#fff" stroke="#222" stroke-width="1.1" stroke-linejoin="round" stroke-linecap="round" />
<ellipse cx="802.34" cy="722.5" rx="2.19" ry="5.62" transform="rotate(90 802.34 722.5)" fill="#fff" stroke="#222" stroke-width="1.1" />
<path d="M 793.75 705.31 L 793.75 722.81 A 8.59 3.44 0 0 0 810.94 722.81 L 810.94 705.31 Z" fill="#fff" stroke="#222" stroke-width="1.2" stroke-linejoin="round" stroke-linecap="round" />
<ellipse cx="802.34" cy="705.31" rx="3.44" ry="8.59" transform="rotate(90 802.34 705.31)" fill="#fff" stroke="#222" stroke-width="1.2" />
<path d="M 793.75 714.69 L 793.75 718.59 L 796.09 719.69 L 796.09 715.47 Z" fill="#555" stroke="#222" stroke-width="1" stroke-linejoin="round" stroke-linecap="round" />
<path d="M 792.03 701.41 L 792.03 705.78 A 10.31 5.94 0 0 0 812.66 705.78 L 812.66 701.41 Z" fill="#fff" stroke="#222" stroke-width="1.2" stroke-linejoin="round" stroke-linecap="round" />
<ellipse cx="802.34" cy="701.41" rx="5.94" ry="10.31" transform="rotate(90 802.34 701.41)" fill="#fff" stroke="#222" stroke-width="1.2" />
<ellipse cx="802.34" cy="701.41" rx="4.06" ry="7.19" transform="rotate(90 802.34 701.41)" fill="none" stroke="#222" stroke-width="1.2" />
<polyline points="808.91,702.5 808.85,702.95 808.68,703.39 808.41,703.82 808.03,704.22 807.55,704.59 806.98,704.93 806.34,705.23 805.62,705.48 804.86,705.68 804.04,705.82 803.2,705.91 802.34,705.94 801.49,705.91 800.65,705.82 799.83,705.68 799.06,705.48 798.35,705.23 797.7,704.93 797.14,704.59 796.66,704.22 796.28,703.82 796,703.39 795.84,702.95 795.78,702.5" fill="none" stroke="#222" stroke-width="0.8" stroke-linejoin="round" stroke-linecap="round"/>
<path d="M 792.34 690.94 L 792.34 698.75 A 2.19 1.25 0 0 0 796.72 698.75 L 796.72 690.94 Z" fill="#fff" stroke="#222" stroke-width="1.1" stroke-linejoin="round" stroke-linecap="round" />
<ellipse cx="794.53" cy="690.94" rx="1.25" ry="2.19" transform="rotate(90 794.53 690.94)" fill="#fff" stroke="#222" stroke-width="1.1" />
<path d="M 787.03 745.16 L 787.03 752.19 A 15.31 8.44 0 0 0 817.66 752.19 L 817.66 745.16 Z" fill="#fff" stroke="#222" stroke-width="1.3" stroke-linejoin="round" stroke-linecap="round" />
<ellipse cx="802.34" cy="745.16" rx="8.44" ry="15.31" transform="rotate(90 802.34 745.16)" fill="#fff" stroke="#222" stroke-width="1.3" />
<ellipse cx="802.34" cy="745.16" rx="7.19" ry="13.44" transform="rotate(90 802.34 745.16)" fill="none" stroke="#222" stroke-width="0.8" />
<ellipse cx="802.34" cy="745.62" rx="5.31" ry="10" transform="rotate(90 802.34 745.62)" fill="none" stroke="#222" stroke-width="1.3" />
<ellipse cx="802.34" cy="746.25" rx="3.75" ry="7.81" transform="rotate(90 802.34 746.25)" fill="none" stroke="#222" stroke-width="1" />
<polyline points="809.84,748.28 809.78,748.69 809.59,749.09 809.27,749.48 808.84,749.84 808.29,750.18 807.65,750.49 806.91,750.76 806.09,750.99 805.21,751.17 804.28,751.3 803.32,751.38 802.34,751.41 801.36,751.38 800.4,751.3 799.47,751.17 798.59,750.99 797.78,750.76 797.04,750.49 796.39,750.18 795.85,749.84 795.41,749.48 795.1,749.09 794.91,748.69 794.84,748.28" fill="none" stroke="#222" stroke-width="0.9" stroke-linejoin="round" stroke-linecap="round"/>
<polyline points="807.5,764.38 807.5,769.69" fill="none" stroke="#222" stroke-width="4.6" stroke-linecap="round" stroke-linejoin="round"/>
<polyline points="807.5,764.38 807.5,769.69" fill="none" stroke="#666" stroke-width="2.6" stroke-linecap="round" stroke-linejoin="round"/>
<polyline points="796.56,771.25 796.56,775.94" fill="none" stroke="#555" stroke-width="4" stroke-linecap="round" stroke-linejoin="round"/>
<polyline points="796.56,771.25 796.56,775.94" fill="none" stroke="#fff" stroke-width="2.2" stroke-linecap="round" stroke-linejoin="round"/>
<path d="M 784.22 789.69 L 784.22 796.25 A 18.12 9.69 0 0 0 820.47 796.25 L 820.47 789.69 Z" fill="#fff" stroke="#222" stroke-width="1.3" stroke-linejoin="round" stroke-linecap="round" />
<ellipse cx="802.34" cy="789.69" rx="9.69" ry="18.12" transform="rotate(90 802.34 789.69)" fill="#fff" stroke="#222" stroke-width="1.3" />
<path d="M 820.47 790 L 820.47 796.09" fill="none" stroke="#222" stroke-width="0.9" stroke-linejoin="round" stroke-linecap="round" />
<path d="M 820.31 791.27 L 820.31 797.36" fill="none" stroke="#222" stroke-width="0.9" stroke-linejoin="round" stroke-linecap="round" />
<path d="M 819.84 792.5 L 819.84 798.59" fill="none" stroke="#222" stroke-width="0.9" stroke-linejoin="round" stroke-linecap="round" />
<path d="M 819.09 793.7 L 819.09 799.8" fill="none" stroke="#222" stroke-width="0.9" stroke-linejoin="round" stroke-linecap="round" />
<path d="M 818.05 794.84 L 818.05 800.94" fill="none" stroke="#222" stroke-width="0.9" stroke-linejoin="round" stroke-linecap="round" />
<path d="M 816.72 795.89 L 816.72 801.98" fill="none" stroke="#222" stroke-width="0.9" stroke-linejoin="round" stroke-linecap="round" />
<path d="M 815.16 796.84 L 815.16 802.94" fill="none" stroke="#222" stroke-width="0.9" stroke-linejoin="round" stroke-linecap="round" />
<path d="M 813.38 797.69 L 813.38 803.78" fill="none" stroke="#222" stroke-width="0.9" stroke-linejoin="round" stroke-linecap="round" />
<path d="M 811.41 798.39 L 811.41 804.48" fill="none" stroke="#222" stroke-width="0.9" stroke-linejoin="round" stroke-linecap="round" />
<path d="M 809.28 798.95 L 809.28 805.05" fill="none" stroke="#222" stroke-width="0.9" stroke-linejoin="round" stroke-linecap="round" />
<path d="M 807.03 799.36 L 807.03 805.45" fill="none" stroke="#222" stroke-width="0.9" stroke-linejoin="round" stroke-linecap="round" />
<path d="M 804.7 799.61 L 804.7 805.7" fill="none" stroke="#222" stroke-width="0.9" stroke-linejoin="round" stroke-linecap="round" />
<path d="M 802.34 799.69 L 802.34 805.78" fill="none" stroke="#222" stroke-width="0.9" stroke-linejoin="round" stroke-linecap="round" />
<path d="M 799.98 799.61 L 799.98 805.7" fill="none" stroke="#222" stroke-width="0.9" stroke-linejoin="round" stroke-linecap="round" />
<path d="M 797.66 799.36 L 797.66 805.45" fill="none" stroke="#222" stroke-width="0.9" stroke-linejoin="round" stroke-linecap="round" />
<path d="M 795.41 798.95 L 795.41 805.05" fill="none" stroke="#222" stroke-width="0.9" stroke-linejoin="round" stroke-linecap="round" />
<path d="M 793.28 798.39 L 793.28 804.48" fill="none" stroke="#222" stroke-width="0.9" stroke-linejoin="round" stroke-linecap="round" />
<path d="M 791.31 797.69 L 791.31 803.78" fill="none" stroke="#222" stroke-width="0.9" stroke-linejoin="round" stroke-linecap="round" />
<path d="M 789.53 796.84 L 789.53 802.94" fill="none" stroke="#222" stroke-width="0.9" stroke-linejoin="round" stroke-linecap="round" />
<path d="M 787.97 795.89 L 787.97 801.98" fill="none" stroke="#222" stroke-width="0.9" stroke-linejoin="round" stroke-linecap="round" />
<path d="M 786.64 794.84 L 786.64 800.94" fill="none" stroke="#222" stroke-width="0.9" stroke-linejoin="round" stroke-linecap="round" />
<path d="M 785.59 793.7 L 785.59 799.8" fill="none" stroke="#222" stroke-width="0.9" stroke-linejoin="round" stroke-linecap="round" />
<path d="M 784.84 792.5 L 784.84 798.59" fill="none" stroke="#222" stroke-width="0.9" stroke-linejoin="round" stroke-linecap="round" />
<path d="M 784.38 791.27 L 784.38 797.36" fill="none" stroke="#222" stroke-width="0.9" stroke-linejoin="round" stroke-linecap="round" />
<path d="M 784.22 790 L 784.22 796.09" fill="none" stroke="#222" stroke-width="0.9" stroke-linejoin="round" stroke-linecap="round" />
<ellipse cx="802.34" cy="789.38" rx="8.12" ry="15.62" transform="rotate(90 802.34 789.38)" fill="none" stroke="#222" stroke-width="0.9" />
<ellipse cx="802.34" cy="788.91" rx="6.88" ry="13.12" transform="rotate(90 802.34 788.91)" fill="none" stroke="#222" stroke-width="1.3" />
<ellipse cx="802.34" cy="788.12" rx="5" ry="9.06" transform="rotate(90 802.34 788.12)" fill="none" stroke="#222" stroke-width="1.6" />
<polyline points="810.47,790 810.4,790.53 810.19,791.05 809.85,791.55 809.38,792.03 808.79,792.47 808.09,792.87 807.29,793.22 806.41,793.52 805.45,793.75 804.45,793.92 803.4,794.03 802.34,794.06 801.28,794.03 800.24,793.92 799.23,793.75 798.28,793.52 797.4,793.22 796.6,792.87 795.9,792.47 795.31,792.03 794.84,791.55 794.5,791.05 794.29,790.53 794.22,790" fill="none" stroke="#222" stroke-width="1" stroke-linejoin="round" stroke-linecap="round"/>
<ellipse cx="802.34" cy="789.06" rx="5.94" ry="11.56" transform="rotate(90 802.34 789.06)" fill="none" stroke="#222" stroke-width="0.7" />
<path d="M 793.75 785 L 794.06 789.38 Q 796.88 792.81 802.34 793.12" fill="none" stroke="#222" stroke-width="1.2" stroke-linejoin="round" stroke-linecap="round" />
<path d="M 791.41 815.94 L 791.41 822.97 A 10.94 6.25 0 0 0 813.28 822.97 L 813.28 815.94 Z" fill="#fff" stroke="#222" stroke-width="1.3" stroke-linejoin="round" stroke-linecap="round" />
<ellipse cx="802.34" cy="815.94" rx="6.25" ry="10.94" transform="rotate(90 802.34 815.94)" fill="#fff" stroke="#222" stroke-width="1.3" />
<path d="M 813.28 816.25 L 813.28 822.81" fill="none" stroke="#222" stroke-width="0.9" stroke-linejoin="round" stroke-linecap="round" />
<path d="M 813.08 817.47 L 813.08 824.03" fill="none" stroke="#222" stroke-width="0.9" stroke-linejoin="round" stroke-linecap="round" />
<path d="M 812.45 818.64 L 812.45 825.2" fill="none" stroke="#222" stroke-width="0.9" stroke-linejoin="round" stroke-linecap="round" />
<path d="M 811.44 819.72 L 811.44 826.28" fill="none" stroke="#222" stroke-width="0.9" stroke-linejoin="round" stroke-linecap="round" />
<path d="M 810.08 820.67 L 810.08 827.23" fill="none" stroke="#222" stroke-width="0.9" stroke-linejoin="round" stroke-linecap="round" />
<path d="M 808.42 821.45 L 808.42 828.02" fill="none" stroke="#222" stroke-width="0.9" stroke-linejoin="round" stroke-linecap="round" />
<path d="M 806.53 822.03 L 806.53 828.59" fill="none" stroke="#222" stroke-width="0.9" stroke-linejoin="round" stroke-linecap="round" />
<path d="M 804.48 822.38 L 804.48 828.94" fill="none" stroke="#222" stroke-width="0.9" stroke-linejoin="round" stroke-linecap="round" />
<path d="M 802.34 822.5 L 802.34 829.06" fill="none" stroke="#222" stroke-width="0.9" stroke-linejoin="round" stroke-linecap="round" />
<path d="M 800.2 822.38 L 800.2 828.94" fill="none" stroke="#222" stroke-width="0.9" stroke-linejoin="round" stroke-linecap="round" />
<path d="M 798.16 822.03 L 798.16 828.59" fill="none" stroke="#222" stroke-width="0.9" stroke-linejoin="round" stroke-linecap="round" />
<path d="M 796.27 821.45 L 796.27 828.02" fill="none" stroke="#222" stroke-width="0.9" stroke-linejoin="round" stroke-linecap="round" />
<path d="M 794.61 820.67 L 794.61 827.23" fill="none" stroke="#222" stroke-width="0.9" stroke-linejoin="round" stroke-linecap="round" />
<path d="M 793.25 819.72 L 793.25 826.28" fill="none" stroke="#222" stroke-width="0.9" stroke-linejoin="round" stroke-linecap="round" />
<path d="M 792.23 818.64 L 792.23 825.2" fill="none" stroke="#222" stroke-width="0.9" stroke-linejoin="round" stroke-linecap="round" />
<path d="M 791.61 817.47 L 791.61 824.03" fill="none" stroke="#222" stroke-width="0.9" stroke-linejoin="round" stroke-linecap="round" />
<path d="M 791.41 816.25 L 791.41 822.81" fill="none" stroke="#222" stroke-width="0.9" stroke-linejoin="round" stroke-linecap="round" />
<ellipse cx="802.34" cy="815.94" rx="3.44" ry="6.56" transform="rotate(90 802.34 815.94)" fill="none" stroke="#222" stroke-width="1.3" />
<polyline points="808.28,817.19 808.23,817.55 808.08,817.92 807.83,818.26 807.49,818.59 807.05,818.9 806.54,819.18 805.96,819.42 805.31,819.62 804.62,819.79 803.88,819.9 803.12,819.98 802.34,820 801.57,819.98 800.81,819.9 800.07,819.79 799.38,819.62 798.73,819.42 798.15,819.18 797.63,818.9 797.2,818.59 796.86,818.26 796.61,817.92 796.46,817.55 796.41,817.19" fill="none" stroke="#222" stroke-width="0.9" stroke-linejoin="round" stroke-linecap="round"/>
<path d="M 738.44 820.94 L 738.44 826.88 A 25.31 14.06 0 0 0 789.06 826.88 L 789.06 820.94 Z" fill="#fff" stroke="#222" stroke-width="1.4" stroke-linejoin="round" stroke-linecap="round" />
<ellipse cx="763.75" cy="820.94" rx="14.06" ry="25.31" transform="rotate(90 763.75 820.94)" fill="#fff" stroke="#222" stroke-width="1.4" />
<path d="M 789.06 821.25 L 789.06 826.72" fill="none" stroke="#222" stroke-width="1" stroke-linejoin="round" stroke-linecap="round" />
<path d="M 788.95 822.55 L 788.95 828.02" fill="none" stroke="#222" stroke-width="1" stroke-linejoin="round" stroke-linecap="round" />
<path d="M 788.62 823.83 L 788.62 829.3" fill="none" stroke="#222" stroke-width="1" stroke-linejoin="round" stroke-linecap="round" />
<path d="M 788.09 825.09 L 788.09 830.56" fill="none" stroke="#222" stroke-width="1" stroke-linejoin="round" stroke-linecap="round" />
<path d="M 787.36 826.33 L 787.36 831.8" fill="none" stroke="#222" stroke-width="1" stroke-linejoin="round" stroke-linecap="round" />
<path d="M 786.41 827.52 L 786.41 832.98" fill="none" stroke="#222" stroke-width="1" stroke-linejoin="round" stroke-linecap="round" />
<path d="M 785.27 828.66 L 785.27 834.12" fill="none" stroke="#222" stroke-width="1" stroke-linejoin="round" stroke-linecap="round" />
<path d="M 783.95 829.72 L 783.95 835.19" fill="none" stroke="#222" stroke-width="1" stroke-linejoin="round" stroke-linecap="round" />
<path d="M 782.45 830.72 L 782.45 836.19" fill="none" stroke="#222" stroke-width="1" stroke-linejoin="round" stroke-linecap="round" />
<path d="M 780.8 831.64 L 780.8 837.11" fill="none" stroke="#222" stroke-width="1" stroke-linejoin="round" stroke-linecap="round" />
<path d="M 779 832.47 L 779 837.94" fill="none" stroke="#222" stroke-width="1" stroke-linejoin="round" stroke-linecap="round" />
<path d="M 777.08 833.2 L 777.08 838.67" fill="none" stroke="#222" stroke-width="1" stroke-linejoin="round" stroke-linecap="round" />
<path d="M 775.03 833.84 L 775.03 839.31" fill="none" stroke="#222" stroke-width="1" stroke-linejoin="round" stroke-linecap="round" />
<path d="M 772.89 834.36 L 772.89 839.83" fill="none" stroke="#222" stroke-width="1" stroke-linejoin="round" stroke-linecap="round" />
<path d="M 770.67 834.78 L 770.67 840.25" fill="none" stroke="#222" stroke-width="1" stroke-linejoin="round" stroke-linecap="round" />
<path d="M 768.41 835.08 L 768.41 840.55" fill="none" stroke="#222" stroke-width="1" stroke-linejoin="round" stroke-linecap="round" />
<path d="M 766.08 835.25 L 766.08 840.72" fill="none" stroke="#222" stroke-width="1" stroke-linejoin="round" stroke-linecap="round" />
<path d="M 763.75 835.31 L 763.75 840.78" fill="none" stroke="#222" stroke-width="1" stroke-linejoin="round" stroke-linecap="round" />
<path d="M 761.42 835.25 L 761.42 840.72" fill="none" stroke="#222" stroke-width="1" stroke-linejoin="round" stroke-linecap="round" />
<path d="M 759.09 835.08 L 759.09 840.55" fill="none" stroke="#222" stroke-width="1" stroke-linejoin="round" stroke-linecap="round" />
<path d="M 756.83 834.78 L 756.83 840.25" fill="none" stroke="#222" stroke-width="1" stroke-linejoin="round" stroke-linecap="round" />
<path d="M 754.61 834.36 L 754.61 839.83" fill="none" stroke="#222" stroke-width="1" stroke-linejoin="round" stroke-linecap="round" />
<path d="M 752.47 833.84 L 752.47 839.31" fill="none" stroke="#222" stroke-width="1" stroke-linejoin="round" stroke-linecap="round" />
<path d="M 750.42 833.2 L 750.42 838.67" fill="none" stroke="#222" stroke-width="1" stroke-linejoin="round" stroke-linecap="round" />
<path d="M 748.5 832.47 L 748.5 837.94" fill="none" stroke="#222" stroke-width="1" stroke-linejoin="round" stroke-linecap="round" />
<path d="M 746.7 831.64 L 746.7 837.11" fill="none" stroke="#222" stroke-width="1" stroke-linejoin="round" stroke-linecap="round" />
<path d="M 745.05 830.72 L 745.05 836.19" fill="none" stroke="#222" stroke-width="1" stroke-linejoin="round" stroke-linecap="round" />
<path d="M 743.55 829.72 L 743.55 835.19" fill="none" stroke="#222" stroke-width="1" stroke-linejoin="round" stroke-linecap="round" />
<path d="M 742.23 828.66 L 742.23 834.12" fill="none" stroke="#222" stroke-width="1" stroke-linejoin="round" stroke-linecap="round" />
<path d="M 741.09 827.52 L 741.09 832.98" fill="none" stroke="#222" stroke-width="1" stroke-linejoin="round" stroke-linecap="round" />
<path d="M 740.14 826.33 L 740.14 831.8" fill="none" stroke="#222" stroke-width="1" stroke-linejoin="round" stroke-linecap="round" />
<path d="M 739.41 825.09 L 739.41 830.56" fill="none" stroke="#222" stroke-width="1" stroke-linejoin="round" stroke-linecap="round" />
<path d="M 738.88 823.83 L 738.88 829.3" fill="none" stroke="#222" stroke-width="1" stroke-linejoin="round" stroke-linecap="round" />
<path d="M 738.55 822.55 L 738.55 828.02" fill="none" stroke="#222" stroke-width="1" stroke-linejoin="round" stroke-linecap="round" />
<path d="M 738.44 821.25 L 738.44 826.72" fill="none" stroke="#222" stroke-width="1" stroke-linejoin="round" stroke-linecap="round" />
<ellipse cx="763.75" cy="820.62" rx="12.5" ry="23.12" transform="rotate(90 763.75 820.62)" fill="none" stroke="#222" stroke-width="0.9" />
<ellipse cx="763.75" cy="820.31" rx="10.62" ry="20" transform="rotate(90 763.75 820.31)" fill="none" stroke="#222" stroke-width="1.6" />
<ellipse cx="763.75" cy="820.31" rx="9.38" ry="18.12" transform="rotate(90 763.75 820.31)" fill="none" stroke="#222" stroke-width="0.8" />
<ellipse cx="763.75" cy="819.69" rx="6.88" ry="13.75" transform="rotate(90 763.75 819.69)" fill="none" stroke="#222" stroke-width="1.4" />
<ellipse cx="779.45" cy="821.72" rx="0.94" ry="1.41" transform="rotate(90 779.45 821.72)" fill="none" stroke="#222" stroke-width="0.8" />
<ellipse cx="775.96" cy="825.54" rx="0.94" ry="1.41" transform="rotate(90 775.96 825.54)" fill="none" stroke="#222" stroke-width="0.8" />
<ellipse cx="769.2" cy="827.95" rx="0.94" ry="1.41" transform="rotate(90 769.2 827.95)" fill="none" stroke="#222" stroke-width="0.8" />
<ellipse cx="760.98" cy="828.31" rx="0.94" ry="1.41" transform="rotate(90 760.98 828.31)" fill="none" stroke="#222" stroke-width="0.8" />
<ellipse cx="753.51" cy="826.54" rx="0.94" ry="1.41" transform="rotate(90 753.51 826.54)" fill="none" stroke="#222" stroke-width="0.8" />
<ellipse cx="748.77" cy="823.09" rx="0.94" ry="1.41" transform="rotate(90 748.77 823.09)" fill="none" stroke="#222" stroke-width="0.8" />
<ellipse cx="748.05" cy="818.9" rx="0.94" ry="1.41" transform="rotate(90 748.05 818.9)" fill="none" stroke="#222" stroke-width="0.8" />
<ellipse cx="751.54" cy="815.09" rx="0.94" ry="1.41" transform="rotate(90 751.54 815.09)" fill="none" stroke="#222" stroke-width="0.8" />
<ellipse cx="758.3" cy="812.68" rx="0.94" ry="1.41" transform="rotate(90 758.3 812.68)" fill="none" stroke="#222" stroke-width="0.8" />
<ellipse cx="766.52" cy="812.31" rx="0.94" ry="1.41" transform="rotate(90 766.52 812.31)" fill="none" stroke="#222" stroke-width="0.8" />
<ellipse cx="773.99" cy="814.09" rx="0.94" ry="1.41" transform="rotate(90 773.99 814.09)" fill="none" stroke="#222" stroke-width="0.8" />
<ellipse cx="778.73" cy="817.53" rx="0.94" ry="1.41" transform="rotate(90 778.73 817.53)" fill="none" stroke="#222" stroke-width="0.8" />
<ellipse cx="763.75" cy="818.59" rx="4.69" ry="9.69" transform="rotate(90 763.75 818.59)" fill="#fff" stroke="#222" stroke-width="1.2" />
<path d="M 756.56 817.03 L 758.59 811.56 L 768.75 811.56 L 771.09 817.03 Q 764.06 820.94 756.56 817.03 Z" fill="#fff" stroke="#222" stroke-width="1.1" stroke-linejoin="round" stroke-linecap="round" />
<ellipse cx="763.75" cy="811.25" rx="2.34" ry="5.16" transform="rotate(90 763.75 811.25)" fill="#fff" stroke="#222" stroke-width="1.1" />
<ellipse cx="763.75" cy="810.94" rx="1.25" ry="2.5" transform="rotate(90 763.75 810.94)" fill="none" stroke="#222" stroke-width="1" />
<polyline points="770.31,815 770.26,815.37 770.09,815.73 769.81,816.08 769.43,816.41 768.96,816.71 768.39,816.99 767.74,817.23 767.03,817.44 766.26,817.6 765.45,817.72 764.61,817.79 763.75,817.81 762.89,817.79 762.05,817.72 761.24,817.6 760.47,817.44 759.76,817.23 759.11,816.99 758.54,816.71 758.07,816.41 757.69,816.08 757.41,815.73 757.24,815.37 757.19,815" fill="none" stroke="#222" stroke-width="0.8" stroke-linejoin="round" stroke-linecap="round"/>
<path d="M 760.16 812.34 L 759.84 816.56" fill="none" stroke="#222" stroke-width="0.7" stroke-linejoin="round" stroke-linecap="round" />
<path d="M 761.41 812.34 L 761.25 816.56" fill="none" stroke="#222" stroke-width="0.7" stroke-linejoin="round" stroke-linecap="round" />
<path d="M 762.66 812.34 L 762.66 816.56" fill="none" stroke="#222" stroke-width="0.7" stroke-linejoin="round" stroke-linecap="round" />
<path d="M 763.91 812.34 L 764.06 816.56" fill="none" stroke="#222" stroke-width="0.7" stroke-linejoin="round" stroke-linecap="round" />
<path d="M 765.16 812.34 L 765.47 816.56" fill="none" stroke="#222" stroke-width="0.7" stroke-linejoin="round" stroke-linecap="round" />
<path d="M 766.41 812.34 L 766.88 816.56" fill="none" stroke="#222" stroke-width="0.7" stroke-linejoin="round" stroke-linecap="round" />
<path d="M 767.66 812.34 L 768.28 816.56" fill="none" stroke="#222" stroke-width="0.7" stroke-linejoin="round" stroke-linecap="round" />
<polyline points="828.75,866.25 812.5,875" fill="none" stroke="#222" stroke-width="0.8" stroke-linejoin="round" stroke-linecap="round"/>
<polyline points="828.75,908.75 810,918.75" fill="none" stroke="#222" stroke-width="0.8" stroke-linejoin="round" stroke-linecap="round"/>
<polyline points="711.25,921.25 727.5,930" fill="none" stroke="#222" stroke-width="0.8" stroke-linejoin="round" stroke-linecap="round"/>
<ellipse cx="802.5" cy="836.5" rx="6.25" ry="10" transform="rotate(90 802.5 836.5)" fill="#fff" stroke="#222" stroke-width="1.4" />
<ellipse cx="802.5" cy="836" rx="3.75" ry="7" transform="rotate(90 802.5 836)" fill="none" stroke="#222" stroke-width="1.4" />
<ellipse cx="802.5" cy="837.5" rx="6.25" ry="10" transform="rotate(90 802.5 837.5)" fill="none" stroke="#222" stroke-width="0.8" />
<path d="M 793 839.5 L 791 841.5 L 794 844 L 797 842.5" fill="none" stroke="#222" stroke-width="1.3" stroke-linejoin="round" stroke-linecap="round" />
<ellipse cx="802.5" cy="852.5" rx="5.25" ry="8" transform="rotate(90 802.5 852.5)" fill="#fff" stroke="#222" stroke-width="1.3" />
<ellipse cx="802.5" cy="852" rx="2.25" ry="4" transform="rotate(90 802.5 852)" fill="none" stroke="#222" stroke-width="1.3" />
<polyline points="810.38,854.41 810.16,855.01 809.85,855.58 809.43,856.12 808.92,856.64 808.32,857.1 807.64,857.52 806.9,857.89 806.09,858.19 805.24,858.43 804.34,858.61 803.43,858.71 802.5,858.75 801.57,858.71 800.66,858.61 799.76,858.43 798.91,858.19 798.1,857.89 797.36,857.52 796.68,857.1 796.08,856.64 795.57,856.12 795.15,855.58 794.84,855.01 794.62,854.41" fill="none" stroke="#222" stroke-width="0.8" stroke-linejoin="round" stroke-linecap="round"/>
<path d="M 735 865 Q 736.25 855 747.5 850 Q 760 846.25 772.5 847.5 Q 785 850 790 857.5 L 793.75 865 L 810 877.5 Q 812.5 882.5 810 886.25 L 813.75 888.75 Q 812.5 893.75 800 893 Q 780 890 770 882.5 Q 765 878.75 757.5 878.75 Q 740 877.5 735 865 Z" fill="none" stroke="#222" stroke-width="3" stroke-linejoin="round" stroke-linecap="round" />
<path d="M 735 865 Q 736.25 855 747.5 850 Q 760 846.25 772.5 847.5 Q 785 850 790 857.5 L 793.75 865 L 810 877.5 Q 812.5 882.5 810 886.25 L 813.75 888.75 Q 812.5 893.75 800 893 Q 780 890 770 882.5 Q 765 878.75 757.5 878.75 Q 740 877.5 735 865 Z" fill="none" stroke="#fff" stroke-width="0.9" stroke-linejoin="round" stroke-linecap="round" />
<path d="M 728.25 910.47 L 730.16 907.29 L 758.09 892.06 L 761.89 890.79 L 765.7 892.7 L 780.94 896.5 L 791.09 902.85 L 796.17 909.2 L 806.33 909.45 L 809.5 911.74 L 810.14 918.09 L 839.33 931.42 L 841.87 934.59 L 840.6 939.67 L 808.87 958.71 L 801.25 959.34 L 797.44 956.17 L 796.17 951.09 L 786.01 943.48 L 768.24 939.67 L 761.89 939.67 L 760.62 935.86 L 740.31 924.43 L 729.52 916.82 Z" fill="#fff" stroke="#222" stroke-width="1.6" stroke-linejoin="round" stroke-linecap="round" />
<path d="M 728.25 910.47 L 729.14 914.02 L 740.95 921.89 L 761.26 933.32 L 762.53 936.87 L 768.88 937.13 L 786.01 940.94 L 796.81 948.55 L 798.46 953.89 L 801.88 956.81 L 808.87 956.17 L 839.97 937.38" fill="none" stroke="#222" stroke-width="1" stroke-linejoin="round" stroke-linecap="round" />
<ellipse cx="763.8" cy="913.64" rx="16.5" ry="27.68" transform="rotate(90 763.8 913.64)" fill="none" stroke="#222" stroke-width="1.7" />
<ellipse cx="763.8" cy="913.64" rx="14.47" ry="24.88" transform="rotate(90 763.8 913.64)" fill="none" stroke="#222" stroke-width="1.2" />
<path d="M 771.09 914.21 L 787.93 915.6" fill="none" stroke="#222" stroke-width="2.2" stroke-linejoin="round" stroke-linecap="round" />
<path d="M 768.23 916.89 L 778.46 924.89" fill="none" stroke="#222" stroke-width="2.2" stroke-linejoin="round" stroke-linecap="round" />
<path d="M 762.77 917.67 L 760.41 927.59" fill="none" stroke="#222" stroke-width="2.2" stroke-linejoin="round" stroke-linecap="round" />
<path d="M 757.92 916.09 L 744.34 922.12" fill="none" stroke="#222" stroke-width="2.2" stroke-linejoin="round" stroke-linecap="round" />
<path d="M 756.51 913.07 L 739.66 911.69" fill="none" stroke="#222" stroke-width="2.2" stroke-linejoin="round" stroke-linecap="round" />
<path d="M 759.37 910.39 L 749.14 902.39" fill="none" stroke="#222" stroke-width="2.2" stroke-linejoin="round" stroke-linecap="round" />
<path d="M 764.83 909.62 L 767.19 899.69" fill="none" stroke="#222" stroke-width="2.2" stroke-linejoin="round" stroke-linecap="round" />
<path d="M 769.68 911.19 L 783.26 905.16" fill="none" stroke="#222" stroke-width="2.2" stroke-linejoin="round" stroke-linecap="round" />
<ellipse cx="763.8" cy="913.64" rx="3.68" ry="6.6" transform="rotate(90 763.8 913.64)" fill="#fff" stroke="#222" stroke-width="1.4" />
<ellipse cx="763.8" cy="914.28" rx="1.9" ry="3.81" transform="rotate(90 763.8 914.28)" fill="none" stroke="#222" stroke-width="1.1" />
<path d="M 791.09 902.85 Q 801.25 913.01 808.87 921.89 L 829.18 932.05 Q 831.72 935.86 829.18 939.67 L 811.41 949.82 M 788.55 921.89 Q 796.17 918.09 807.6 923.16 M 786.01 934.59 L 796.17 943.48 L 803.79 946.01 M 808.87 935.86 L 827.91 935.86 M 808.87 937.13 L 825.37 940.94 M 807.6 939.67 L 819.02 946.01 M 805.06 940.94 L 808.87 951.09 M 801.25 940.94 L 801.88 951.09 M 811.41 920.62 L 834.26 932.69" fill="none" stroke="#222" stroke-width="1.2" stroke-linejoin="round" stroke-linecap="round" />
<path d="M 791.73 930.78 L 791.73 934.59 Q 796.17 939.67 801.25 939.67 Q 807.6 939.03 810.77 934.59 L 810.77 930.78" fill="#fff" stroke="#222" stroke-width="1.3" stroke-linejoin="round" stroke-linecap="round" />
<ellipse cx="801.25" cy="930.78" rx="5.59" ry="9.52" transform="rotate(90 801.25 930.78)" fill="#fff" stroke="#222" stroke-width="1.5" />
<ellipse cx="801.25" cy="930.53" rx="3.55" ry="6.6" transform="rotate(90 801.25 930.53)" fill="none" stroke="#222" stroke-width="1.4" />
<polyline points="807.34,931.8 807.29,932.16 807.14,932.52 806.88,932.87 806.53,933.19 806.08,933.5 805.56,933.77 804.96,934.01 804.3,934.22 803.58,934.38 802.83,934.49 802.04,934.57 801.25,934.59 800.45,934.57 799.67,934.49 798.92,934.38 798.2,934.22 797.54,934.01 796.94,933.77 796.41,933.5 795.97,933.19 795.62,932.87 795.36,932.52 795.21,932.16 795.16,931.8" fill="none" stroke="#222" stroke-width="0.9" stroke-linejoin="round" stroke-linecap="round"/>
<ellipse cx="787.28" cy="927.99" rx="4.19" ry="7.11" transform="rotate(90 787.28 927.99)" fill="#fff" stroke="#222" stroke-width="2.4" />
<ellipse cx="787.28" cy="927.99" rx="2.29" ry="4.06" transform="rotate(90 787.28 927.99)" fill="none" stroke="#222" stroke-width="1.3" />
<polyline points="791.09,929 791.06,929.24 790.96,929.46 790.8,929.68 790.58,929.89 790.31,930.09 789.98,930.26 789.6,930.41 789.19,930.54 788.74,930.65 788.27,930.72 787.78,930.77 787.28,930.78 786.79,930.77 786.3,930.72 785.83,930.65 785.38,930.54 784.97,930.41 784.59,930.26 784.26,930.09 783.99,929.89 783.77,929.68 783.61,929.46 783.51,929.24 783.48,929" fill="none" stroke="#222" stroke-width="0.9" stroke-linejoin="round" stroke-linecap="round"/>
<ellipse cx="760.62" cy="892.7" rx="1.78" ry="3.05" transform="rotate(90 760.62 892.7)" fill="#fff" stroke="#222" stroke-width="1.3" />
<ellipse cx="760.62" cy="892.7" rx="0.89" ry="1.52" transform="rotate(90 760.62 892.7)" fill="none" stroke="#222" stroke-width="0.9" />
<ellipse cx="805.06" cy="911.48" rx="1.78" ry="3.05" transform="rotate(90 805.06 911.48)" fill="#fff" stroke="#222" stroke-width="1.3" />
<ellipse cx="805.06" cy="911.48" rx="0.89" ry="1.52" transform="rotate(90 805.06 911.48)" fill="none" stroke="#222" stroke-width="0.9" />
<ellipse cx="836.8" cy="934.34" rx="1.78" ry="3.05" transform="rotate(90 836.8 934.34)" fill="#fff" stroke="#222" stroke-width="1.3" />
<ellipse cx="836.8" cy="934.34" rx="0.89" ry="1.52" transform="rotate(90 836.8 934.34)" fill="none" stroke="#222" stroke-width="0.9" />
<ellipse cx="803.15" cy="953.89" rx="1.78" ry="3.05" transform="rotate(90 803.15 953.89)" fill="#fff" stroke="#222" stroke-width="1.3" />
<ellipse cx="803.15" cy="953.89" rx="0.89" ry="1.52" transform="rotate(90 803.15 953.89)" fill="none" stroke="#222" stroke-width="0.9" />
<ellipse cx="765.07" cy="935.48" rx="1.78" ry="3.05" transform="rotate(90 765.07 935.48)" fill="#fff" stroke="#222" stroke-width="1.3" />
<ellipse cx="765.07" cy="935.48" rx="0.89" ry="1.52" transform="rotate(90 765.07 935.48)" fill="none" stroke="#222" stroke-width="0.9" />
<ellipse cx="731.68" cy="910.09" rx="1.78" ry="3.05" transform="rotate(90 731.68 910.09)" fill="#fff" stroke="#222" stroke-width="1.3" />
<ellipse cx="731.68" cy="910.09" rx="0.89" ry="1.52" transform="rotate(90 731.68 910.09)" fill="none" stroke="#222" stroke-width="0.9" />
<path d="M 742.85 925.7 L 743.11 927.99 M 763.16 939.67 L 763.42 941.95 M 788.55 944.11 L 788.81 946.01 M 798.71 956.17 L 798.96 958.08" fill="none" stroke="#222" stroke-width="1.6" stroke-linejoin="round" stroke-linecap="round" />
<path d="M 729.5 925 L 729.5 936.25 L 733 936.25 L 733 925 Z" fill="#fff" stroke="#222" stroke-width="0.9" stroke-linejoin="round" stroke-linecap="round" />
<path d="M 729.25 926 L 733.25 926.75" fill="none" stroke="#222" stroke-width="0.9" stroke-linejoin="round" stroke-linecap="round" />
<path d="M 729.25 928 L 733.25 928.75" fill="none" stroke="#222" stroke-width="0.9" stroke-linejoin="round" stroke-linecap="round" />
<path d="M 729.25 930 L 733.25 930.75" fill="none" stroke="#222" stroke-width="0.9" stroke-linejoin="round" stroke-linecap="round" />
<path d="M 729.25 932 L 733.25 932.75" fill="none" stroke="#222" stroke-width="0.9" stroke-linejoin="round" stroke-linecap="round" />
<path d="M 729.25 934 L 733.25 934.75" fill="none" stroke="#222" stroke-width="0.9" stroke-linejoin="round" stroke-linecap="round" />
<path d="M 728 935.5 L 734.5 935.5 L 734.5 941 L 728 941 Z" fill="#fff" stroke="#222" stroke-width="1.1" stroke-linejoin="round" stroke-linecap="round" />
<ellipse cx="731.25" cy="941" rx="1.25" ry="3.25" transform="rotate(90 731.25 941)" fill="#fff" stroke="#222" stroke-width="1.1" />
<polyline points="734.5,935.5 734.47,935.66 734.39,935.82 734.25,935.98 734.06,936.12 733.83,936.26 733.55,936.38 733.23,936.49 732.88,936.58 732.49,936.65 732.09,936.71 731.67,936.74 731.25,936.75 730.83,936.74 730.41,936.71 730.01,936.65 729.62,936.58 729.27,936.49 728.95,936.38 728.67,936.26 728.44,936.12 728.25,935.98 728.11,935.82 728.03,935.66 728,935.5" fill="none" stroke="#222" stroke-width="1" stroke-linejoin="round" stroke-linecap="round"/>
<ellipse cx="731.25" cy="925" rx="0.75" ry="1.75" transform="rotate(90 731.25 925)" fill="#fff" stroke="#222" stroke-width="0.9" />
<polyline points="215,315.78 226.72,322.03" fill="none" stroke="#222" stroke-width="0.8" stroke-linejoin="round" stroke-linecap="round"/>
<polyline points="215,365 242.34,380.62" fill="none" stroke="#222" stroke-width="0.8" stroke-linejoin="round" stroke-linecap="round"/>
<polyline points="215,379.06 244.69,395" fill="none" stroke="#222" stroke-width="0.8" stroke-linejoin="round" stroke-linecap="round"/>
<polyline points="215,397.03 239.69,411.09" fill="none" stroke="#222" stroke-width="0.8" stroke-linejoin="round" stroke-linecap="round"/>
<polyline points="215,415 241.56,429.84" fill="none" stroke="#222" stroke-width="0.8" stroke-linejoin="round" stroke-linecap="round"/>
<path d="M 206.88 340 Q 210.31 329.06 225.94 323.59 L 236.88 321.25 L 250.16 322.03 L 250.62 315.78 L 257.97 312.19 L 284.53 329.84 L 277.5 334.53 L 275.16 338.44 L 275.16 347.81 Q 271.25 358.75 252.5 361.09 Q 236.88 361.88 225.16 355.62 L 220.47 348.59 L 218.12 344.69 L 215.78 349.38 L 213.44 349.06 L 213.12 343.12 L 207.5 342.81 Z" fill="#fff" stroke="#222" stroke-width="1.3" stroke-linejoin="round" stroke-linecap="round" />
<path d="M 206.88 340 L 213.44 339.69 L 241.56 353.28 L 247.03 350.62 L 243.91 354.06 L 240.31 354.38 L 240 359.53 M 213.44 339.69 Q 219.69 329.06 236.88 323.59 L 244.69 323.12 M 250.62 315.78 L 252.5 322.03 Q 265 325.16 275.16 335.31 L 277.5 334.53 M 257.97 315 Q 271.25 321.25 282.19 330.31 M 252.5 322.03 L 250.16 322.03" fill="none" stroke="#222" stroke-width="1.1" stroke-linejoin="round" stroke-linecap="round" />
<path d="M 220.47 340 Q 225.94 329.06 248.59 326.25 Q 268.12 327.5 275.16 338.44" fill="none" stroke="#222" stroke-width="1.1" stroke-linejoin="round" stroke-linecap="round" />
<path d="M 221.25 341.56 Q 230.62 351.72 248.59 351.25 Q 265 350.16 274.38 339.22" fill="none" stroke="#222" stroke-width="1" stroke-linejoin="round" stroke-linecap="round" />
<ellipse cx="248.59" cy="339.69" rx="9.38" ry="16.88" transform="rotate(90 248.59 339.69)" fill="#fff" stroke="#222" stroke-width="1.4" />
<path d="M 239.69 329.38 Q 248.59 327.19 257.5 329.38" fill="none" stroke="#222" stroke-width="3" stroke-linejoin="round" stroke-linecap="round" />
<path d="M 230.94 335.31 Q 227.19 338.44 229.84 343.91 M 232.97 335.31 Q 229.84 339.22 231.88 344.38 M 264.69 334.53 Q 268.91 338.44 266.25 343.91 M 263.12 335.31 Q 266.56 338.75 264.22 343.91" fill="none" stroke="#222" stroke-width="1.2" stroke-linejoin="round" stroke-linecap="round" />
<path d="M 236.88 321.25 L 237.66 323.12 L 244.69 323.12 L 245 321.56" fill="none" stroke="#222" stroke-width="0.9" stroke-linejoin="round" stroke-linecap="round" />
<path d="M 241.25 381.41 L 241.25 384.53 A 7.34 3.91 0 0 0 255.94 384.53 L 255.94 381.41 Z" fill="#fff" stroke="#222" stroke-width="1.6" stroke-linejoin="round" stroke-linecap="round" />
<ellipse cx="248.59" cy="381.41" rx="3.91" ry="7.34" transform="rotate(90 248.59 381.41)" fill="#fff" stroke="#222" stroke-width="1.6" />
<ellipse cx="248.59" cy="381.72" rx="2.19" ry="4.69" transform="rotate(90 248.59 381.72)" fill="none" stroke="#222" stroke-width="2.4" />
<ellipse cx="248.59" cy="382.19" rx="1.09" ry="2.5" transform="rotate(90 248.59 382.19)" fill="none" stroke="#222" stroke-width="1" />
<path d="M 244.22 394.69 L 244.22 400 A 4.38 2.03 0 0 0 252.97 400 L 252.97 394.69 Z" fill="#fff" stroke="#222" stroke-width="1.2" stroke-linejoin="round" stroke-linecap="round" />
<ellipse cx="248.59" cy="394.69" rx="2.03" ry="4.38" transform="rotate(90 248.59 394.69)" fill="#fff" stroke="#222" stroke-width="1.2" />
<path d="M 238.44 413.44 L 238.44 419.06 A 10.16 5.47 0 0 0 258.75 419.06 L 258.75 413.44 Z" fill="#fff" stroke="#222" stroke-width="1.3" stroke-linejoin="round" stroke-linecap="round" />
<ellipse cx="248.59" cy="413.44" rx="5.47" ry="10.16" transform="rotate(90 248.59 413.44)" fill="#fff" stroke="#222" stroke-width="1.3" />
<ellipse cx="248.59" cy="413.44" rx="4.06" ry="7.81" transform="rotate(90 248.59 413.44)" fill="none" stroke="#222" stroke-width="1.6" />
<ellipse cx="248.59" cy="413.59" rx="2.81" ry="5.62" transform="rotate(90 248.59 413.59)" fill="none" stroke="#222" stroke-width="0.9" />
<ellipse cx="248.59" cy="413.75" rx="1.72" ry="3.75" transform="rotate(90 248.59 413.75)" fill="none" stroke="#222" stroke-width="1.2" />
<ellipse cx="248.59" cy="432.5" rx="4.69" ry="8.59" transform="rotate(90 248.59 432.5)" fill="#fff" stroke="#222" stroke-width="1.4" />
<ellipse cx="248.59" cy="432.19" rx="2.03" ry="3.91" transform="rotate(90 248.59 432.19)" fill="none" stroke="#222" stroke-width="1.2" />
<polyline points="215,469.75 233.75,479.75" fill="none" stroke="#222" stroke-width="0.8" stroke-linejoin="round" stroke-linecap="round"/>
<path d="M 246.5 513.5 L 246.5 527.25 A 1.75 0.75 0 0 0 250 527.25 L 250 513.5 Z" fill="#fff" stroke="#222" stroke-width="1" stroke-linejoin="round" stroke-linecap="round" />
<ellipse cx="248.25" cy="513.5" rx="0.75" ry="1.75" transform="rotate(90 248.25 513.5)" fill="#fff" stroke="#222" stroke-width="1" />
<path d="M 238.25 497.25 L 238.25 512.75 A 10 4 0 0 0 258.25 512.75 L 258.25 497.25 Z" fill="#fff" stroke="#222" stroke-width="1.2" stroke-linejoin="round" stroke-linecap="round" />
<ellipse cx="248.25" cy="497.25" rx="4" ry="10" transform="rotate(90 248.25 497.25)" fill="#fff" stroke="#222" stroke-width="1.2" />
<path d="M 239.5 508.5 L 239.5 515.5" fill="none" stroke="#222" stroke-width="0.8" stroke-linejoin="round" stroke-linecap="round" />
<path d="M 241.68 508.5 L 241.68 515.5" fill="none" stroke="#222" stroke-width="0.8" stroke-linejoin="round" stroke-linecap="round" />
<path d="M 243.85 508.5 L 243.85 515.5" fill="none" stroke="#222" stroke-width="0.8" stroke-linejoin="round" stroke-linecap="round" />
<path d="M 246.03 508.5 L 246.03 515.5" fill="none" stroke="#222" stroke-width="0.8" stroke-linejoin="round" stroke-linecap="round" />
<path d="M 248.2 508.5 L 248.2 515.5" fill="none" stroke="#222" stroke-width="0.8" stroke-linejoin="round" stroke-linecap="round" />
<path d="M 250.38 508.5 L 250.38 515.5" fill="none" stroke="#222" stroke-width="0.8" stroke-linejoin="round" stroke-linecap="round" />
<path d="M 252.55 508.5 L 252.55 515.5" fill="none" stroke="#222" stroke-width="0.8" stroke-linejoin="round" stroke-linecap="round" />
<path d="M 254.72 508.5 L 254.72 515.5" fill="none" stroke="#222" stroke-width="0.8" stroke-linejoin="round" stroke-linecap="round" />
<path d="M 256.9 508.5 L 256.9 515.5" fill="none" stroke="#222" stroke-width="0.8" stroke-linejoin="round" stroke-linecap="round" />
<path d="M 238.25 502.25 Q 248.25 507.25 258.25 502.25 M 238.25 507.25 Q 248.25 512.25 258.25 507.25" fill="none" stroke="#222" stroke-width="1.3" stroke-linejoin="round" stroke-linecap="round" />
<path d="M 233.25 469.75 L 233.25 496.75 A 15 6 0 0 0 263.25 496.75 L 263.25 469.75 Z" fill="#fff" stroke="#222" stroke-width="1.3" stroke-linejoin="round" stroke-linecap="round" />
<ellipse cx="248.25" cy="469.75" rx="6" ry="15" transform="rotate(90 248.25 469.75)" fill="#fff" stroke="#222" stroke-width="1.3" />
<path d="M 235.5 479.75 L 235.5 497.25" fill="none" stroke="#222" stroke-width="0.9" stroke-linejoin="round" stroke-linecap="round" />
<path d="M 239.15 479.75 L 239.15 499.62" fill="none" stroke="#222" stroke-width="0.9" stroke-linejoin="round" stroke-linecap="round" />
<path d="M 242.8 479.75 L 242.8 501.55" fill="none" stroke="#222" stroke-width="0.9" stroke-linejoin="round" stroke-linecap="round" />
<path d="M 246.45 479.75 L 246.45 502.6" fill="none" stroke="#222" stroke-width="0.9" stroke-linejoin="round" stroke-linecap="round" />
<path d="M 250.1 479.75 L 250.1 502.6" fill="none" stroke="#222" stroke-width="0.9" stroke-linejoin="round" stroke-linecap="round" />
<path d="M 253.75 479.75 L 253.75 501.55" fill="none" stroke="#222" stroke-width="0.9" stroke-linejoin="round" stroke-linecap="round" />
<path d="M 257.4 479.75 L 257.4 499.62" fill="none" stroke="#222" stroke-width="0.9" stroke-linejoin="round" stroke-linecap="round" />
<path d="M 261.05 479.75 L 261.05 497.25" fill="none" stroke="#222" stroke-width="0.9" stroke-linejoin="round" stroke-linecap="round" />
<path d="M 233.25 479.75 Q 248.25 487.25 263.25 479.75" fill="none" stroke="#222" stroke-width="1" stroke-linejoin="round" stroke-linecap="round" />
<path d="M 236.25 479 Q 239.25 473.5 242.75 468.5" fill="none" stroke="#222" stroke-width="0.9" stroke-linejoin="round" stroke-linecap="round" />
<path d="M 239.75 479 Q 242.75 473.5 246.25 468.5" fill="none" stroke="#222" stroke-width="0.9" stroke-linejoin="round" stroke-linecap="round" />
<path d="M 243.25 479 Q 246.25 473.5 249.75 468.5" fill="none" stroke="#222" stroke-width="0.9" stroke-linejoin="round" stroke-linecap="round" />
<path d="M 246.75 479 Q 249.75 473.5 253.25 468.5" fill="none" stroke="#222" stroke-width="0.9" stroke-linejoin="round" stroke-linecap="round" />
<path d="M 250.25 479 Q 253.25 473.5 256.75 468.5" fill="none" stroke="#222" stroke-width="0.9" stroke-linejoin="round" stroke-linecap="round" />
<path d="M 253.75 479 Q 256.75 473.5 260.25 468.5" fill="none" stroke="#222" stroke-width="0.9" stroke-linejoin="round" stroke-linecap="round" />
<path d="M 257.25 479 Q 260.25 473.5 263.75 468.5" fill="none" stroke="#222" stroke-width="0.9" stroke-linejoin="round" stroke-linecap="round" />
<path d="M 234.5 469.75 Q 240 462.25 245 463 L 251.5 463 Q 257.5 463 262 469.75" fill="#fff" stroke="#222" stroke-width="1.2" stroke-linejoin="round" stroke-linecap="round" />
<path d="M 245.25 442.25 L 245.25 464.75 A 3 1.25 0 0 0 251.25 464.75 L 251.25 442.25 Z" fill="#fff" stroke="#222" stroke-width="1.1" stroke-linejoin="round" stroke-linecap="round" />
<ellipse cx="248.25" cy="442.25" rx="1.25" ry="3" transform="rotate(90 248.25 442.25)" fill="#fff" stroke="#222" stroke-width="1.1" />
<path d="M 247 444 L 247 461 M 249 444 L 249 461" fill="none" stroke="#222" stroke-width="0.7" stroke-linejoin="round" stroke-linecap="round" />
<path d="M 244.5 461 L 252 461 L 252.5 464.75 L 244 464.75 Z" fill="#fff" stroke="#222" stroke-width="1" stroke-linejoin="round" stroke-linecap="round" />
<polyline points="215,517 237.5,535.5" fill="none" stroke="#222" stroke-width="0.8" stroke-linejoin="round" stroke-linecap="round"/>
<polyline points="215,541.25 241.25,556.25" fill="none" stroke="#222" stroke-width="0.8" stroke-linejoin="round" stroke-linecap="round"/>
<polyline points="281.25,561.25 267.5,555" fill="none" stroke="#222" stroke-width="0.8" stroke-linejoin="round" stroke-linecap="round"/>
<polyline points="215,587 223.75,592.5" fill="none" stroke="#222" stroke-width="0.8" stroke-linejoin="round" stroke-linecap="round"/>
<path d="M 246.5 517 L 246.5 528.25 A 1.75 0.75 0 0 0 250 528.25 L 250 517 Z" fill="#fff" stroke="#222" stroke-width="1" stroke-linejoin="round" stroke-linecap="round" />
<ellipse cx="248.25" cy="517" rx="0.75" ry="1.75" transform="rotate(90 248.25 517)" fill="#fff" stroke="#222" stroke-width="1" />
<path d="M 237.5 539.5 L 237.5 546.5 A 11.25 5.5 0 0 0 260 546.5 L 260 539.5 Z" fill="#fff" stroke="#222" stroke-width="1.3" stroke-linejoin="round" stroke-linecap="round" />
<ellipse cx="248.75" cy="539.5" rx="5.5" ry="11.25" transform="rotate(90 248.75 539.5)" fill="#fff" stroke="#222" stroke-width="1.3" />
<ellipse cx="248.75" cy="539.5" rx="3.75" ry="8.5" transform="rotate(90 248.75 539.5)" fill="none" stroke="#222" stroke-width="1.6" />
<ellipse cx="248.75" cy="539.75" rx="2.25" ry="5.5" transform="rotate(90 248.75 539.75)" fill="none" stroke="#222" stroke-width="0.9" />
<ellipse cx="248.75" cy="540" rx="1.25" ry="3.25" transform="rotate(90 248.75 540)" fill="none" stroke="#222" stroke-width="1.2" />
<path d="M 240.75 556.25 L 240.75 561.75 A 8 3.75 0 0 0 256.75 561.75 L 256.75 556.25 Z" fill="#fff" stroke="#222" stroke-width="1.3" stroke-linejoin="round" stroke-linecap="round" />
<ellipse cx="248.75" cy="556.25" rx="3.75" ry="8" transform="rotate(90 248.75 556.25)" fill="#fff" stroke="#222" stroke-width="1.3" />
<ellipse cx="248.75" cy="556.25" rx="2.25" ry="5.5" transform="rotate(90 248.75 556.25)" fill="none" stroke="#222" stroke-width="1.6" />
<ellipse cx="248.75" cy="556.5" rx="1" ry="2.75" transform="rotate(90 248.75 556.5)" fill="none" stroke="#222" stroke-width="1" />
<path d="M 263.75 545 L 263.75 568.75 L 266.25 568.75 L 266.25 545 Z" fill="#fff" stroke="#222" stroke-width="0.9" stroke-linejoin="round" stroke-linecap="round" />
<path d="M 263.5 555 L 266.5 555.75" fill="none" stroke="#222" stroke-width="0.9" stroke-linejoin="round" stroke-linecap="round" />
<path d="M 263.5 557.25 L 266.5 558" fill="none" stroke="#222" stroke-width="0.9" stroke-linejoin="round" stroke-linecap="round" />
<path d="M 263.5 559.5 L 266.5 560.25" fill="none" stroke="#222" stroke-width="0.9" stroke-linejoin="round" stroke-linecap="round" />
<path d="M 263.5 561.75 L 266.5 562.5" fill="none" stroke="#222" stroke-width="0.9" stroke-linejoin="round" stroke-linecap="round" />
<path d="M 263.5 564 L 266.5 564.75" fill="none" stroke="#222" stroke-width="0.9" stroke-linejoin="round" stroke-linecap="round" />
<path d="M 263.5 566.25 L 266.5 567" fill="none" stroke="#222" stroke-width="0.9" stroke-linejoin="round" stroke-linecap="round" />
<ellipse cx="265" cy="544.25" rx="1.5" ry="3" transform="rotate(90 265 544.25)" fill="#fff" stroke="#222" stroke-width="1.2" />
<path d="M 262 544.5 L 263 546.5 L 267 546.5 L 268 544.5" fill="none" stroke="#222" stroke-width="1" stroke-linejoin="round" stroke-linecap="round" />
<polyline points="214.84,588.44 222.66,592.81" fill="none" stroke="#222" stroke-width="0.8" stroke-linejoin="round" stroke-linecap="round"/>
<polyline points="202.34,640.47 217.97,649.38" fill="none" stroke="#222" stroke-width="0.8" stroke-linejoin="round" stroke-linecap="round"/>
<polyline points="317.97,668.59 332.81,660" fill="none" stroke="#222" stroke-width="0.8" stroke-linejoin="round" stroke-linecap="round"/>
<path d="M 222.18 587.34 L 222.52 607.85 Q 227.3 613.32 235.51 615.02 Q 244.39 618.1 253.28 618.1 Q 264.21 617.42 269.68 613.66 Q 273.78 610.58 274.47 607.16 L 274.81 586.66 Z" fill="#fff" stroke="#222" stroke-width="1.4" stroke-linejoin="round" stroke-linecap="round" />
<path d="M 223.89 612.63 L 225.94 616.87 L 228.67 615.02 M 235.51 617.28 L 238.24 621.65 L 239.06 618.1 M 240.97 621.18 L 242.34 625.76 L 245.08 625.07 L 245.08 620.49 M 262.85 620.15 L 264.9 623.02 L 267.77 620.97 L 266.95 618.1" fill="none" stroke="#222" stroke-width="1.5" stroke-linejoin="round" stroke-linecap="round" />
<path d="M 222.52 603.75 Q 228.67 610.58 243.71 614 Q 253.28 615.37 258.75 614 M 258.75 614 Q 268.32 611.95 274.33 605.11 M 223.2 607.16 Q 232.77 614 253.28 616.6" fill="none" stroke="#222" stroke-width="1.1" stroke-linejoin="round" stroke-linecap="round" />
<path d="M 254.3 600.33 L 254.51 617.07 M 258.75 599.64 L 258.88 616.73 M 265.58 596.91 L 265.72 614 M 269 594.86 L 269.14 611.95 M 272.28 592.13 L 272.42 609.21 M 255.33 601.01 L 258.75 600.33" fill="none" stroke="#222" stroke-width="1.3" stroke-linejoin="round" stroke-linecap="round" />
<path d="M 256.01 601.01 L 256.35 616.39 L 258.06 616.19 L 257.93 600.87 Z" fill="#aaa" stroke="#222" stroke-width="0.6" stroke-linejoin="round" stroke-linecap="round" />
<ellipse cx="248.49" cy="584.61" rx="14.01" ry="26.52" transform="rotate(90 248.49 584.61)" fill="#fff" stroke="#222" stroke-width="1.5" />
<path d="M 222.18 587.34 Q 224.57 596.91 242.34 601.01 Q 258.75 602.38 269.68 595.54 Q 273.78 592.13 274.81 587.34" fill="none" stroke="#222" stroke-width="1.1" stroke-linejoin="round" stroke-linecap="round" />
<path d="M 223.89 582.56 Q 228.67 572.3 243.71 568.89 Q 258.75 567.52 269 576.4 Q 273.1 581.19 272.42 585.97 Q 269.68 592.81 258.75 596.91 Q 253.28 598.28 249.18 597.25" fill="none" stroke="#222" stroke-width="1.1" stroke-linejoin="round" stroke-linecap="round" />
<path d="M 225.94 581.19 L 229.35 568.89 L 232.09 567.18 L 234.82 570.94 L 234.14 577.09 Q 232.77 587.34 234.82 592.13 L 245.08 595 Q 251.91 589.39 251.91 580.51 Q 251.23 573.67 247.13 570.94 L 249.18 568.2 L 251.91 570.25 L 252.25 573.67" fill="#fff" stroke="#222" stroke-width="1.4" stroke-linejoin="round" stroke-linecap="round" />
<path d="M 229.35 568.89 L 231.4 573.67 L 232.09 590.08 M 227.3 577.09 L 227.65 588.71 L 232.09 591.44 M 229.7 574.35 L 230.04 589.39 M 234.82 570.94 Q 240.97 568.89 247.13 570.94 M 235.51 582.56 Q 240.97 578.46 247.13 578.46 M 252.59 577.77 L 252.94 587.34 M 255.33 577.09 L 255.33 586.32" fill="none" stroke="#222" stroke-width="1.2" stroke-linejoin="round" stroke-linecap="round" />
<path d="M 245.08 595 Q 250.54 590.08 257.38 588.71 Q 264.21 587.34 266.95 583.24 Q 265.58 579.82 262.85 578.46 M 249.18 597.25 Q 253.28 592.13 260.11 590.76 Q 266.95 589.39 269.68 584.61 M 262.85 578.46 L 266.95 575.72 L 269.68 579.14 M 257.38 588.71 L 262.85 585.97 M 251.91 588.71 Q 256.01 585.97 262.16 580.51" fill="none" stroke="#222" stroke-width="1.3" stroke-linejoin="round" stroke-linecap="round" />
<path d="M 247.13 590.08 Q 253.28 588.71 258.75 585.97 Q 262.85 583.24 262.16 580.51 Q 258.75 582.56 253.28 583.92 Q 251.91 587.34 247.13 590.08 Z" fill="#999" stroke="#222" stroke-width="0.8" stroke-linejoin="round" stroke-linecap="round" />
<ellipse cx="232.09" cy="595.89" rx="1.5" ry="2.73" transform="rotate(90 232.09 595.89)" fill="#fff" stroke="#222" stroke-width="1.2" />
<ellipse cx="232.09" cy="595.89" rx="0.62" ry="1.23" transform="rotate(90 232.09 595.89)" fill="#777" stroke="#222" stroke-width="1" />
<path d="M 245.08 595.54 L 245.08 598.28 Q 246.78 599.3 248.49 598.28 L 248.49 595.54" fill="#fff" stroke="#222" stroke-width="1.1" stroke-linejoin="round" stroke-linecap="round" />
<ellipse cx="246.78" cy="595.54" rx="0.82" ry="1.71" transform="rotate(90 246.78 595.54)" fill="#fff" stroke="#222" stroke-width="1.1" />
<path d="M 231.25 627.19 L 233.12 626.88 L 282.81 656.09 Q 289.84 663.12 291.41 672.5 L 294.53 720 L 294.53 723.75 L 268.75 745.62 L 262.5 748.75 L 256.25 739.38 L 253.12 755 L 248.44 753.44 L 245.31 752.19 L 235.94 748.75 L 235.16 738.12 L 221.88 731.88 L 221.56 740.16 L 219.53 740.16 L 217.19 730 Q 205.47 719.06 208.12 708.12 L 212.5 700.31 L 206.25 680.31 L 186.72 667.81 L 183.59 654.53 Q 206.25 653.75 226.56 638.12 Q 230.47 633.44 231.25 627.19 Z" fill="#fff" stroke="#222" stroke-width="1.4" stroke-linejoin="round" stroke-linecap="round" />
<path d="M 183.59 654.53 L 214.06 672.5 Q 226.56 677.97 237.5 684.22 Q 246.88 691.25 250 700.62 L 256.25 717.5" fill="none" stroke="#222" stroke-width="1.4" stroke-linejoin="round" stroke-linecap="round" />
<path d="M 186.72 657.66 L 213.28 674.84 Q 226.56 680.31 235.94 686.25 Q 244.53 692.81 247.19 702.19 L 250.31 719.06" fill="none" stroke="#222" stroke-width="0.9" stroke-linejoin="round" stroke-linecap="round" />
<path d="M 200 660.78 Q 221.88 653.75 229.69 641.25 Q 233.12 635 233.12 626.88 M 202.34 662.34 L 214.06 669.38 M 229.69 641.25 L 268.75 663.12 M 270.31 650.62 L 270.62 669.38 L 275 672.5" fill="none" stroke="#222" stroke-width="1" stroke-linejoin="round" stroke-linecap="round" />
<path d="M 214.06 672.5 Q 217.19 663.12 234.38 661.25 Q 243.75 661.56 248.44 666.25 M 221.88 676.41 Q 226.56 667.81 237.5 666.25 Q 243.75 666.25 246.88 669.38" fill="none" stroke="#222" stroke-width="1.1" stroke-linejoin="round" stroke-linecap="round" />
<path d="M 232.81 663.12 L 240.62 675.62 L 241.41 685 M 243.75 669.38 L 243.75 686.56" fill="none" stroke="#222" stroke-width="0.9" stroke-linejoin="round" stroke-linecap="round" />
<path d="M 246.56 647.5 L 246.09 688.12 L 255.47 689.69 L 255 647.5 Z" fill="#fff" stroke="#222" stroke-width="1.2" stroke-linejoin="round" stroke-linecap="round" />
<ellipse cx="250.78" cy="646.72" rx="2.5" ry="4.22" transform="rotate(90 250.78 646.72)" fill="#fff" stroke="#222" stroke-width="1.2" />
<ellipse cx="250.78" cy="646.41" rx="1.41" ry="2.5" transform="rotate(90 250.78 646.41)" fill="none" stroke="#222" stroke-width="0.9" />
<path d="M 248.44 650.62 L 248.12 686.56 M 250.78 649.84 L 250.78 688.12 M 253.12 650.62 L 253.12 687.34" fill="none" stroke="#222" stroke-width="1" stroke-linejoin="round" stroke-linecap="round" />
<path d="M 259.38 660 L 260.16 689.69 L 265.62 688.91 L 264.84 657.66 Q 262.19 656.88 259.38 660 M 268.75 663.12 L 268.75 685 L 272.66 684.22 M 262.5 661.56 L 262.81 685" fill="none" stroke="#222" stroke-width="1.1" stroke-linejoin="round" stroke-linecap="round" />
<path d="M 248.44 695.94 Q 262.5 692.81 275 685 Q 284.38 678.75 289.84 672.5 M 250 699.84 Q 265.62 695.94 278.12 687.34 Q 286.72 681.88 291.41 676.41 M 253.12 692.81 L 255.47 701.41 M 275 685 L 275.78 692.81" fill="none" stroke="#222" stroke-width="1.2" stroke-linejoin="round" stroke-linecap="round" />
<path d="M 279.38 667.81 L 279.38 675.62 A 2.66 1.41 0 0 0 284.69 675.62 L 284.69 667.81 Z" fill="#fff" stroke="#222" stroke-width="1.1" stroke-linejoin="round" stroke-linecap="round" />
<ellipse cx="282.03" cy="667.81" rx="1.41" ry="2.66" transform="rotate(90 282.03 667.81)" fill="#fff" stroke="#222" stroke-width="1.1" />
<path d="M 245.94 688.44 L 245.94 693.12 A 2.5 1.25 0 0 0 250.94 693.12 L 250.94 688.44 Z" fill="#fff" stroke="#222" stroke-width="1.1" stroke-linejoin="round" stroke-linecap="round" />
<ellipse cx="248.44" cy="688.44" rx="1.25" ry="2.5" transform="rotate(90 248.44 688.44)" fill="#fff" stroke="#222" stroke-width="1.1" />
<ellipse cx="211.72" cy="668.59" rx="1.09" ry="2.19" transform="rotate(90 211.72 668.59)" fill="none" stroke="#222" stroke-width="1" />
<path d="M 256.25 698.28 L 262.5 701.41 L 266.41 699.84 M 268.75 699.06 L 269.53 706.09 L 273.44 704.53 L 273.75 697.5 M 276.56 716.25 L 284.38 713.12 L 292.19 717.81 M 276.56 694.38 L 312.5 716.25" fill="none" stroke="#222" stroke-width="1.1" stroke-linejoin="round" stroke-linecap="round" />
<text transform="translate(192.5 673.38) rotate(34) skewX(-18)" font-size="11" font-weight="bold" font-style="italic" fill="#fff" stroke="#222" stroke-width="0.6" textLength="50" lengthAdjust="spacingAndGlyphs">makita</text>
<path d="M 212.5 700.31 L 208.12 708.12 Q 205.47 719.06 220.31 730 L 234.38 737.03 L 250 741.25 L 256.25 739.38 L 262.5 748.75 L 268.75 745.62 L 294.53 723.75 L 294.53 720" fill="none" stroke="#222" stroke-width="1.3" stroke-linejoin="round" stroke-linecap="round" />
<path d="M 212.5 700.31 Q 221.88 714.38 237.5 723.75 L 250 728.44 L 256.25 739.38 M 250 728.44 L 250.31 719.06 L 256.25 717.5 L 256.25 731.56" fill="none" stroke="#222" stroke-width="1.2" stroke-linejoin="round" stroke-linecap="round" />
<path d="M 212.5 700.31 Q 215.62 715.94 237.5 726.88 L 249.69 730.78 M 208.12 708.12 Q 208.59 722.19 235.94 733.12 L 251.56 738.12" fill="none" stroke="#222" stroke-width="1" stroke-linejoin="round" stroke-linecap="round" />
<path d="M 217.19 730 L 219.53 740.16 L 221.56 740.16 L 221.88 732.34 M 235.16 737.03 L 235.94 748.75 L 245.31 752.19 L 246.09 740.62 M 239.06 738.12 L 239.38 750 M 246.88 745.62 L 248.44 753.44 L 253.12 755 L 256.25 742.5" fill="none" stroke="#222" stroke-width="1.1" stroke-linejoin="round" stroke-linecap="round" />
<path d="M 256.25 717.5 L 275 709.69 Q 287.5 703.44 292.19 697.19 M 256.25 731.56 L 275 722.19 L 275 709.69 M 275 722.19 L 284.38 726.88 L 294.53 720 M 262.5 740.94 L 263.28 748.75 M 272.66 728.44 L 273.44 742.5 L 275.78 741.72 L 275.78 726.88 M 278.12 728.44 L 284.38 737.81 M 282.81 737.03 L 287.5 740.16" fill="none" stroke="#222" stroke-width="1.1" stroke-linejoin="round" stroke-linecap="round" />
<polyline points="259.38,747.19 265.62,752.66" fill="none" stroke="#222" stroke-width="5" stroke-linecap="round" stroke-linejoin="round"/>
<polyline points="259.38,747.19 265.62,752.66" fill="none" stroke="#fff" stroke-width="3" stroke-linecap="round" stroke-linejoin="round"/>
<polyline points="282.81,737.03 288.28,740.16" fill="none" stroke="#222" stroke-width="5" stroke-linecap="round" stroke-linejoin="round"/>
<polyline points="282.81,737.03 288.28,740.16" fill="none" stroke="#fff" stroke-width="3" stroke-linecap="round" stroke-linejoin="round"/>
<path d="M 253.12 698.75 L 262.5 701.88 L 264.84 699.53 M 268.75 695.62 L 269.53 705 L 273.44 703.44 L 273.75 694.84 M 284.38 708.12 L 293.75 714.38 M 281.25 711.25 L 291.41 719.06 M 250 686.25 L 256.25 697.19 M 278.12 683.12 L 290.62 687.81" fill="none" stroke="#222" stroke-width="1.1" stroke-linejoin="round" stroke-linecap="round" />
<polyline points="278.91,696.41 313.28,716.72" fill="none" stroke="#222" stroke-width="0.8" stroke-linejoin="round" stroke-linecap="round"/>
<polyline points="257.03,740.94 295.31,762.03" fill="none" stroke="#222" stroke-width="0.8" stroke-linejoin="round" stroke-linecap="round"/>
<polyline points="317.03,668.59 331.88,660" fill="none" stroke="#222" stroke-width="0.8" stroke-linejoin="round" stroke-linecap="round"/>
<path d="M 336.56 574.06 Q 319.38 577.19 305.31 593.59 Q 300.62 606.88 302.19 622.5 Q 302.19 633.44 306.88 641.25 L 363.12 676.41 L 367.03 676.41 L 363.12 670.16 Q 363.91 663.12 370.16 655.31 Q 374.06 644.38 372.5 633.44 L 336.56 617.81 Q 335 611.56 341.25 602.19 Q 347.5 594.38 358.44 590.47 L 366.25 591.25 L 408.44 614.69 L 410.78 620.94 L 410 628.75 L 416.25 632.66 Q 419.69 635 418.59 641.25 L 415 649.38 L 341.25 613.91 L 339.69 607.66 L 338.91 613.91 L 372.5 633.44 L 336.56 617.81 L 372.5 633.44 Q 370.62 635 370.16 638.12 L 372.5 633.44 M 336.56 574.06 L 338.91 573.75 Q 347.5 575.62 364.69 588.12 L 366.25 591.25" fill="#fff" stroke="#222" stroke-width="1.3" stroke-linejoin="round" stroke-linecap="round" />
<path d="M 336.56 574.06 Q 319.38 577.19 305.31 593.59 Q 300.62 606.88 302.19 622.5" fill="none" stroke="#222" stroke-width="1.8" stroke-linejoin="round" stroke-linecap="round" />
<path d="M 332.66 613.12 Q 332.66 605.31 338.91 599.06 Q 346.72 591.25 357.66 588.44 L 364.69 588.44 M 335 614.69 Q 335.31 606.88 341.25 600.94 M 370.16 638.12 Q 371.72 647.5 367.81 655.31 Q 362.34 663.12 361.56 669.38 L 363.12 676.41" fill="none" stroke="#222" stroke-width="1" stroke-linejoin="round" stroke-linecap="round" />
<path d="M 313.12 587.34 L 336.56 597.5 M 305.31 602.97 L 333.44 612.34 M 336.56 575.62 L 352.19 585.78 M 319.06 603.75 Q 320.16 596.72 327.19 596.72 L 334.69 600.31 M 319.06 603.75 L 321.72 606.88" fill="none" stroke="#222" stroke-width="0.9" stroke-linejoin="round" stroke-linecap="round" />
<path d="M 302.97 617.81 L 318.59 628.75 L 320.16 633.44 M 306.88 624.84 Q 316.25 624.06 320.16 631.09 M 320.16 628.75 Q 331.88 625.62 358.44 633.44 L 370.62 635 M 320.16 633.44 L 366.25 654.53 M 305.31 636.56 L 362.34 671.72 M 304.53 634.22 L 361.88 669.38 M 306.88 641.25 L 363.12 676.41" fill="none" stroke="#222" stroke-width="0.9" stroke-linejoin="round" stroke-linecap="round" />
<path d="M 352.19 597.5 L 355.31 598.28 L 366.25 605.31 L 385 615.47 M 352.19 597.5 Q 349.84 605.31 356.88 611.56 L 410 638.12 M 366.25 602.97 Q 372.5 599.06 385 603.75 L 408.44 614.69 M 367.81 605.31 L 388.12 616.25 M 343.59 605.31 L 343.12 613.12 L 345.94 613.91 M 356.09 593.59 L 372.5 595.16 L 410 616.25" fill="none" stroke="#222" stroke-width="0.9" stroke-linejoin="round" stroke-linecap="round" />
<path d="M 350.62 596.25 L 354.53 597.19 M 372.5 595.16 L 376.41 596.72" fill="none" stroke="#222" stroke-width="2.2" stroke-linejoin="round" stroke-linecap="round" />
<path d="M 410 628.75 L 411.88 633.44 L 415.94 633.12" fill="none" stroke="#222" stroke-width="1.6" stroke-linejoin="round" stroke-linecap="round" />
<polyline points="335,708.44 318.59,717.34" fill="none" stroke="#222" stroke-width="0.8" stroke-linejoin="round" stroke-linecap="round"/>
<polyline points="351.41,717.81 338.12,725.62" fill="none" stroke="#222" stroke-width="0.8" stroke-linejoin="round" stroke-linecap="round"/>
<polyline points="362.81,731.41 347.5,740.78" fill="none" stroke="#222" stroke-width="0.8" stroke-linejoin="round" stroke-linecap="round"/>
<polyline points="369.84,750.16 369.84,760.31" fill="none" stroke="#222" stroke-width="0.8" stroke-linejoin="round" stroke-linecap="round"/>
<polyline points="354.53,772.03 354.53,784.53" fill="none" stroke="#222" stroke-width="0.8" stroke-linejoin="round" stroke-linecap="round"/>
<polyline points="369.84,780.62 369.84,791.56" fill="none" stroke="#222" stroke-width="0.8" stroke-linejoin="round" stroke-linecap="round"/>
<polyline points="306.88,801.25 320.94,793.12" fill="none" stroke="#222" stroke-width="0.8" stroke-linejoin="round" stroke-linecap="round"/>
<polyline points="335.78,813.44 335.78,822.81" fill="none" stroke="#222" stroke-width="0.8" stroke-linejoin="round" stroke-linecap="round"/>
<polyline points="385,797.81 385,808.75" fill="none" stroke="#222" stroke-width="0.8" stroke-linejoin="round" stroke-linecap="round"/>
<polyline points="402.97,783.75 402.97,802.5" fill="none" stroke="#222" stroke-width="0.8" stroke-linejoin="round" stroke-linecap="round"/>
<polyline points="417.03,797.81 417.03,815.78" fill="none" stroke="#222" stroke-width="0.8" stroke-linejoin="round" stroke-linecap="round"/>
<polyline points="327.19,763.12 329.06,761.88 329.06,736.09 332.66,735.31" fill="none" stroke="#222" stroke-width="0.8" stroke-linejoin="round" stroke-linecap="round"/>
<polyline points="325.31,802.19 344.06,791.56" fill="none" stroke="#222" stroke-width="0.8" stroke-linejoin="round" stroke-linecap="round"/>
<polyline points="342.03,796.25 342.03,802.81 361.09,814.22 361.09,820" fill="none" stroke="#222" stroke-width="0.8" stroke-linejoin="round" stroke-linecap="round"/>
<polyline points="318.59,761.09 327.97,765" fill="none" stroke="#222" stroke-width="0.8" stroke-linejoin="round" stroke-linecap="round"/>
<polyline points="314.69,775.16 336.56,786.88 343.59,791.56" fill="none" stroke="#222" stroke-width="0.8" stroke-linejoin="round" stroke-linecap="round"/>
<path d="M 296.25 728.36 L 315 717.42 L 322.81 718.2 L 323.98 720.94 L 324.38 760 L 322.81 761.72 L 319.69 767.97 L 309.53 775 L 300.16 770.31 L 296.25 766.41 Z" fill="#fff" stroke="#222" stroke-width="1.8" stroke-linejoin="round" stroke-linecap="round" />
<path d="M 300.55 730.47 L 318.12 720.55 L 321.64 721.72 L 322.19 756.88 L 319.69 758.83 M 300.55 730.47 L 300.78 768.2 L 309.53 772.89 L 318.91 766.25 M 296.25 728.36 L 300.55 730.47 M 315 717.42 L 318.12 720.55 M 321.64 721.72 L 323.98 720.94" fill="none" stroke="#222" stroke-width="1.4" stroke-linejoin="round" stroke-linecap="round" />
<ellipse cx="305.23" cy="748.05" rx="5.16" ry="5.62" transform="rotate(0 305.23 748.05)" fill="#fff" stroke="#222" stroke-width="2.2" />
<ellipse cx="305.39" cy="748.05" rx="3.12" ry="3.44" transform="rotate(0 305.39 748.05)" fill="none" stroke="#222" stroke-width="3.6" />
<ellipse cx="306.02" cy="748.05" rx="1.25" ry="1.09" transform="rotate(0 306.02 748.05)" fill="#fff" stroke="#222" stroke-width="1" />
<path d="M 302.89 731.09 L 303.28 742.81 M 305.62 731.09 L 305.62 735.78 M 308.36 729.53 L 308.59 735.78 L 311.09 734.61 L 311.09 728.75 M 311.88 735.78 L 320.86 732.27 L 321.09 743.2 L 312.27 746.33 Z M 312.27 749.06 L 320.86 745.94 L 321.25 752.19 L 313.44 754.92 Z M 302.5 755.31 L 302.89 766.25 L 306.8 768.2 L 306.8 757.66 Z M 308.36 756.88 L 308.75 763.91 L 313.44 765.86 L 316.95 763.12 L 316.95 757.66 M 309.53 753.75 L 317.73 750.62" fill="none" stroke="#222" stroke-width="1.8" stroke-linejoin="round" stroke-linecap="round" />
<path d="M 301.72 733.44 L 302.89 733.44 L 302.89 738.12 L 301.72 738.12 Z M 306.8 736.56 L 308.12 735.94 L 308.12 741.25 L 306.8 741.88 Z M 305.62 769.38 L 312.66 772.5 M 311.88 768.59 L 315.78 770.16 L 317.73 767.81 M 318.91 725.62 L 320.86 724.84 L 320.86 728.75 M 308.75 753.75 L 311.09 756.88 L 315 756.09 M 318.12 760 L 322.81 761.72" fill="none" stroke="#222" stroke-width="2.2" stroke-linejoin="round" stroke-linecap="round" />
<path d="M 312.66 736.95 L 320.08 734.06 L 320.31 742.03 L 312.81 745 Z" fill="#ddd" stroke="#222" stroke-width="0.5" stroke-linejoin="round" stroke-linecap="round" />
<ellipse cx="320.86" cy="720.55" rx="0.78" ry="0.78" transform="rotate(0 320.86 720.55)" fill="none" stroke="#222" stroke-width="1.2" />
<ellipse cx="322.42" cy="760.62" rx="0.7" ry="0.7" transform="rotate(0 322.42 760.62)" fill="none" stroke="#222" stroke-width="1.2" />
<ellipse cx="300.94" cy="769.22" rx="0.7" ry="0.7" transform="rotate(0 300.94 769.22)" fill="none" stroke="#222" stroke-width="1.2" />
<path d="M 295.31 756.09 L 295.31 760.78" fill="none" stroke="#222" stroke-width="2.2" stroke-linejoin="round" stroke-linecap="round" />
<line x1="335.01" y1="728.49" x2="329.06" y2="725.94" stroke="#333" stroke-width="3" stroke-linecap="round"/>
<line x1="333.82" y1="727.98" x2="329.06" y2="725.94" stroke="#fff" stroke-width="1.3" stroke-dasharray="0.7 1.0"/>
<polyline points="337.81,729.69 335.01,728.49" fill="none" stroke="#222" stroke-width="7.2" stroke-linecap="butt" stroke-linejoin="round"/>
<polyline points="337.81,729.69 335.01,728.49" fill="none" stroke="#fff" stroke-width="4.8" stroke-linecap="butt" stroke-linejoin="round"/>
<ellipse cx="337.81" cy="729.69" rx="1.74" ry="3" transform="rotate(-156.8 337.81 729.69)" fill="#fff" stroke="#222" stroke-width="1.1"/>
<ellipse cx="335.01" cy="728.49" rx="1.74" ry="3" transform="rotate(-156.8 335.01 728.49)" fill="none" stroke="#222" stroke-width="1.0"/>
<line x1="368.42" y1="764.09" x2="375.31" y2="767.81" stroke="#333" stroke-width="3" stroke-linecap="round"/>
<line x1="369.8" y1="764.84" x2="375.31" y2="767.81" stroke="#fff" stroke-width="1.3" stroke-dasharray="0.7 1.0"/>
<polyline points="365.47,762.5 368.42,764.09" fill="none" stroke="#222" stroke-width="6.8" stroke-linecap="butt" stroke-linejoin="round"/>
<polyline points="365.47,762.5 368.42,764.09" fill="none" stroke="#fff" stroke-width="4.4" stroke-linecap="butt" stroke-linejoin="round"/>
<ellipse cx="365.47" cy="762.5" rx="1.62" ry="2.8" transform="rotate(28.35 365.47 762.5)" fill="#fff" stroke="#222" stroke-width="1.1"/>
<ellipse cx="368.42" cy="764.09" rx="1.62" ry="2.8" transform="rotate(28.35 368.42 764.09)" fill="none" stroke="#222" stroke-width="1.0"/>
<line x1="368.91" y1="795.74" x2="363.59" y2="792.66" stroke="#333" stroke-width="3" stroke-linecap="round"/>
<line x1="367.84" y1="795.12" x2="363.59" y2="792.66" stroke="#fff" stroke-width="1.3" stroke-dasharray="0.7 1.0"/>
<polyline points="371.41,797.19 368.91,795.74" fill="none" stroke="#222" stroke-width="7.2" stroke-linecap="butt" stroke-linejoin="round"/>
<polyline points="371.41,797.19 368.91,795.74" fill="none" stroke="#fff" stroke-width="4.8" stroke-linecap="butt" stroke-linejoin="round"/>
<ellipse cx="371.41" cy="797.19" rx="1.74" ry="3" transform="rotate(-149.89 371.41 797.19)" fill="#fff" stroke="#222" stroke-width="1.1"/>
<ellipse cx="368.91" cy="795.74" rx="1.74" ry="3" transform="rotate(-149.89 368.91 795.74)" fill="none" stroke="#222" stroke-width="1.0"/>
<line x1="336.82" y1="809.12" x2="331.41" y2="805.94" stroke="#333" stroke-width="3" stroke-linecap="round"/>
<line x1="335.74" y1="808.49" x2="331.41" y2="805.94" stroke="#fff" stroke-width="1.3" stroke-dasharray="0.7 1.0"/>
<polyline points="339.38,810.62 336.82,809.12" fill="none" stroke="#222" stroke-width="7.2" stroke-linecap="butt" stroke-linejoin="round"/>
<polyline points="339.38,810.62 336.82,809.12" fill="none" stroke="#fff" stroke-width="4.8" stroke-linecap="butt" stroke-linejoin="round"/>
<ellipse cx="339.38" cy="810.62" rx="1.74" ry="3" transform="rotate(-149.53 339.38 810.62)" fill="#fff" stroke="#222" stroke-width="1.1"/>
<ellipse cx="336.82" cy="809.12" rx="1.74" ry="3" transform="rotate(-149.53 336.82 809.12)" fill="none" stroke="#222" stroke-width="1.0"/>
<path d="M 333.44 741.56 L 338.91 738.12 L 349.38 743.44 L 348.75 746.25 L 361.56 751.25 L 360.94 753.75 L 344.69 750.31 L 341.25 749.38 L 333.75 745 Z" fill="#fff" stroke="#222" stroke-width="1.3" stroke-linejoin="round" stroke-linecap="round" />
<path d="M 335.31 742.81 L 339.69 740.31 L 347.19 744.38 L 343.12 747.03 Z M 343.12 747.03 L 344.69 750.31 M 347.5 746.56 L 358.44 751.72 M 346.72 748.12 L 356.88 752.81" fill="none" stroke="#222" stroke-width="1.1" stroke-linejoin="round" stroke-linecap="round" />
<path d="M 346.72 793.12 Q 345.94 790 350.62 787.19 Q 355.31 784.06 358.75 785.62 Q 360.78 787.66 358.44 790.78 Q 354.53 794.69 349.06 796.56 Q 347.19 796.25 346.72 793.12 Z" fill="#fff" stroke="#222" stroke-width="1.3" stroke-linejoin="round" stroke-linecap="round" />
<path d="M 348.28 794.38 Q 347.5 791.25 351.88 788.44 Q 355.62 786.09 358.44 787.19" fill="none" stroke="#222" stroke-width="0.9" stroke-linejoin="round" stroke-linecap="round" />
<ellipse cx="356.88" cy="788.12" rx="0.62" ry="0.78" transform="rotate(0 356.88 788.12)" fill="none" stroke="#222" stroke-width="0.8" />
<path d="M 321.72 779.38 L 335 772.81 L 335 768.91 L 339.69 767.34 L 344.38 769.69 L 345.16 777.5 L 346.72 782.19 L 342.81 783.75 L 342.81 790 L 336.56 787.66 L 331.88 790.78 L 331.56 794.38 L 327.97 795.94 L 321.72 792.34 Z" fill="#fff" stroke="#222" stroke-width="1.3" stroke-linejoin="round" stroke-linecap="round" />
<path d="M 321.72 779.38 L 327.97 782.97 L 327.97 795.94 M 327.97 782.97 L 336.56 778.28 L 336.56 787.66 M 331.88 785.31 L 331.88 790.78 M 335 772.81 L 338.91 775.16 L 344.38 772.5 M 338.91 775.16 L 338.91 779.84 M 324.06 782.19 L 346.72 793.12" fill="none" stroke="#222" stroke-width="1.1" stroke-linejoin="round" stroke-linecap="round" />
<path d="M 335 778.28 L 339.69 776.72 L 341.25 780.62 L 336.56 783.75 Z M 339.69 774.38 L 343.59 775.16 L 345.16 779.84 L 341.25 780.62 M 338.12 783.75 L 343.59 785.31 L 344.06 788.44 M 340 782.19 L 345.94 781.41" fill="none" stroke="#222" stroke-width="1.6" stroke-linejoin="round" stroke-linecap="round" />
<ellipse cx="318.12" cy="783.75" rx="4.06" ry="2.5" transform="rotate(0 318.12 783.75)" fill="#fff" stroke="#222" stroke-width="1.5" />
<ellipse cx="322.5" cy="779.06" rx="2.81" ry="1.56" transform="rotate(0 322.5 779.06)" fill="#fff" stroke="#222" stroke-width="1.3" />
<ellipse cx="317.5" cy="784.06" rx="1.88" ry="1.09" transform="rotate(0 317.5 784.06)" fill="none" stroke="#222" stroke-width="1" />
<path d="M 381.88 761.09 L 390.47 756.41 L 397.81 758.75 L 398.75 768.12 Q 399.84 777.5 394.38 786.09 L 392.81 793.12 L 393.12 797.5 L 388.91 798.12 L 382.19 795 L 385 791.25 Q 378.75 783.75 378.75 774.38 Q 378.44 766.56 381.88 761.09 Z" fill="#fff" stroke="#222" stroke-width="1.4" stroke-linejoin="round" stroke-linecap="round" />
<path d="M 381.88 761.09 L 388.12 763.44 L 397.81 758.75 M 388.12 763.44 Q 385 771.25 385.78 779.06 Q 386.56 786.88 388.91 791.56 L 388.91 798.12 M 385 791.25 L 388.91 791.56 M 390.47 756.41 L 391.25 758.75 M 392.03 763.44 L 396.72 765 L 396.25 771.25 M 386.56 768.12 L 391.25 769.69 L 390.94 774.38 L 386.56 775.16 M 385 782.19 Q 391.25 777.5 396.25 771.25 M 392.81 793.12 L 389.38 791.25" fill="none" stroke="#222" stroke-width="1.1" stroke-linejoin="round" stroke-linecap="round" />
<path d="M 390 758.44 L 395.16 760 M 387.34 771.25 L 390 772.03 M 386.25 774.38 L 388.12 775.62" fill="none" stroke="#222" stroke-width="1.8" stroke-linejoin="round" stroke-linecap="round" />
<polyline points="401.88,779.06 404.38,780.62" fill="none" stroke="#444" stroke-width="3.6" stroke-linecap="round" stroke-linejoin="round"/>
<polyline points="401.88,779.06 404.38,780.62" fill="none" stroke="#fff" stroke-width="1.8" stroke-linecap="round" stroke-linejoin="round"/>
<path d="M 409.53 783.75 L 414.69 780.31 L 423.75 783.44 L 424.06 790.78 L 417.81 794.69 L 410 791.56 Z" fill="#fff" stroke="#222" stroke-width="1.3" stroke-linejoin="round" stroke-linecap="round" />
<path d="M 409.53 783.75 L 417.03 786.88 L 423.75 783.44 M 417.03 786.88 L 417.81 794.69 M 413.44 780.31 L 413.44 776.25 Q 415 774.38 416.56 776.25 L 417.03 780.94 M 413.12 793.12 L 413.44 797.03 L 415 797.03 L 415 793.91" fill="none" stroke="#222" stroke-width="1.1" stroke-linejoin="round" stroke-linecap="round" />
<path d="M 410.78 786.56 L 411.25 790" fill="none" stroke="#222" stroke-width="1.6" stroke-linejoin="round" stroke-linecap="round" />
<polyline points="202.34,758.12 223.44,771.41" fill="none" stroke="#222" stroke-width="0.8" stroke-linejoin="round" stroke-linecap="round"/>
<polyline points="202.34,790.16 210.94,795.62" fill="none" stroke="#222" stroke-width="0.8" stroke-linejoin="round" stroke-linecap="round"/>
<polyline points="202.34,806.56 221.88,817.5" fill="none" stroke="#222" stroke-width="0.8" stroke-linejoin="round" stroke-linecap="round"/>
<polyline points="289.84,814.38 275,806.56" fill="none" stroke="#222" stroke-width="0.8" stroke-linejoin="round" stroke-linecap="round"/>
<polyline points="307.03,801.09 321.09,792.5" fill="none" stroke="#222" stroke-width="0.8" stroke-linejoin="round" stroke-linecap="round"/>
<path d="M 275 765.62 L 285.16 760.47 L 287.81 764.38 L 277.34 770.94 Z" fill="#fff" stroke="#555" stroke-width="1" stroke-linejoin="round" stroke-linecap="round" />
<path d="M 275 765.62 L 275.31 769.84 L 277.81 773.75 L 277.34 770.94 M 277.81 773.75 L 287.81 767.81 L 287.81 764.38" fill="none" stroke="#555" stroke-width="1" stroke-linejoin="round" stroke-linecap="round" />
<path d="M 284.38 767.5 L 291.41 770.62 L 291.88 773.75 L 284.38 777.19 L 283.12 775.62" fill="none" stroke="#555" stroke-width="2" stroke-linejoin="round" stroke-linecap="round" />
<path d="M 284.38 767.5 L 291.41 770.62 L 291.88 773.75 L 284.38 777.19 L 283.12 775.62" fill="none" stroke="#fff" stroke-width="0.7" stroke-linejoin="round" stroke-linecap="round" />
<path d="M 220.62 780 Q 221.88 770.62 237.5 766.25 L 248.44 765.16 L 249.69 761.25 L 256.25 760.47 L 257.5 765.62 L 268.75 771.41 L 272.66 770.62 L 275 780 L 275 787.81 L 270.31 792.5 L 269.53 796.41 L 262.5 800.31 L 256.25 798.75 L 255.47 803.44 L 248.44 805 L 243.75 802.66 L 231.25 800.31 L 229.69 795.62 Q 221.09 789.38 220.62 780 Z" fill="#fff" stroke="#222" stroke-width="1.7" stroke-linejoin="round" stroke-linecap="round" />
<ellipse cx="246.09" cy="780" rx="9.06" ry="17.19" transform="rotate(90 246.09 780)" fill="#fff" stroke="#222" stroke-width="1.3" />
<path d="M 220.62 780 Q 226.56 792.5 248.44 794.06 Q 265.62 793.28 275 783.12" fill="none" stroke="#222" stroke-width="1" stroke-linejoin="round" stroke-linecap="round" />
<path d="M 229.38 781.56 Q 234.38 789.38 246.88 790.16 Q 259.38 789.38 263.28 781.56" fill="none" stroke="#222" stroke-width="1" stroke-linejoin="round" stroke-linecap="round" />
<ellipse cx="225.31" cy="780" rx="4.06" ry="2.81" transform="rotate(0 225.31 780)" fill="#fff" stroke="#222" stroke-width="1.6" />
<path d="M 225.31 776.09 L 228.12 777.66 L 228.12 784.69 L 225.31 784.06" fill="none" stroke="#222" stroke-width="1" stroke-linejoin="round" stroke-linecap="round" />
<path d="M 249.69 761.25 L 250.31 769.06 L 256.25 771.41 L 257.5 765.62 M 253.12 761.25 L 253.12 769.84 M 268.75 771.41 L 268.44 780 L 273.44 781.56 M 270.62 772.19 L 271.09 780 M 252.81 776.88 L 252.81 783.91 L 256.25 785.47 L 258.59 783.91 L 258.59 778.12 M 254.38 777.66 L 254.69 784.38 M 256.25 773.75 L 268.75 780 M 250.31 769.06 L 250 775.31 L 262.5 781.56 L 268.75 780" fill="none" stroke="#222" stroke-width="1.6" stroke-linejoin="round" stroke-linecap="round" />
<path d="M 237.5 787.81 L 237.5 794.84 L 243.75 796.41 L 246.88 794.84 L 246.88 789.38 M 240.62 787.81 L 240.62 795.31 M 248.44 796.41 L 248.44 801.09 L 254.69 800.31 L 255 795.62 M 229.69 795.62 L 233.59 800.31 L 236.72 797.97 L 231.25 794.84 M 260.16 795.62 L 262.5 800.31 M 264.06 793.28 L 268.75 796.41 M 267.19 791.72 L 271.09 794.06 M 259.38 792.5 L 275 786.25 M 234.38 798.75 L 243.75 801.09 M 268.75 789.38 L 275 790.16 M 271.88 792.5 L 275 789.38" fill="none" stroke="#222" stroke-width="1.7" stroke-linejoin="round" stroke-linecap="round" />
<ellipse cx="245.31" cy="766.72" rx="0.94" ry="1.56" transform="rotate(90 245.31 766.72)" fill="none" stroke="#222" stroke-width="1" />
<ellipse cx="250" cy="795.94" rx="1.09" ry="1.88" transform="rotate(90 250 795.94)" fill="none" stroke="#222" stroke-width="1" />
<path d="M 209.69 796.41 Q 208.59 794.06 211.72 792.81 L 217.19 790.62 L 219.06 792.81 L 213.28 795.94 L 213.28 798.75 L 210.62 800 Z" fill="#fff" stroke="#222" stroke-width="1.3" stroke-linejoin="round" stroke-linecap="round" />
<path d="M 213.28 803.44 L 223.44 797.97 L 226.25 799.53 L 226.25 803.44 L 215.94 808.91 L 213.28 807.34 Z M 213.28 803.44 L 215.94 805 L 226.25 799.53 M 215.94 805 L 215.94 808.91" fill="#fff" stroke="#222" stroke-width="1.3" stroke-linejoin="round" stroke-linecap="round" />
<path d="M 211.25 795.62 L 216.88 792.81" fill="none" stroke="#222" stroke-width="0.9" stroke-linejoin="round" stroke-linecap="round" />
<polyline points="271.88,801.09 271.88,807.34" fill="none" stroke="#222" stroke-width="3.6" stroke-linecap="butt" stroke-linejoin="round"/>
<polyline points="271.88,801.09 271.88,807.34" fill="none" stroke="#fff" stroke-width="1.8" stroke-linecap="butt" stroke-linejoin="round"/>
<path d="M 271.88 801.88 L 271.88 807.34" fill="none" stroke="#222" stroke-width="2.6" stroke-linejoin="round" stroke-linecap="round" stroke-dasharray="0.7 1"/>
<ellipse cx="271.88" cy="808.91" rx="1.25" ry="1.72" transform="rotate(90 271.88 808.91)" fill="#fff" stroke="#222" stroke-width="1.1" />
<ellipse cx="271.88" cy="800.31" rx="0.47" ry="0.94" transform="rotate(90 271.88 800.31)" fill="#fff" stroke="#222" stroke-width="0.9" />
<path d="M 217.38 828.12 L 217.58 835.94 Q 224.41 848.63 247.85 851.56 Q 272.27 848.63 278.61 835.94 L 278.61 828.12 Z" fill="#fff" stroke="#222" stroke-width="1.5" stroke-linejoin="round" stroke-linecap="round" />
<polyline points="278.61,833.98 278.35,836.47 277.57,838.91 276.27,841.27 274.49,843.51 272.26,845.58 269.6,847.45 266.58,849.09 263.23,850.48 259.62,851.58 255.81,852.38 251.87,852.86 247.85,853.03 243.84,852.86 239.89,852.38 236.08,851.58 232.47,850.48 229.13,849.09 226.1,847.45 223.45,845.58 221.21,843.51 219.43,841.27 218.14,838.91 217.35,836.47 217.09,833.98" fill="none" stroke="#222" stroke-width="1.1" stroke-linejoin="round" stroke-linecap="round"/>
<ellipse cx="247.85" cy="827.64" rx="19.53" ry="30.76" transform="rotate(90 247.85 827.64)" fill="#fff" stroke="#222" stroke-width="1.6" />
<ellipse cx="247.85" cy="828.12" rx="16.8" ry="27.83" transform="rotate(90 247.85 828.12)" fill="none" stroke="#222" stroke-width="1.1" />
<path d="M 230.27 823.73 Q 231.25 818.36 238.09 816.6 L 250.78 816.02 Q 258.59 817.38 264.45 822.75 Q 267.38 826.17 266.41 828.61 Q 264.45 833.01 258.59 834.18 L 245.9 835.16 Q 238.09 833.01 234.18 829.3 Q 230.47 827.15 230.27 823.73 Z" fill="none" stroke="#222" stroke-width="4.2" stroke-linejoin="round" stroke-linecap="round" />
<path d="M 230.27 823.73 Q 231.25 818.36 238.09 816.6 L 250.78 816.02 Q 258.59 817.38 264.45 822.75 Q 267.38 826.17 266.41 828.61 Q 264.45 833.01 258.59 834.18 L 245.9 835.16 Q 238.09 833.01 234.18 829.3 Q 230.47 827.15 230.27 823.73 Z" fill="none" stroke="#aaa" stroke-width="1.4" stroke-linejoin="round" stroke-linecap="round" />
<path d="M 233.69 828.12 Q 234.18 824.22 239.06 822.75 L 250.78 821.78 Q 258.59 823.24 262.5 828.12" fill="none" stroke="#222" stroke-width="1.1" stroke-linejoin="round" stroke-linecap="round" />
<path d="M 223.44 820.31 L 223.44 826.17" fill="none" stroke="#222" stroke-width="2.6" stroke-linejoin="round" stroke-linecap="round" />
<path d="M 223.44 820.61 L 223.44 825.88" fill="none" stroke="#fff" stroke-width="0.9" stroke-linejoin="round" stroke-linecap="round" />
<path d="M 245.9 808.11 L 245.9 813.96" fill="none" stroke="#222" stroke-width="2.6" stroke-linejoin="round" stroke-linecap="round" />
<path d="M 245.9 808.4 L 245.9 813.67" fill="none" stroke="#fff" stroke-width="0.9" stroke-linejoin="round" stroke-linecap="round" />
<path d="M 262.5 812.5 L 262.5 818.36" fill="none" stroke="#222" stroke-width="2.6" stroke-linejoin="round" stroke-linecap="round" />
<path d="M 262.5 812.79 L 262.5 818.07" fill="none" stroke="#fff" stroke-width="0.9" stroke-linejoin="round" stroke-linecap="round" />
<path d="M 272.27 822.75 L 272.27 829.59" fill="none" stroke="#222" stroke-width="2.6" stroke-linejoin="round" stroke-linecap="round" />
<path d="M 272.27 823.05 L 272.27 829.3" fill="none" stroke="#fff" stroke-width="0.9" stroke-linejoin="round" stroke-linecap="round" />
<path d="M 233.69 833.01 L 233.69 838.87" fill="none" stroke="#222" stroke-width="2.6" stroke-linejoin="round" stroke-linecap="round" />
<path d="M 233.69 833.3 L 233.69 838.57" fill="none" stroke="#fff" stroke-width="0.9" stroke-linejoin="round" stroke-linecap="round" />
<path d="M 249.32 835.94 L 249.32 841.8" fill="none" stroke="#222" stroke-width="2.6" stroke-linejoin="round" stroke-linecap="round" />
<path d="M 249.32 836.23 L 249.32 841.5" fill="none" stroke="#fff" stroke-width="0.9" stroke-linejoin="round" stroke-linecap="round" />
<path d="M 223.44 824.22 L 231.25 825.2 M 245.9 812.5 L 245.9 816.41 M 262.5 817.38 L 259.57 820.31 M 272.27 828.12 L 266.41 828.12 M 233.69 835.94 L 239.06 833.01 M 249.32 837.89 L 249.32 834.96 M 219.53 830.08 L 229.3 828.12 M 267.38 832.03 L 277.15 831.05 M 254.69 834.96 L 258.59 841.8 M 239.06 833.98 L 237.11 840.82 M 263.48 833.98 L 268.36 837.89" fill="none" stroke="#222" stroke-width="1.3" stroke-linejoin="round" stroke-linecap="round" />
<path d="M 229.3 831.05 L 232.23 835.94 L 241.02 837.89 M 254.69 837.89 L 262.5 835.94 L 267.38 832.03 M 268.36 818.36 L 274.22 822.27" fill="none" stroke="#222" stroke-width="1.1" stroke-linejoin="round" stroke-linecap="round" />
<polyline points="202.34,850.94 225,863.44" fill="none" stroke="#222" stroke-width="0.8" stroke-linejoin="round" stroke-linecap="round"/>
<polyline points="202.34,870.47 243.75,893.91" fill="none" stroke="#222" stroke-width="0.8" stroke-linejoin="round" stroke-linecap="round"/>
<polyline points="202.34,882.19 244.53,904.84" fill="none" stroke="#222" stroke-width="0.8" stroke-linejoin="round" stroke-linecap="round"/>
<polyline points="202.34,910.31 215.62,917.81" fill="none" stroke="#222" stroke-width="0.8" stroke-linejoin="round" stroke-linecap="round"/>
<polyline points="303.12,977.5 285.16,987.66" fill="none" stroke="#222" stroke-width="0.8" stroke-linejoin="round" stroke-linecap="round"/>
<ellipse cx="248.44" cy="871.25" rx="15.94" ry="25" transform="rotate(90 248.44 871.25)" fill="#fff" stroke="#222" stroke-width="1.2" />
<path d="M 262.19 869.38 L 272.95 873.12" fill="none" stroke="#222" stroke-width="1.2" stroke-linejoin="round" stroke-linecap="round" />
<path d="M 262 870.56 L 272.12 875.64" fill="none" stroke="#222" stroke-width="1.2" stroke-linejoin="round" stroke-linecap="round" />
<path d="M 261.44 871.7 L 270.66 878.06" fill="none" stroke="#222" stroke-width="1.2" stroke-linejoin="round" stroke-linecap="round" />
<path d="M 260.53 872.8 L 268.59 880.28" fill="none" stroke="#222" stroke-width="1.2" stroke-linejoin="round" stroke-linecap="round" />
<path d="M 259.28 873.8 L 265.97 882.25" fill="none" stroke="#222" stroke-width="1.2" stroke-linejoin="round" stroke-linecap="round" />
<path d="M 257.75 874.66 L 262.86 883.94" fill="none" stroke="#222" stroke-width="1.2" stroke-linejoin="round" stroke-linecap="round" />
<path d="M 255.95 875.39 L 259.38 885.27" fill="none" stroke="#222" stroke-width="1.2" stroke-linejoin="round" stroke-linecap="round" />
<path d="M 253.95 875.95 L 255.58 886.2" fill="none" stroke="#222" stroke-width="1.2" stroke-linejoin="round" stroke-linecap="round" />
<path d="M 251.81 876.34 L 251.59 886.75" fill="none" stroke="#222" stroke-width="1.2" stroke-linejoin="round" stroke-linecap="round" />
<path d="M 249.58 876.53 L 247.52 886.86" fill="none" stroke="#222" stroke-width="1.2" stroke-linejoin="round" stroke-linecap="round" />
<path d="M 247.3 876.53 L 243.47 886.56" fill="none" stroke="#222" stroke-width="1.2" stroke-linejoin="round" stroke-linecap="round" />
<path d="M 245.06 876.34 L 239.56 885.83" fill="none" stroke="#222" stroke-width="1.2" stroke-linejoin="round" stroke-linecap="round" />
<path d="M 242.92 875.95 L 235.89 884.7" fill="none" stroke="#222" stroke-width="1.2" stroke-linejoin="round" stroke-linecap="round" />
<path d="M 240.92 875.39 L 232.56 883.22" fill="none" stroke="#222" stroke-width="1.2" stroke-linejoin="round" stroke-linecap="round" />
<path d="M 239.12 874.66 L 229.66 881.39" fill="none" stroke="#222" stroke-width="1.2" stroke-linejoin="round" stroke-linecap="round" />
<path d="M 237.59 873.8 L 227.28 879.3" fill="none" stroke="#222" stroke-width="1.2" stroke-linejoin="round" stroke-linecap="round" />
<path d="M 236.34 872.8 L 225.47 876.98" fill="none" stroke="#222" stroke-width="1.2" stroke-linejoin="round" stroke-linecap="round" />
<path d="M 235.44 871.7 L 224.3 874.52" fill="none" stroke="#222" stroke-width="1.2" stroke-linejoin="round" stroke-linecap="round" />
<path d="M 234.88 870.56 L 223.78 871.95" fill="none" stroke="#222" stroke-width="1.2" stroke-linejoin="round" stroke-linecap="round" />
<path d="M 234.69 869.38 L 223.92 869.38" fill="none" stroke="#222" stroke-width="1.2" stroke-linejoin="round" stroke-linecap="round" />
<path d="M 234.88 868.19 L 224.75 866.86" fill="none" stroke="#222" stroke-width="1.2" stroke-linejoin="round" stroke-linecap="round" />
<path d="M 235.44 867.05 L 226.22 864.44" fill="none" stroke="#222" stroke-width="1.2" stroke-linejoin="round" stroke-linecap="round" />
<path d="M 236.34 865.95 L 228.28 862.22" fill="none" stroke="#222" stroke-width="1.2" stroke-linejoin="round" stroke-linecap="round" />
<path d="M 237.59 864.95 L 230.91 860.25" fill="none" stroke="#222" stroke-width="1.2" stroke-linejoin="round" stroke-linecap="round" />
<path d="M 239.12 864.09 L 234.02 858.56" fill="none" stroke="#222" stroke-width="1.2" stroke-linejoin="round" stroke-linecap="round" />
<path d="M 240.92 863.36 L 237.5 857.23" fill="none" stroke="#222" stroke-width="1.2" stroke-linejoin="round" stroke-linecap="round" />
<path d="M 242.92 862.8 L 241.3 856.3" fill="none" stroke="#222" stroke-width="1.2" stroke-linejoin="round" stroke-linecap="round" />
<path d="M 245.06 862.41 L 245.28 855.75" fill="none" stroke="#222" stroke-width="1.2" stroke-linejoin="round" stroke-linecap="round" />
<path d="M 247.3 862.22 L 249.36 855.64" fill="none" stroke="#222" stroke-width="1.2" stroke-linejoin="round" stroke-linecap="round" />
<path d="M 249.58 862.22 L 253.41 855.94" fill="none" stroke="#222" stroke-width="1.2" stroke-linejoin="round" stroke-linecap="round" />
<path d="M 251.81 862.41 L 257.31 856.67" fill="none" stroke="#222" stroke-width="1.2" stroke-linejoin="round" stroke-linecap="round" />
<path d="M 253.95 862.8 L 260.98 857.8" fill="none" stroke="#222" stroke-width="1.2" stroke-linejoin="round" stroke-linecap="round" />
<path d="M 255.95 863.36 L 264.31 859.28" fill="none" stroke="#222" stroke-width="1.2" stroke-linejoin="round" stroke-linecap="round" />
<path d="M 257.75 864.09 L 267.22 861.11" fill="none" stroke="#222" stroke-width="1.2" stroke-linejoin="round" stroke-linecap="round" />
<path d="M 259.28 864.95 L 269.59 863.2" fill="none" stroke="#222" stroke-width="1.2" stroke-linejoin="round" stroke-linecap="round" />
<path d="M 260.53 865.95 L 271.41 865.52" fill="none" stroke="#222" stroke-width="1.2" stroke-linejoin="round" stroke-linecap="round" />
<path d="M 261.44 867.05 L 272.58 867.98" fill="none" stroke="#222" stroke-width="1.2" stroke-linejoin="round" stroke-linecap="round" />
<path d="M 262 868.19 L 273.09 870.55" fill="none" stroke="#222" stroke-width="1.2" stroke-linejoin="round" stroke-linecap="round" />
<path d="M 257.5 869.06 L 262.06 871.23" fill="none" stroke="#222" stroke-width="0.7" stroke-linejoin="round" stroke-linecap="round" />
<path d="M 257.14 870.47 L 260.53 873.2" fill="none" stroke="#222" stroke-width="0.7" stroke-linejoin="round" stroke-linecap="round" />
<path d="M 256.06 871.77 L 258.02 874.86" fill="none" stroke="#222" stroke-width="0.7" stroke-linejoin="round" stroke-linecap="round" />
<path d="M 254.38 872.84 L 254.73 876.08" fill="none" stroke="#222" stroke-width="0.7" stroke-linejoin="round" stroke-linecap="round" />
<path d="M 252.2 873.61 L 250.94 876.75" fill="none" stroke="#222" stroke-width="0.7" stroke-linejoin="round" stroke-linecap="round" />
<path d="M 249.73 874.02 L 246.94 876.83" fill="none" stroke="#222" stroke-width="0.7" stroke-linejoin="round" stroke-linecap="round" />
<path d="M 247.14 874.02 L 243.06 876.3" fill="none" stroke="#222" stroke-width="0.7" stroke-linejoin="round" stroke-linecap="round" />
<path d="M 244.67 873.61 L 239.61 875.22" fill="none" stroke="#222" stroke-width="0.7" stroke-linejoin="round" stroke-linecap="round" />
<path d="M 242.5 872.84 L 236.89 873.66" fill="none" stroke="#222" stroke-width="0.7" stroke-linejoin="round" stroke-linecap="round" />
<path d="M 240.81 871.77 L 235.09 871.75" fill="none" stroke="#222" stroke-width="0.7" stroke-linejoin="round" stroke-linecap="round" />
<path d="M 239.73 870.47 L 234.39 869.64" fill="none" stroke="#222" stroke-width="0.7" stroke-linejoin="round" stroke-linecap="round" />
<path d="M 239.38 869.06 L 234.81 867.52" fill="none" stroke="#222" stroke-width="0.7" stroke-linejoin="round" stroke-linecap="round" />
<path d="M 239.73 867.66 L 236.34 865.55" fill="none" stroke="#222" stroke-width="0.7" stroke-linejoin="round" stroke-linecap="round" />
<path d="M 240.81 866.36 L 238.86 863.89" fill="none" stroke="#222" stroke-width="0.7" stroke-linejoin="round" stroke-linecap="round" />
<path d="M 242.5 865.28 L 242.14 862.67" fill="none" stroke="#222" stroke-width="0.7" stroke-linejoin="round" stroke-linecap="round" />
<path d="M 244.67 864.52 L 245.94 862" fill="none" stroke="#222" stroke-width="0.7" stroke-linejoin="round" stroke-linecap="round" />
<path d="M 247.14 864.11 L 249.94 861.92" fill="none" stroke="#222" stroke-width="0.7" stroke-linejoin="round" stroke-linecap="round" />
<path d="M 249.73 864.11 L 253.81 862.45" fill="none" stroke="#222" stroke-width="0.7" stroke-linejoin="round" stroke-linecap="round" />
<path d="M 252.2 864.52 L 257.27 863.53" fill="none" stroke="#222" stroke-width="0.7" stroke-linejoin="round" stroke-linecap="round" />
<path d="M 254.38 865.28 L 259.98 865.09" fill="none" stroke="#222" stroke-width="0.7" stroke-linejoin="round" stroke-linecap="round" />
<path d="M 256.06 866.36 L 261.78 867" fill="none" stroke="#222" stroke-width="0.7" stroke-linejoin="round" stroke-linecap="round" />
<path d="M 257.14 867.66 L 262.48 869.11" fill="none" stroke="#222" stroke-width="0.7" stroke-linejoin="round" stroke-linecap="round" />
<ellipse cx="248.44" cy="869.06" rx="4.69" ry="8.75" transform="rotate(90 248.44 869.06)" fill="#fff" stroke="#222" stroke-width="1.2" />
<path d="M 242.97 854.38 L 243.28 859.53" fill="none" stroke="#222" stroke-width="1.2" stroke-linejoin="round" stroke-linecap="round" />
<path d="M 244.38 854.38 L 244.53 859.53" fill="none" stroke="#222" stroke-width="1.2" stroke-linejoin="round" stroke-linecap="round" />
<path d="M 245.78 854.38 L 245.78 859.53" fill="none" stroke="#222" stroke-width="1.2" stroke-linejoin="round" stroke-linecap="round" />
<path d="M 247.19 854.38 L 247.03 859.53" fill="none" stroke="#222" stroke-width="1.2" stroke-linejoin="round" stroke-linecap="round" />
<path d="M 248.59 854.38 L 248.28 859.53" fill="none" stroke="#222" stroke-width="1.2" stroke-linejoin="round" stroke-linecap="round" />
<path d="M 250 854.38 L 249.53 859.53" fill="none" stroke="#222" stroke-width="1.2" stroke-linejoin="round" stroke-linecap="round" />
<path d="M 251.41 854.38 L 250.78 859.53" fill="none" stroke="#222" stroke-width="1.2" stroke-linejoin="round" stroke-linecap="round" />
<path d="M 252.81 854.38 L 252.03 859.53" fill="none" stroke="#222" stroke-width="1.2" stroke-linejoin="round" stroke-linecap="round" />
<path d="M 254.22 854.38 L 253.28 859.53" fill="none" stroke="#222" stroke-width="1.2" stroke-linejoin="round" stroke-linecap="round" />
<ellipse cx="248.44" cy="895.31" rx="2.97" ry="5" transform="rotate(90 248.44 895.31)" fill="#999" stroke="#222" stroke-width="1.4" />
<ellipse cx="248.44" cy="895" rx="1.25" ry="2.5" transform="rotate(90 248.44 895)" fill="#fff" stroke="#222" stroke-width="1.2" />
<path d="M 243.75 904.06 L 243.75 907.19 A 4.69 2.66 0 0 0 253.12 907.19 L 253.12 904.06 Z" fill="#fff" stroke="#222" stroke-width="1.3" stroke-linejoin="round" stroke-linecap="round" />
<ellipse cx="248.44" cy="904.06" rx="2.66" ry="4.69" transform="rotate(90 248.44 904.06)" fill="#fff" stroke="#222" stroke-width="1.3" />
<ellipse cx="248.44" cy="904.06" rx="1.25" ry="2.5" transform="rotate(90 248.44 904.06)" fill="none" stroke="#222" stroke-width="1.1" />
<path d="M 245.62 905.62 L 245.62 908.75 M 251.25 905.62 L 251.25 908.75" fill="none" stroke="#222" stroke-width="0.9" stroke-linejoin="round" stroke-linecap="round" />
<path d="M 207.03 933.75 Q 208.59 921.25 226.56 914.22 Q 245.31 910.31 262.5 915 Q 281.25 921.25 294.53 935.31 L 295.31 940 L 290.62 958.75 L 282.81 965 L 286.72 974.38 L 281.25 977.5 L 275 980.62 L 272.66 984.53 L 256.25 982.19 L 253.12 981.41 Q 221.88 977.5 211.72 963.44 Q 207.03 949.38 207.03 933.75 Z" fill="#fff" stroke="#222" stroke-width="1.4" stroke-linejoin="round" stroke-linecap="round" />
<path d="M 207.03 933.75 Q 215.62 947.81 237.5 957.19 L 251.88 961.88 L 253.12 981.41 M 209.69 931.41 Q 218.75 946.25 239.06 954.84 L 251.88 959.53" fill="none" stroke="#222" stroke-width="1.3" stroke-linejoin="round" stroke-linecap="round" />
<path d="M 212.5 925.16 L 221.09 927.5 L 221.56 946.25 M 212.5 925.16 L 212.81 940 M 226.56 915 L 226.88 933.75 L 233.12 935.62 L 233.59 919.69 L 228.12 916.56 M 260.94 922.03 L 261.25 937.66 M 260.94 922.03 L 266.41 920.47 L 278.44 929.06 L 278.91 949.38 M 266.41 920.47 L 266.88 922.81 L 277.34 930.62 M 275 929.84 L 275 947.81 M 294.53 935.31 L 291.41 940 L 290.62 958.75 M 287.5 933.75 L 287.19 940" fill="none" stroke="#222" stroke-width="1.2" stroke-linejoin="round" stroke-linecap="round" />
<path d="M 212.19 949.38 L 236.72 962.19 Q 238.75 965 236.25 965.78 L 212.5 952.81 Q 210.94 951.25 212.19 949.38 Z" fill="none" stroke="#222" stroke-width="1.2" stroke-linejoin="round" stroke-linecap="round" />
<path d="M 221.88 944.69 Q 229.69 936.88 248.44 935.31 Q 262.5 935.62 275 943.12 M 226.56 947.81 Q 237.5 941.56 250 941.56 Q 265.62 943.12 274.22 954.84 M 230.47 950.16 Q 240.62 945 251.56 945.47 Q 264.06 947.81 270.31 957.19 Q 271.88 963.44 262.5 968.91 L 253.91 969.69 M 240.62 955.62 Q 253.12 952.5 260.16 958.75 Q 262.5 965 254.69 968.12" fill="none" stroke="#222" stroke-width="1.1" stroke-linejoin="round" stroke-linecap="round" />
<path d="M 228.75 954.2 L 230.31 952.02" fill="none" stroke="#222" stroke-width="2" stroke-linejoin="round" stroke-linecap="round" />
<path d="M 231.34 951.33 L 232.91 949.14" fill="none" stroke="#222" stroke-width="2" stroke-linejoin="round" stroke-linecap="round" />
<path d="M 235.09 948.88 L 236.66 946.69" fill="none" stroke="#222" stroke-width="2" stroke-linejoin="round" stroke-linecap="round" />
<path d="M 239.78 947.02 L 241.34 944.83" fill="none" stroke="#222" stroke-width="2" stroke-linejoin="round" stroke-linecap="round" />
<path d="M 245.11 945.86 L 246.67 943.67" fill="none" stroke="#222" stroke-width="2" stroke-linejoin="round" stroke-linecap="round" />
<path d="M 250.78 945.47 L 252.34 943.28" fill="none" stroke="#222" stroke-width="2" stroke-linejoin="round" stroke-linecap="round" />
<path d="M 256.45 945.86 L 258.02 943.67" fill="none" stroke="#222" stroke-width="2" stroke-linejoin="round" stroke-linecap="round" />
<path d="M 261.78 947.02 L 263.34 944.83" fill="none" stroke="#222" stroke-width="2" stroke-linejoin="round" stroke-linecap="round" />
<path d="M 266.47 948.88 L 268.03 946.69" fill="none" stroke="#222" stroke-width="2" stroke-linejoin="round" stroke-linecap="round" />
<path d="M 270.22 951.33 L 271.78 949.14" fill="none" stroke="#222" stroke-width="2" stroke-linejoin="round" stroke-linecap="round" />
<path d="M 272.81 954.2 L 274.38 952.02" fill="none" stroke="#222" stroke-width="2" stroke-linejoin="round" stroke-linecap="round" />
<path d="M 274.09 957.36 L 275.66 955.17" fill="none" stroke="#222" stroke-width="2" stroke-linejoin="round" stroke-linecap="round" />
<path d="M 279.38 951.72 L 279.38 958.75 A 3.44 1.88 0 0 0 286.25 958.75 L 286.25 951.72 Z" fill="#fff" stroke="#222" stroke-width="1.2" stroke-linejoin="round" stroke-linecap="round" />
<ellipse cx="282.81" cy="951.72" rx="1.88" ry="3.44" transform="rotate(90 282.81 951.72)" fill="#fff" stroke="#222" stroke-width="1.2" />
<path d="M 222.03 936.09 L 222.03 940 A 2.19 1.25 0 0 0 226.41 940 L 226.41 936.09 Z" fill="#fff" stroke="#222" stroke-width="1.1" stroke-linejoin="round" stroke-linecap="round" />
<ellipse cx="224.22" cy="936.09" rx="1.25" ry="2.19" transform="rotate(90 224.22 936.09)" fill="#fff" stroke="#222" stroke-width="1.1" />
<path d="M 276.56 963.44 L 282.81 965 M 262.5 977.5 L 275 975.94 L 282.81 969.69 M 256.25 979.06 L 268.75 980.62 L 275 980.62 M 270.31 981.41 L 272.66 984.53" fill="none" stroke="#222" stroke-width="1.2" stroke-linejoin="round" stroke-linecap="round" />
<polyline points="282.5,982.5 282.5,992.34" fill="none" stroke="#222" stroke-width="3.6" stroke-linecap="butt" stroke-linejoin="round"/>
<polyline points="282.5,982.5 282.5,992.34" fill="none" stroke="#fff" stroke-width="1.8" stroke-linecap="butt" stroke-linejoin="round"/>
<path d="M 282.5 983.44 L 282.5 992.34" fill="none" stroke="#222" stroke-width="2.6" stroke-linejoin="round" stroke-linecap="round" stroke-dasharray="0.7 1"/>
<ellipse cx="282.5" cy="993.91" rx="1.41" ry="2.19" transform="rotate(90 282.5 993.91)" fill="#fff" stroke="#222" stroke-width="1.2" />
<ellipse cx="282.5" cy="981.88" rx="0.47" ry="0.94" transform="rotate(90 282.5 981.88)" fill="#fff" stroke="#222" stroke-width="0.9" />
<polyline points="385,869.25 367.5,859.25" fill="none" stroke="#222" stroke-width="0.8" stroke-linejoin="round" stroke-linecap="round"/>
<polyline points="385,928 365,916.75" fill="none" stroke="#222" stroke-width="0.8" stroke-linejoin="round" stroke-linecap="round"/>
<path d="M 354.5 833.5 L 357 843 L 356.25 889.25 Q 361.25 893 366.25 889.25 L 365.5 843 L 368.75 833.5 Z" fill="#fff" stroke="#222" stroke-width="1.2" stroke-linejoin="round" stroke-linecap="round" />
<path d="M 352.5 829.25 L 353 833.5 Q 361.25 839.25 370 833.5 L 370.5 829.25" fill="#fff" stroke="#222" stroke-width="1.2" stroke-linejoin="round" stroke-linecap="round" />
<ellipse cx="361.5" cy="829" rx="4.5" ry="9" transform="rotate(90 361.5 829)" fill="#fff" stroke="#222" stroke-width="1.2" />
<ellipse cx="361.5" cy="829" rx="2" ry="4" transform="rotate(90 361.5 829)" fill="none" stroke="#222" stroke-width="1" />
<path d="M 357 853 Q 361.25 855.5 365.5 853" fill="none" stroke="#222" stroke-width="0.9" stroke-linejoin="round" stroke-linecap="round" />
<polyline points="366.75,888 366.7,888.29 366.56,888.58 366.33,888.86 366.01,889.12 365.61,889.37 365.14,889.59 364.6,889.79 364,889.95 363.35,890.08 362.67,890.17 361.97,890.23 361.25,890.25 360.53,890.23 359.83,890.17 359.15,890.08 358.5,889.95 357.9,889.79 357.36,889.59 356.89,889.37 356.49,889.12 356.17,888.86 355.94,888.58 355.8,888.29 355.75,888" fill="none" stroke="#222" stroke-width="0.9" stroke-linejoin="round" stroke-linecap="round"/>
<path d="M 358.75 906.75 L 358.75 928 L 364.5 928 L 364.5 906.75 Z" fill="#fff" stroke="#222" stroke-width="1.2" stroke-linejoin="round" stroke-linecap="round" />
<path d="M 360 908 L 360 926.75" fill="none" stroke="#222" stroke-width="0.8" stroke-linejoin="round" stroke-linecap="round" />
<path d="M 359.5 900 L 361.25 905.5 L 363.25 900" fill="none" stroke="#222" stroke-width="1.2" stroke-linejoin="round" stroke-linecap="round" />
<polyline points="472.5,868 487.5,859.5" fill="none" stroke="#222" stroke-width="0.8" stroke-linejoin="round" stroke-linecap="round"/>
<path d="M 487.5 851.25 L 491.25 848.75 L 498.75 852 L 501.25 855.5 L 498.75 858 L 501.25 860 L 496.25 862 L 490 859.5 L 487 860 L 487.5 855.5 Z" fill="#fff" stroke="#222" stroke-width="1.3" stroke-linejoin="round" stroke-linecap="round" />
<path d="M 487.5 855.5 L 493.75 853 L 498.75 858 M 491.25 848.75 L 492 853 M 490 859.5 L 496.25 857.5" fill="none" stroke="#222" stroke-width="1" stroke-linejoin="round" stroke-linecap="round" />
<polyline points="463.28,788.28 463.28,800.78" fill="none" stroke="#222" stroke-width="0.8" stroke-linejoin="round" stroke-linecap="round"/>
<polyline points="450.31,802.34 450.31,814.06" fill="none" stroke="#222" stroke-width="0.8" stroke-linejoin="round" stroke-linecap="round"/>
<polyline points="529.38,753.44 529.38,765.62" fill="none" stroke="#222" stroke-width="0.8" stroke-linejoin="round" stroke-linecap="round"/>
<path d="M 427.34 787.5 L 450 773.44 L 453.91 771.09 L 458.59 773.44 L 467.97 782.03 L 468.75 785.16 L 464.06 788.28 L 458.59 785.16 L 440.62 795.31 L 435.94 795.62 L 428.12 790.94 Z" fill="#fff" stroke="#222" stroke-width="1.3" stroke-linejoin="round" stroke-linecap="round" />
<path d="M 435.94 783.59 L 443.75 788.75 L 458.59 780.47 L 450 773.44 M 443.75 788.75 L 440.62 795.31 M 431.25 786.25 L 439.84 791.88 M 458.59 780.47 L 458.59 785.16 M 448.44 775.78 L 460.16 783.59" fill="none" stroke="#222" stroke-width="1.1" stroke-linejoin="round" stroke-linecap="round" />
<ellipse cx="445" cy="782.03" rx="1.25" ry="1.41" transform="rotate(0 445 782.03)" fill="none" stroke="#222" stroke-width="1" />
<ellipse cx="457.81" cy="781.25" rx="0.94" ry="1.09" transform="rotate(0 457.81 781.25)" fill="none" stroke="#222" stroke-width="1" />
<path d="M 430.47 789.84 L 433.59 791.41 M 435.94 791.88 L 437.5 792.97" fill="none" stroke="#222" stroke-width="1.6" stroke-linejoin="round" stroke-linecap="round" />
<path d="M 441.41 801.25 L 448.44 797.66 L 453.91 798.75 L 450 802.34 L 444.53 803.91 Z" fill="#fff" stroke="#222" stroke-width="1.2" stroke-linejoin="round" stroke-linecap="round" />
<path d="M 444.53 801.56 L 450 799.69 L 450 802.34" fill="none" stroke="#222" stroke-width="1" stroke-linejoin="round" stroke-linecap="round" />
<path d="M 483.59 783.12 Q 503.12 787.5 518.75 780 L 525 776.56 L 521.09 775.31 L 520.31 761.25 L 525 764.06 L 566.41 797.66 L 569.06 803.12 L 570.62 825 L 572.66 850 L 573.44 886.25 L 567.5 892.5 L 550 907.5 L 542.5 912.5 L 525 912.97 L 517.5 910 L 507.5 909.53 L 505.47 897.5 L 506.56 887.5 L 510.16 881.25 L 514.84 875 L 512.5 870.31 Q 506.25 859.38 500 847.66 Q 490.62 835.16 476.56 825 L 473.12 818.75 Q 478.91 806.25 481.25 795.31 Z" fill="#fff" stroke="#222" stroke-width="1.4" stroke-linejoin="round" stroke-linecap="round" />
<path d="M 520.31 761.25 L 522.66 773.44 L 528.12 771.88 L 525 764.06 M 522.66 773.44 L 521.09 775.31 M 528.12 771.88 L 553.12 803.12 M 525 776.56 Q 531.25 789.06 551.56 804.69" fill="none" stroke="#222" stroke-width="1.1" stroke-linejoin="round" stroke-linecap="round" />
<path d="M 483.12 789.06 L 518.75 801.56 M 506.25 785.62 L 512.5 788.28 M 503.12 786.72 L 521.09 791.41 L 551.56 805" fill="none" stroke="#222" stroke-width="1" stroke-linejoin="round" stroke-linecap="round" />
<path d="M 484.38 804.69 Q 498.44 809.38 499.22 821.88 Q 498.44 829.69 490.62 831.25 M 475 818.75 L 485.16 824.22 L 485.62 826.25 L 476.56 821.56 Z" fill="none" stroke="#222" stroke-width="1.1" stroke-linejoin="round" stroke-linecap="round" />
<path d="M 514.38 822.34 L 525 820.62" fill="none" stroke="#222" stroke-width="1.8" stroke-linejoin="round" stroke-linecap="round" />
<path d="M 514.84 825 L 525.31 823.28" fill="none" stroke="#222" stroke-width="1.8" stroke-linejoin="round" stroke-linecap="round" />
<path d="M 515.31 827.66 L 525.62 825.94" fill="none" stroke="#222" stroke-width="1.8" stroke-linejoin="round" stroke-linecap="round" />
<path d="M 515.78 830.31 L 525.94 828.59" fill="none" stroke="#222" stroke-width="1.8" stroke-linejoin="round" stroke-linecap="round" />
<path d="M 516.25 832.97 L 526.25 831.25" fill="none" stroke="#222" stroke-width="1.8" stroke-linejoin="round" stroke-linecap="round" />
<path d="M 516.72 835.62 L 526.56 833.91" fill="none" stroke="#222" stroke-width="1.8" stroke-linejoin="round" stroke-linecap="round" />
<path d="M 517.19 838.28 L 526.88 836.56" fill="none" stroke="#222" stroke-width="1.8" stroke-linejoin="round" stroke-linecap="round" />
<path d="M 517.66 840.94 L 527.19 839.22" fill="none" stroke="#222" stroke-width="1.8" stroke-linejoin="round" stroke-linecap="round" />
<path d="M 518.12 843.59 L 527.5 841.88" fill="none" stroke="#222" stroke-width="1.8" stroke-linejoin="round" stroke-linecap="round" />
<path d="M 543.44 815.78 L 550 813.59" fill="none" stroke="#222" stroke-width="1" stroke-linejoin="round" stroke-linecap="round" />
<path d="M 543.44 817.34 L 550 815.16" fill="none" stroke="#222" stroke-width="1" stroke-linejoin="round" stroke-linecap="round" />
<path d="M 543.44 818.91 L 550 816.72" fill="none" stroke="#222" stroke-width="1" stroke-linejoin="round" stroke-linecap="round" />
<path d="M 543.44 820.47 L 550 818.28" fill="none" stroke="#222" stroke-width="1" stroke-linejoin="round" stroke-linecap="round" />
<path d="M 543.44 822.03 L 550 819.84" fill="none" stroke="#222" stroke-width="1" stroke-linejoin="round" stroke-linecap="round" />
<path d="M 543.44 823.59 L 550 821.41" fill="none" stroke="#222" stroke-width="1" stroke-linejoin="round" stroke-linecap="round" />
<path d="M 543.44 825.16 L 550 822.97" fill="none" stroke="#222" stroke-width="1" stroke-linejoin="round" stroke-linecap="round" />
<path d="M 543.44 826.72 L 550 824.53" fill="none" stroke="#222" stroke-width="1" stroke-linejoin="round" stroke-linecap="round" />
<path d="M 543.44 828.28 L 550 826.09" fill="none" stroke="#222" stroke-width="1" stroke-linejoin="round" stroke-linecap="round" />
<path d="M 540.31 852.34 L 545 850.78" fill="none" stroke="#222" stroke-width="1.2" stroke-linejoin="round" stroke-linecap="round" />
<path d="M 540.31 853.91 L 545 852.34" fill="none" stroke="#222" stroke-width="1.2" stroke-linejoin="round" stroke-linecap="round" />
<path d="M 540.31 855.47 L 545 853.91" fill="none" stroke="#222" stroke-width="1.2" stroke-linejoin="round" stroke-linecap="round" />
<path d="M 540.31 857.03 L 545 855.47" fill="none" stroke="#222" stroke-width="1.2" stroke-linejoin="round" stroke-linecap="round" />
<path d="M 540.31 858.59 L 545 857.03" fill="none" stroke="#222" stroke-width="1.2" stroke-linejoin="round" stroke-linecap="round" />
<path d="M 540.31 860.16 L 545 858.59" fill="none" stroke="#222" stroke-width="1.2" stroke-linejoin="round" stroke-linecap="round" />
<path d="M 514.84 812.5 L 522.19 811.25 L 522.66 815.31 L 515.62 817.19 Z M 516.88 850 L 524.22 848.75 L 525 852.81 L 517.5 854.38 Z" fill="none" stroke="#222" stroke-width="1.2" stroke-linejoin="round" stroke-linecap="round" />
<path d="M 517.19 813.28 L 518.75 815.62 M 518.75 850.78 L 520.62 853.12" fill="none" stroke="#222" stroke-width="1.6" stroke-linejoin="round" stroke-linecap="round" />
<path d="M 515.31 860.94 Q 520.31 861.72 527.34 859.69 L 527.34 861.25 Q 520.31 863.44 515.62 862.5 Z M 515.94 866.41 Q 521.09 867.19 528.12 864.84 L 528.12 866.72 Q 521.09 869.06 516.41 868.12 Z" fill="none" stroke="#222" stroke-width="1" stroke-linejoin="round" stroke-linecap="round" />
<path d="M 528.91 804.69 Q 531.25 809.38 540.62 811.72 L 550 815.62 M 522.66 813.28 L 529.69 809.38 M 525 851.25 Q 540.62 845.31 546.88 837.5 M 538.75 826.56 L 550 832.03" fill="none" stroke="#222" stroke-width="1" stroke-linejoin="round" stroke-linecap="round" />
<path d="M 553.12 804.69 L 566.41 800 M 551.56 804.69 L 551.88 837.5 Q 550 850 554.69 859.38 L 557.81 890.62 M 554.69 806.25 L 555 837.5 M 559.06 803.91 L 559.38 831.25 M 563.28 802.34 L 565.62 837.5 L 571.88 850 M 567.19 803.12 L 569.53 837.5" fill="none" stroke="#222" stroke-width="1.2" stroke-linejoin="round" stroke-linecap="round" />
<path d="M 555.47 822.66 L 564.06 819.53 M 554.69 837.5 L 560.94 835.16 L 561.25 843.75 L 555.47 846.09 Z M 562.5 831.25 L 567.97 829.69 L 568.44 837.5 L 563.28 839.84 Z M 557.81 850 L 566.41 846.09 M 559.38 857.81 L 567.97 854.69 M 557.81 865.62 L 568.75 862.5 M 562.5 843.75 L 567.19 851.56 L 562.5 856.25" fill="none" stroke="#222" stroke-width="1.3" stroke-linejoin="round" stroke-linecap="round" />
<path d="M 551.88 805 L 566.41 799.69 L 569.53 803.91 L 571.09 825 L 573.12 850 L 573.75 885.94 M 555.94 807.03 L 556.56 837.5 Q 555 850 559.06 859.38 L 561.25 889.06" fill="none" stroke="#222" stroke-width="1.8" stroke-linejoin="round" stroke-linecap="round" />
<path d="M 557.03 809.38 L 564.84 806.56 L 565.62 818.75 L 557.81 821.56 Z M 557.81 825 L 562.5 823.44 L 562.81 831.25 L 558.12 833.12 Z" fill="none" stroke="#222" stroke-width="1.3" stroke-linejoin="round" stroke-linecap="round" />
<path d="M 566.41 799.69 L 564.06 801.56 L 557.03 803.91" fill="none" stroke="#222" stroke-width="2.2" stroke-linejoin="round" stroke-linecap="round" />
<path d="M 510.16 881.25 Q 525 885.94 543.75 878.12 Q 552.34 873.44 554.69 865.62 M 506.56 887.5 L 555.47 896.88 M 514.84 875 L 516.41 879.69 M 534.38 882.81 Q 543.75 873.44 554.69 871.09 M 554.69 871.88 Q 556.25 879.69 553.12 885.94" fill="none" stroke="#222" stroke-width="1.1" stroke-linejoin="round" stroke-linecap="round" />
<path d="M 543.75 906.25 Q 559.38 900 571.09 887.5 M 546.09 908.59 Q 560.94 902.34 572.66 889.84" fill="none" stroke="#222" stroke-width="1.3" stroke-linejoin="round" stroke-linecap="round" />
<path d="M 512.5 904.69 L 518.75 910 M 513.28 903.91 L 534.38 906.25 M 563.28 879.69 L 564.06 887.5 L 569.53 885.94 L 569.06 878.12 Z M 571.88 882.81 L 574.22 887.5" fill="none" stroke="#222" stroke-width="1.2" stroke-linejoin="round" stroke-linecap="round" />
<polyline points="552.97,735.94 552.97,832.81" fill="none" stroke="#222" stroke-width="0.9" stroke-linejoin="round" stroke-linecap="round"/>
<polyline points="525,851.56 575,881.25" fill="none" stroke="#222" stroke-width="0.9" stroke-linejoin="round" stroke-linecap="round"/>
<polyline points="665,830.94 665,856.25" fill="none" stroke="#222" stroke-width="0.8" stroke-linejoin="round" stroke-linecap="round"/>
<polyline points="583.75,891.09 583.75,911.41" fill="none" stroke="#222" stroke-width="0.8" stroke-linejoin="round" stroke-linecap="round"/>
<polyline points="596.72,888.75 596.72,904.38" fill="none" stroke="#222" stroke-width="0.8" stroke-linejoin="round" stroke-linecap="round"/>
<polyline points="618.59,899.69 618.59,912.19" fill="none" stroke="#222" stroke-width="0.8" stroke-linejoin="round" stroke-linecap="round"/>
<polyline points="638.12,891.09 638.12,904.38" fill="none" stroke="#222" stroke-width="0.8" stroke-linejoin="round" stroke-linecap="round"/>
<polyline points="668.91,971.25 683.75,962.97" fill="none" stroke="#222" stroke-width="0.8" stroke-linejoin="round" stroke-linecap="round"/>
<polyline points="565,874.69 575.94,881.25" fill="none" stroke="#222" stroke-width="0.8" stroke-linejoin="round" stroke-linecap="round"/>
<line x1="587.83" y1="888.66" x2="579.84" y2="884.06" stroke="#333" stroke-width="3" stroke-linecap="round"/>
<line x1="586.23" y1="887.74" x2="579.84" y2="884.06" stroke="#fff" stroke-width="1.3" stroke-dasharray="0.7 1.0"/>
<polyline points="591.25,890.62 587.83,888.66" fill="none" stroke="#222" stroke-width="6.8" stroke-linecap="butt" stroke-linejoin="round"/>
<polyline points="591.25,890.62 587.83,888.66" fill="none" stroke="#fff" stroke-width="4.4" stroke-linecap="butt" stroke-linejoin="round"/>
<ellipse cx="591.25" cy="890.62" rx="1.62" ry="2.8" transform="rotate(-150.09 591.25 890.62)" fill="#fff" stroke="#222" stroke-width="1.1"/>
<ellipse cx="587.83" cy="888.66" rx="1.62" ry="2.8" transform="rotate(-150.09 587.83 888.66)" fill="none" stroke="#222" stroke-width="1.0"/>
<path d="M 583.44 839.53 L 586.09 835.62 L 596.25 837.97 L 598.12 835.31 L 600.16 839.53 L 601.72 871.56 L 607.19 880.94 L 604.84 884.06 L 598.59 887.19 L 595.47 886.41 L 590 866.88 L 588.44 845 Z" fill="#fff" stroke="#222" stroke-width="1.4" stroke-linejoin="round" stroke-linecap="round" />
<path d="M 586.09 835.62 L 588.44 845 M 596.25 837.97 Q 593.91 851.25 595.47 865.31 L 600.16 882.5 L 604.84 884.06 M 588.44 845 L 593.91 845.78 M 590 848.91 L 590.31 852.03 M 593.91 865.31 L 600.16 863.75 M 594.69 859.06 L 600.16 857.5 M 595.47 886.41 L 600.16 882.5" fill="none" stroke="#222" stroke-width="1.1" stroke-linejoin="round" stroke-linecap="round" />
<path d="M 611.09 861.88 L 618.12 857.5 L 628.28 862.97 L 628.75 884.84 L 632.19 891.09 L 623.59 898.91 L 619.69 899.69 L 613.44 895 L 611.56 888.75 Z" fill="#fff" stroke="#222" stroke-width="1.4" stroke-linejoin="round" stroke-linecap="round" />
<path d="M 611.09 861.88 L 615.78 865.31 L 616.56 882.5 L 611.88 887.19 M 615.78 865.31 L 623.59 860.31 M 623.59 860.31 L 624.06 881.72 L 628.75 884.84 M 616.56 882.5 L 623.59 881.72 L 628.75 887.97 M 616.56 882.5 L 614.69 893.44 L 620.47 897.81 L 632.19 891.09 M 618.91 886.41 L 618.91 893.44 M 621.56 884.84 L 621.56 892.19 M 621.25 893.44 L 627.5 892.19" fill="none" stroke="#222" stroke-width="1.2" stroke-linejoin="round" stroke-linecap="round" />
<path d="M 611.88 888.75 L 611.88 891.09 M 613.75 892.19 L 613.75 894.69 M 616.56 894.69 L 616.56 896.88 M 619.38 896.25 L 619.38 898.91" fill="none" stroke="#222" stroke-width="1.6" stroke-linejoin="round" stroke-linecap="round" />
<path d="M 631.88 870 L 635.31 865.62 L 638.12 865.31 L 647.5 872.34 L 647.5 888.75 L 643.91 891.56 L 633.75 884.06 L 631.88 879.38 Z" fill="#fff" stroke="#222" stroke-width="1.4" stroke-linejoin="round" stroke-linecap="round" />
<path d="M 635.31 865.62 L 635.62 871.56 L 644.69 878.12 L 647.5 872.34 M 644.69 878.12 L 643.91 891.56 M 635.62 871.56 L 631.88 874.69 M 633.75 874.69 L 634.06 884.06 M 637.66 874.69 L 638.12 885.62 M 640.78 877.03 L 641.25 887.97" fill="none" stroke="#222" stroke-width="1.2" stroke-linejoin="round" stroke-linecap="round" />
<path d="M 635.31 879.38 L 643.12 884.38 M 635 882.5 L 643.12 887.5" fill="none" stroke="#222" stroke-width="1.8" stroke-linejoin="round" stroke-linecap="round" />
<path d="M 651.72 863.75 Q 657.19 856.72 666.56 856.25 Q 672.81 859.06 673.59 871.56 Q 677.5 890.31 677.19 907.5 Q 675.16 932.5 676.72 949.69 Q 674.38 955.94 665 959.84 L 646.25 966.09 Q 641.56 965.31 642.34 960.62 Q 646.25 954.38 654.06 952.03 Q 660.31 945 659.53 929.38 Q 654.06 904.38 654.84 887.19 Q 654.06 871.56 651.72 863.75 Z" fill="#fff" stroke="#222" stroke-width="1.5" stroke-linejoin="round" stroke-linecap="round" />
<path d="M 654.06 864.53 Q 658.75 860.62 666.56 858.28 M 656.41 865.31 L 663.44 870 Q 660.31 882.5 662.66 901.25 Q 666.56 929.38 662.66 949.69 Q 661.88 952.81 657.97 954.38 M 643.91 961.41 Q 649.38 955.94 655.62 954.69 M 652.5 861.41 L 656.41 859.06" fill="none" stroke="#222" stroke-width="1.1" stroke-linejoin="round" stroke-linecap="round" />
<ellipse cx="672.5" cy="953.59" rx="2.5" ry="2.5" transform="rotate(0 672.5 953.59)" fill="none" stroke="#222" stroke-width="1.2" />
<ellipse cx="665" cy="868.44" rx="0.72" ry="0.72" transform="rotate(0 665 868.44)" fill="#222" stroke="#222" stroke-width="0.5" />
<ellipse cx="668.44" cy="868.44" rx="0.72" ry="0.72" transform="rotate(0 668.44 868.44)" fill="#222" stroke="#222" stroke-width="0.5" />
<ellipse cx="671.88" cy="868.44" rx="0.72" ry="0.72" transform="rotate(0 671.88 868.44)" fill="#222" stroke="#222" stroke-width="0.5" />
<ellipse cx="675.31" cy="868.44" rx="0.72" ry="0.72" transform="rotate(0 675.31 868.44)" fill="#222" stroke="#222" stroke-width="0.5" />
<ellipse cx="666.83" cy="872.19" rx="0.72" ry="0.72" transform="rotate(0 666.83 872.19)" fill="#222" stroke="#222" stroke-width="0.5" />
<ellipse cx="670.27" cy="872.19" rx="0.72" ry="0.72" transform="rotate(0 670.27 872.19)" fill="#222" stroke="#222" stroke-width="0.5" />
<ellipse cx="673.71" cy="872.19" rx="0.72" ry="0.72" transform="rotate(0 673.71 872.19)" fill="#222" stroke="#222" stroke-width="0.5" />
<ellipse cx="665.23" cy="875.94" rx="0.72" ry="0.72" transform="rotate(0 665.23 875.94)" fill="#222" stroke="#222" stroke-width="0.5" />
<ellipse cx="668.66" cy="875.94" rx="0.72" ry="0.72" transform="rotate(0 668.66 875.94)" fill="#222" stroke="#222" stroke-width="0.5" />
<ellipse cx="672.1" cy="875.94" rx="0.72" ry="0.72" transform="rotate(0 672.1 875.94)" fill="#222" stroke="#222" stroke-width="0.5" />
<ellipse cx="667.06" cy="879.69" rx="0.72" ry="0.72" transform="rotate(0 667.06 879.69)" fill="#222" stroke="#222" stroke-width="0.5" />
<ellipse cx="670.49" cy="879.69" rx="0.72" ry="0.72" transform="rotate(0 670.49 879.69)" fill="#222" stroke="#222" stroke-width="0.5" />
<ellipse cx="673.93" cy="879.69" rx="0.72" ry="0.72" transform="rotate(0 673.93 879.69)" fill="#222" stroke="#222" stroke-width="0.5" />
<ellipse cx="665.45" cy="883.44" rx="0.72" ry="0.72" transform="rotate(0 665.45 883.44)" fill="#222" stroke="#222" stroke-width="0.5" />
<ellipse cx="668.89" cy="883.44" rx="0.72" ry="0.72" transform="rotate(0 668.89 883.44)" fill="#222" stroke="#222" stroke-width="0.5" />
<ellipse cx="672.33" cy="883.44" rx="0.72" ry="0.72" transform="rotate(0 672.33 883.44)" fill="#222" stroke="#222" stroke-width="0.5" />
<ellipse cx="667.28" cy="887.19" rx="0.72" ry="0.72" transform="rotate(0 667.28 887.19)" fill="#222" stroke="#222" stroke-width="0.5" />
<ellipse cx="670.72" cy="887.19" rx="0.72" ry="0.72" transform="rotate(0 670.72 887.19)" fill="#222" stroke="#222" stroke-width="0.5" />
<ellipse cx="674.16" cy="887.19" rx="0.72" ry="0.72" transform="rotate(0 674.16 887.19)" fill="#222" stroke="#222" stroke-width="0.5" />
<ellipse cx="665.67" cy="890.94" rx="0.72" ry="0.72" transform="rotate(0 665.67 890.94)" fill="#222" stroke="#222" stroke-width="0.5" />
<ellipse cx="669.11" cy="890.94" rx="0.72" ry="0.72" transform="rotate(0 669.11 890.94)" fill="#222" stroke="#222" stroke-width="0.5" />
<ellipse cx="672.55" cy="890.94" rx="0.72" ry="0.72" transform="rotate(0 672.55 890.94)" fill="#222" stroke="#222" stroke-width="0.5" />
<ellipse cx="667.51" cy="894.69" rx="0.72" ry="0.72" transform="rotate(0 667.51 894.69)" fill="#222" stroke="#222" stroke-width="0.5" />
<ellipse cx="670.94" cy="894.69" rx="0.72" ry="0.72" transform="rotate(0 670.94 894.69)" fill="#222" stroke="#222" stroke-width="0.5" />
<ellipse cx="674.38" cy="894.69" rx="0.72" ry="0.72" transform="rotate(0 674.38 894.69)" fill="#222" stroke="#222" stroke-width="0.5" />
<ellipse cx="665.9" cy="898.44" rx="0.72" ry="0.72" transform="rotate(0 665.9 898.44)" fill="#222" stroke="#222" stroke-width="0.5" />
<ellipse cx="669.34" cy="898.44" rx="0.72" ry="0.72" transform="rotate(0 669.34 898.44)" fill="#222" stroke="#222" stroke-width="0.5" />
<ellipse cx="672.77" cy="898.44" rx="0.72" ry="0.72" transform="rotate(0 672.77 898.44)" fill="#222" stroke="#222" stroke-width="0.5" />
<ellipse cx="667.73" cy="902.19" rx="0.72" ry="0.72" transform="rotate(0 667.73 902.19)" fill="#222" stroke="#222" stroke-width="0.5" />
<ellipse cx="671.17" cy="902.19" rx="0.72" ry="0.72" transform="rotate(0 671.17 902.19)" fill="#222" stroke="#222" stroke-width="0.5" />
<ellipse cx="674.61" cy="902.19" rx="0.72" ry="0.72" transform="rotate(0 674.61 902.19)" fill="#222" stroke="#222" stroke-width="0.5" />
<ellipse cx="666.12" cy="905.94" rx="0.72" ry="0.72" transform="rotate(0 666.12 905.94)" fill="#222" stroke="#222" stroke-width="0.5" />
<ellipse cx="669.56" cy="905.94" rx="0.72" ry="0.72" transform="rotate(0 669.56 905.94)" fill="#222" stroke="#222" stroke-width="0.5" />
<ellipse cx="673" cy="905.94" rx="0.72" ry="0.72" transform="rotate(0 673 905.94)" fill="#222" stroke="#222" stroke-width="0.5" />
<ellipse cx="667.96" cy="909.69" rx="0.72" ry="0.72" transform="rotate(0 667.96 909.69)" fill="#222" stroke="#222" stroke-width="0.5" />
<ellipse cx="671.39" cy="909.69" rx="0.72" ry="0.72" transform="rotate(0 671.39 909.69)" fill="#222" stroke="#222" stroke-width="0.5" />
<ellipse cx="674.83" cy="909.69" rx="0.72" ry="0.72" transform="rotate(0 674.83 909.69)" fill="#222" stroke="#222" stroke-width="0.5" />
<ellipse cx="666.35" cy="913.44" rx="0.72" ry="0.72" transform="rotate(0 666.35 913.44)" fill="#222" stroke="#222" stroke-width="0.5" />
<ellipse cx="669.79" cy="913.44" rx="0.72" ry="0.72" transform="rotate(0 669.79 913.44)" fill="#222" stroke="#222" stroke-width="0.5" />
<ellipse cx="673.23" cy="913.44" rx="0.72" ry="0.72" transform="rotate(0 673.23 913.44)" fill="#222" stroke="#222" stroke-width="0.5" />
<ellipse cx="668.18" cy="917.19" rx="0.72" ry="0.72" transform="rotate(0 668.18 917.19)" fill="#222" stroke="#222" stroke-width="0.5" />
<ellipse cx="671.62" cy="917.19" rx="0.72" ry="0.72" transform="rotate(0 671.62 917.19)" fill="#222" stroke="#222" stroke-width="0.5" />
<ellipse cx="675.06" cy="917.19" rx="0.72" ry="0.72" transform="rotate(0 675.06 917.19)" fill="#222" stroke="#222" stroke-width="0.5" />
<ellipse cx="666.58" cy="920.94" rx="0.72" ry="0.72" transform="rotate(0 666.58 920.94)" fill="#222" stroke="#222" stroke-width="0.5" />
<ellipse cx="670.01" cy="920.94" rx="0.72" ry="0.72" transform="rotate(0 670.01 920.94)" fill="#222" stroke="#222" stroke-width="0.5" />
<ellipse cx="673.45" cy="920.94" rx="0.72" ry="0.72" transform="rotate(0 673.45 920.94)" fill="#222" stroke="#222" stroke-width="0.5" />
<ellipse cx="668.41" cy="924.69" rx="0.72" ry="0.72" transform="rotate(0 668.41 924.69)" fill="#222" stroke="#222" stroke-width="0.5" />
<ellipse cx="671.84" cy="924.69" rx="0.72" ry="0.72" transform="rotate(0 671.84 924.69)" fill="#222" stroke="#222" stroke-width="0.5" />
<ellipse cx="675.28" cy="924.69" rx="0.72" ry="0.72" transform="rotate(0 675.28 924.69)" fill="#222" stroke="#222" stroke-width="0.5" />
<ellipse cx="666.8" cy="928.44" rx="0.72" ry="0.72" transform="rotate(0 666.8 928.44)" fill="#222" stroke="#222" stroke-width="0.5" />
<ellipse cx="670.24" cy="928.44" rx="0.72" ry="0.72" transform="rotate(0 670.24 928.44)" fill="#222" stroke="#222" stroke-width="0.5" />
<ellipse cx="673.67" cy="928.44" rx="0.72" ry="0.72" transform="rotate(0 673.67 928.44)" fill="#222" stroke="#222" stroke-width="0.5" />
<ellipse cx="668.63" cy="932.19" rx="0.72" ry="0.72" transform="rotate(0 668.63 932.19)" fill="#222" stroke="#222" stroke-width="0.5" />
<ellipse cx="672.07" cy="932.19" rx="0.72" ry="0.72" transform="rotate(0 672.07 932.19)" fill="#222" stroke="#222" stroke-width="0.5" />
<ellipse cx="667.02" cy="935.94" rx="0.72" ry="0.72" transform="rotate(0 667.02 935.94)" fill="#222" stroke="#222" stroke-width="0.5" />
<ellipse cx="670.46" cy="935.94" rx="0.72" ry="0.72" transform="rotate(0 670.46 935.94)" fill="#222" stroke="#222" stroke-width="0.5" />
<ellipse cx="673.9" cy="935.94" rx="0.72" ry="0.72" transform="rotate(0 673.9 935.94)" fill="#222" stroke="#222" stroke-width="0.5" />
<ellipse cx="668.86" cy="939.69" rx="0.72" ry="0.72" transform="rotate(0 668.86 939.69)" fill="#222" stroke="#222" stroke-width="0.5" />
<ellipse cx="672.29" cy="939.69" rx="0.72" ry="0.72" transform="rotate(0 672.29 939.69)" fill="#222" stroke="#222" stroke-width="0.5" />
<ellipse cx="667.25" cy="943.44" rx="0.72" ry="0.72" transform="rotate(0 667.25 943.44)" fill="#222" stroke="#222" stroke-width="0.5" />
<ellipse cx="670.69" cy="943.44" rx="0.72" ry="0.72" transform="rotate(0 670.69 943.44)" fill="#222" stroke="#222" stroke-width="0.5" />
<ellipse cx="674.12" cy="943.44" rx="0.72" ry="0.72" transform="rotate(0 674.12 943.44)" fill="#222" stroke="#222" stroke-width="0.5" />
<ellipse cx="669.08" cy="947.19" rx="0.72" ry="0.72" transform="rotate(0 669.08 947.19)" fill="#222" stroke="#222" stroke-width="0.5" />
<ellipse cx="672.52" cy="947.19" rx="0.72" ry="0.72" transform="rotate(0 672.52 947.19)" fill="#222" stroke="#222" stroke-width="0.5" />
<line x1="686.41" y1="960.78" x2="679.84" y2="957.5" stroke="#333" stroke-width="3" stroke-linecap="round"/>
<line x1="685.09" y1="960.12" x2="679.84" y2="957.5" stroke="#fff" stroke-width="1.3" stroke-dasharray="0.7 1.0"/>
<polyline points="689.22,962.19 686.41,960.78" fill="none" stroke="#222" stroke-width="7" stroke-linecap="butt" stroke-linejoin="round"/>
<polyline points="689.22,962.19 686.41,960.78" fill="none" stroke="#fff" stroke-width="4.6" stroke-linecap="butt" stroke-linejoin="round"/>
<ellipse cx="689.22" cy="962.19" rx="1.68" ry="2.9" transform="rotate(-153.43 689.22 962.19)" fill="#fff" stroke="#222" stroke-width="1.1"/>
<ellipse cx="686.41" cy="960.78" rx="1.68" ry="2.9" transform="rotate(-153.43 686.41 960.78)" fill="none" stroke="#222" stroke-width="1.0"/>
<polyline points="702.5,417 713,422.5 713,549.5 753.75,573.75" fill="none" stroke="#222" stroke-width="0.8" stroke-linejoin="round" stroke-linecap="round"/>
<polyline points="753.75,565 753.75,590" fill="none" stroke="#222" stroke-width="0.8" stroke-linejoin="round" stroke-linecap="round"/>
<text x="430" y="28.71" font-size="10.3" text-anchor="middle" fill="#333" stroke="#333" stroke-width="0.25">1</text>
<text x="449" y="40.21" font-size="10.3" text-anchor="middle" fill="#333" stroke="#333" stroke-width="0.25">2</text>
<text x="465" y="49.71" font-size="10.3" text-anchor="middle" fill="#333" stroke="#333" stroke-width="0.25">3</text>
<text x="486" y="62.21" font-size="10.3" text-anchor="middle" fill="#333" stroke="#333" stroke-width="0.25">7</text>
<text x="512" y="82.71" font-size="10.3" text-anchor="middle" fill="#333" stroke="#333" stroke-width="0.25">4</text>
<text x="528.5" y="91.21" font-size="10.3" text-anchor="middle" fill="#333" stroke="#333" stroke-width="0.25">5</text>
<text x="548.5" y="103.21" font-size="10.3" text-anchor="middle" fill="#333" stroke="#333" stroke-width="0.25">6</text>
<text x="581" y="116.21" font-size="10.3" text-anchor="middle" fill="#333" stroke="#333" stroke-width="0.25">8</text>
<text x="601" y="142.21" font-size="10.3" text-anchor="middle" fill="#333" stroke="#333" stroke-width="0.25">9</text>
<text x="636" y="152.71" font-size="10.3" text-anchor="middle" fill="#333" stroke="#333" stroke-width="0.25">10</text>
<text x="380.5" y="99.21" font-size="10.3" text-anchor="middle" fill="#333" stroke="#333" stroke-width="0.25">18</text>
<text x="467" y="143.71" font-size="10.3" text-anchor="middle" fill="#333" stroke="#333" stroke-width="0.25">14</text>
<text x="348.5" y="181.21" font-size="10.3" text-anchor="middle" fill="#333" stroke="#333" stroke-width="0.25">15</text>
<text x="551.5" y="192.21" font-size="10.3" text-anchor="middle" fill="#333" stroke="#333" stroke-width="0.25">13</text>
<text x="583" y="209.71" font-size="10.3" text-anchor="middle" fill="#333" stroke="#333" stroke-width="0.25">12</text>
<text x="629" y="243.71" font-size="10.3" text-anchor="middle" fill="#333" stroke="#333" stroke-width="0.25">17</text>
<text x="227" y="42.21" font-size="10.3" text-anchor="middle" fill="#333" stroke="#333" stroke-width="0.25">20</text>
<text x="243.5" y="51.71" font-size="10.3" text-anchor="middle" fill="#333" stroke="#333" stroke-width="0.25">19</text>
<text x="238" y="188.21" font-size="10.3" text-anchor="middle" fill="#333" stroke="#333" stroke-width="0.25">28</text>
<text x="258" y="198.71" font-size="10.3" text-anchor="middle" fill="#333" stroke="#333" stroke-width="0.25">29</text>
<text x="288.5" y="210.71" font-size="10.3" text-anchor="middle" fill="#333" stroke="#333" stroke-width="0.25">30</text>
<text x="311" y="224.21" font-size="10.3" text-anchor="middle" fill="#333" stroke="#333" stroke-width="0.25">31</text>
<text x="337" y="239.21" font-size="10.3" text-anchor="middle" fill="#333" stroke="#333" stroke-width="0.25">32</text>
<text x="351.5" y="248.21" font-size="10.3" text-anchor="middle" fill="#333" stroke="#333" stroke-width="0.25">33</text>
<text x="383" y="266.71" font-size="10.3" text-anchor="middle" fill="#333" stroke="#333" stroke-width="0.25">34</text>
<text x="434.5" y="302.21" font-size="10.3" text-anchor="middle" fill="#333" stroke="#333" stroke-width="0.25">21</text>
<text x="446" y="308.71" font-size="10.3" text-anchor="middle" fill="#333" stroke="#333" stroke-width="0.25">22</text>
<text x="458" y="315.71" font-size="10.3" text-anchor="middle" fill="#333" stroke="#333" stroke-width="0.25">23</text>
<text x="482" y="329.21" font-size="10.3" text-anchor="middle" fill="#333" stroke="#333" stroke-width="0.25">24</text>
<text x="515.5" y="348.21" font-size="10.3" text-anchor="middle" fill="#333" stroke="#333" stroke-width="0.25">25</text>
<text x="536.5" y="360.21" font-size="10.3" text-anchor="middle" fill="#333" stroke="#333" stroke-width="0.25">26</text>
<text x="555.5" y="371.21" font-size="10.3" text-anchor="middle" fill="#333" stroke="#333" stroke-width="0.25">27</text>
<text x="575" y="383.71" font-size="10.3" text-anchor="middle" fill="#333" stroke="#333" stroke-width="0.25">41</text>
<text x="591" y="394.21" font-size="10.3" text-anchor="middle" fill="#333" stroke="#333" stroke-width="0.25">36</text>
<text x="615" y="365.21" font-size="10.3" text-anchor="middle" fill="#333" stroke="#333" stroke-width="0.25">38</text>
<text x="615" y="382.21" font-size="10.3" text-anchor="middle" fill="#333" stroke="#333" stroke-width="0.25">37</text>
<text x="615" y="407.71" font-size="10.3" text-anchor="middle" fill="#333" stroke="#333" stroke-width="0.25">35</text>
<text x="357.5" y="348.71" font-size="10.3" text-anchor="middle" fill="#333" stroke="#333" stroke-width="0.25">53</text>
<text x="384.5" y="364.21" font-size="10.3" text-anchor="middle" fill="#333" stroke="#333" stroke-width="0.25">52</text>
<text x="436.5" y="394.21" font-size="10.3" text-anchor="middle" fill="#333" stroke="#333" stroke-width="0.25">51</text>
<text x="462" y="406.71" font-size="10.3" text-anchor="middle" fill="#333" stroke="#333" stroke-width="0.25">50</text>
<text x="488.5" y="423.71" font-size="10.3" text-anchor="middle" fill="#333" stroke="#333" stroke-width="0.25">49</text>
<text x="527.5" y="446.71" font-size="10.3" text-anchor="middle" fill="#333" stroke="#333" stroke-width="0.25">48</text>
<text x="628.5" y="500.21" font-size="10.3" text-anchor="middle" fill="#333" stroke="#333" stroke-width="0.25">45</text>
<text x="206" y="315.21" font-size="10.3" text-anchor="middle" fill="#333" stroke="#333" stroke-width="0.25" textLength="11" lengthAdjust="spacingAndGlyphs">147</text>
<text x="206" y="363.71" font-size="10.3" text-anchor="middle" fill="#333" stroke="#333" stroke-width="0.25" textLength="11" lengthAdjust="spacingAndGlyphs">146</text>
<text x="206" y="378.21" font-size="10.3" text-anchor="middle" fill="#333" stroke="#333" stroke-width="0.25" textLength="11" lengthAdjust="spacingAndGlyphs">145</text>
<text x="206" y="395.71" font-size="10.3" text-anchor="middle" fill="#333" stroke="#333" stroke-width="0.25" textLength="11" lengthAdjust="spacingAndGlyphs">144</text>
<text x="206" y="413.21" font-size="10.3" text-anchor="middle" fill="#333" stroke="#333" stroke-width="0.25" textLength="11" lengthAdjust="spacingAndGlyphs">143</text>
<text x="206" y="469.71" font-size="10.3" text-anchor="middle" fill="#333" stroke="#333" stroke-width="0.25" textLength="11" lengthAdjust="spacingAndGlyphs">142</text>
<text x="788.5" y="110.21" font-size="10.3" text-anchor="middle" fill="#333" stroke="#333" stroke-width="0.25">69</text>
<text x="788.5" y="126.71" font-size="10.3" text-anchor="middle" fill="#333" stroke="#333" stroke-width="0.25">70</text>
<text x="711" y="136.21" font-size="10.3" text-anchor="middle" fill="#333" stroke="#333" stroke-width="0.25">71</text>
<text x="693.5" y="146.71" font-size="10.3" text-anchor="middle" fill="#333" stroke="#333" stroke-width="0.25">72</text>
<text x="700.5" y="175.21" font-size="10.3" text-anchor="middle" fill="#333" stroke="#333" stroke-width="0.25">80</text>
<text x="788.5" y="187.21" font-size="10.3" text-anchor="middle" fill="#333" stroke="#333" stroke-width="0.25">79</text>
<text x="717" y="272.71" font-size="10.3" text-anchor="middle" fill="#333" stroke="#333" stroke-width="0.25" textLength="11" lengthAdjust="spacingAndGlyphs">154</text>
<text x="717" y="291.21" font-size="10.3" text-anchor="middle" fill="#333" stroke="#333" stroke-width="0.25">73</text>
<text x="788.5" y="295.21" font-size="10.3" text-anchor="middle" fill="#333" stroke="#333" stroke-width="0.25">75</text>
<text x="717" y="314.71" font-size="10.3" text-anchor="middle" fill="#333" stroke="#333" stroke-width="0.25">74</text>
<text x="788.5" y="317.71" font-size="10.3" text-anchor="middle" fill="#333" stroke="#333" stroke-width="0.25">76</text>
<text x="693.5" y="338.71" font-size="10.3" text-anchor="middle" fill="#333" stroke="#333" stroke-width="0.25">81</text>
<text x="788.5" y="348.71" font-size="10.3" text-anchor="middle" fill="#333" stroke="#333" stroke-width="0.25">82</text>
<text x="788.5" y="383.71" font-size="10.3" text-anchor="middle" fill="#333" stroke="#333" stroke-width="0.25">77</text>
<text x="788.5" y="400.21" font-size="10.3" text-anchor="middle" fill="#333" stroke="#333" stroke-width="0.25">78</text>
<text x="788.5" y="452.21" font-size="10.3" text-anchor="middle" fill="#333" stroke="#333" stroke-width="0.25">83</text>
<text x="788.5" y="488.71" font-size="10.3" text-anchor="middle" fill="#333" stroke="#333" stroke-width="0.25">84</text>
<text x="668" y="171.21" font-size="10.3" text-anchor="middle" fill="#333" stroke="#333" stroke-width="0.25">11</text>
<text x="673.5" y="268.71" font-size="10.3" text-anchor="middle" fill="#333" stroke="#333" stroke-width="0.25">16</text>
<text x="683.5" y="445.21" font-size="10.3" text-anchor="middle" fill="#333" stroke="#333" stroke-width="0.25">40</text>
<text x="637" y="512.21" font-size="10.3" text-anchor="middle" fill="#333" stroke="#333" stroke-width="0.25">44</text>
<text x="537" y="531.71" font-size="10.3" text-anchor="middle" fill="#333" stroke="#333" stroke-width="0.25">47</text>
<text x="552" y="539.71" font-size="10.3" text-anchor="middle" fill="#333" stroke="#333" stroke-width="0.25">46</text>
<text x="660.5" y="526.71" font-size="10.3" text-anchor="middle" fill="#333" stroke="#333" stroke-width="0.25">43</text>
<text x="687" y="541.71" font-size="10.3" text-anchor="middle" fill="#333" stroke="#333" stroke-width="0.25">42</text>
<text x="788.5" y="528.21" font-size="10.3" text-anchor="middle" fill="#333" stroke="#333" stroke-width="0.25">85</text>
<text x="808" y="591.71" font-size="10.3" text-anchor="middle" fill="#333" stroke="#333" stroke-width="0.25">86</text>
<text x="696.5" y="687.21" font-size="10.3" text-anchor="middle" fill="#333" stroke="#333" stroke-width="0.25">68</text>
<text x="808.5" y="688.21" font-size="10.3" text-anchor="middle" fill="#333" stroke="#333" stroke-width="0.25">87</text>
<text x="834.5" y="683.71" font-size="10.3" text-anchor="middle" fill="#333" stroke="#333" stroke-width="0.25">88</text>
<text x="834.5" y="700.21" font-size="10.3" text-anchor="middle" fill="#333" stroke="#333" stroke-width="0.25">89</text>
<text x="834.5" y="729.21" font-size="10.3" text-anchor="middle" fill="#333" stroke="#333" stroke-width="0.25">90</text>
<text x="834.5" y="755.71" font-size="10.3" text-anchor="middle" fill="#333" stroke="#333" stroke-width="0.25">91</text>
<text x="834.5" y="775.71" font-size="10.3" text-anchor="middle" fill="#333" stroke="#333" stroke-width="0.25">92</text>
<text x="834.5" y="803.71" font-size="10.3" text-anchor="middle" fill="#333" stroke="#333" stroke-width="0.25">93</text>
<text x="834.5" y="824.71" font-size="10.3" text-anchor="middle" fill="#333" stroke="#333" stroke-width="0.25">94</text>
<text x="834.5" y="838.71" font-size="10.3" text-anchor="middle" fill="#333" stroke="#333" stroke-width="0.25">95</text>
<text x="834.5" y="865.21" font-size="10.3" text-anchor="middle" fill="#333" stroke="#333" stroke-width="0.25">96</text>
<text x="834.5" y="908.21" font-size="10.3" text-anchor="middle" fill="#333" stroke="#333" stroke-width="0.25">97</text>
<text x="721" y="797.21" font-size="10.3" text-anchor="middle" fill="#333" stroke="#333" stroke-width="0.25">99</text>
<text x="703.5" y="920.71" font-size="10.3" text-anchor="middle" fill="#333" stroke="#333" stroke-width="0.25">98</text>
<text x="664.5" y="829.71" font-size="10.3" text-anchor="middle" fill="#333" stroke="#333" stroke-width="0.25" textLength="11" lengthAdjust="spacingAndGlyphs">100</text>
<text x="661.5" y="979.21" font-size="10.3" text-anchor="middle" fill="#333" stroke="#333" stroke-width="0.25" textLength="11" lengthAdjust="spacingAndGlyphs">101</text>
<text x="529" y="751.71" font-size="10.3" text-anchor="middle" fill="#333" stroke="#333" stroke-width="0.25" textLength="11" lengthAdjust="spacingAndGlyphs">108</text>
<text x="600.5" y="756.71" font-size="10.3" text-anchor="middle" fill="#333" stroke="#333" stroke-width="0.25" textLength="11" lengthAdjust="spacingAndGlyphs">111</text>
<text x="583.5" y="919.71" font-size="10.3" text-anchor="middle" fill="#333" stroke="#333" stroke-width="0.25" textLength="11" lengthAdjust="spacingAndGlyphs">107</text>
<text x="596" y="913.21" font-size="10.3" text-anchor="middle" fill="#333" stroke="#333" stroke-width="0.25" textLength="11" lengthAdjust="spacingAndGlyphs">104</text>
<text x="618" y="922.71" font-size="10.3" text-anchor="middle" fill="#333" stroke="#333" stroke-width="0.25" textLength="11" lengthAdjust="spacingAndGlyphs">103</text>
<text x="637" y="912.21" font-size="10.3" text-anchor="middle" fill="#333" stroke="#333" stroke-width="0.25" textLength="11" lengthAdjust="spacingAndGlyphs">102</text>
<text x="206" y="520.71" font-size="10.3" text-anchor="middle" fill="#333" stroke="#333" stroke-width="0.25" textLength="11" lengthAdjust="spacingAndGlyphs">141</text>
<text x="206" y="539.71" font-size="10.3" text-anchor="middle" fill="#333" stroke="#333" stroke-width="0.25" textLength="11" lengthAdjust="spacingAndGlyphs">140</text>
<text x="288.5" y="571.71" font-size="10.3" text-anchor="middle" fill="#333" stroke="#333" stroke-width="0.25" textLength="11" lengthAdjust="spacingAndGlyphs">139</text>
<text x="206" y="589.21" font-size="10.3" text-anchor="middle" fill="#333" stroke="#333" stroke-width="0.25" textLength="11" lengthAdjust="spacingAndGlyphs">138</text>
<text x="195" y="638.21" font-size="10.3" text-anchor="middle" fill="#333" stroke="#333" stroke-width="0.25" textLength="11" lengthAdjust="spacingAndGlyphs">137</text>
<text x="310" y="677.21" font-size="10.3" text-anchor="middle" fill="#333" stroke="#333" stroke-width="0.25" textLength="11" lengthAdjust="spacingAndGlyphs">117</text>
<text x="342" y="707.21" font-size="10.3" text-anchor="middle" fill="#333" stroke="#333" stroke-width="0.25" textLength="11" lengthAdjust="spacingAndGlyphs">118</text>
<text x="358" y="716.71" font-size="10.3" text-anchor="middle" fill="#333" stroke="#333" stroke-width="0.25" textLength="11" lengthAdjust="spacingAndGlyphs">119</text>
<text x="370" y="731.71" font-size="10.3" text-anchor="middle" fill="#333" stroke="#333" stroke-width="0.25" textLength="11" lengthAdjust="spacingAndGlyphs">120</text>
<text x="370" y="748.21" font-size="10.3" text-anchor="middle" fill="#333" stroke="#333" stroke-width="0.25" textLength="11" lengthAdjust="spacingAndGlyphs">148</text>
<text x="354.5" y="770.71" font-size="10.3" text-anchor="middle" fill="#333" stroke="#333" stroke-width="0.25" textLength="11" lengthAdjust="spacingAndGlyphs">121</text>
<text x="370" y="779.21" font-size="10.3" text-anchor="middle" fill="#333" stroke="#333" stroke-width="0.25" textLength="11" lengthAdjust="spacingAndGlyphs">122</text>
<text x="194" y="758.21" font-size="10.3" text-anchor="middle" fill="#333" stroke="#333" stroke-width="0.25" textLength="11" lengthAdjust="spacingAndGlyphs">136</text>
<text x="194" y="789.71" font-size="10.3" text-anchor="middle" fill="#333" stroke="#333" stroke-width="0.25" textLength="11" lengthAdjust="spacingAndGlyphs">135</text>
<text x="194" y="806.71" font-size="10.3" text-anchor="middle" fill="#333" stroke="#333" stroke-width="0.25" textLength="11" lengthAdjust="spacingAndGlyphs">134</text>
<text x="297" y="810.71" font-size="10.3" text-anchor="middle" fill="#333" stroke="#333" stroke-width="0.25" textLength="11" lengthAdjust="spacingAndGlyphs">123</text>
<text x="297" y="822.71" font-size="10.3" text-anchor="middle" fill="#333" stroke="#333" stroke-width="0.25" textLength="11" lengthAdjust="spacingAndGlyphs">124</text>
<text x="335" y="833.71" font-size="10.3" text-anchor="middle" fill="#333" stroke="#333" stroke-width="0.25" textLength="11" lengthAdjust="spacingAndGlyphs">125</text>
<text x="384.5" y="817.71" font-size="10.3" text-anchor="middle" fill="#333" stroke="#333" stroke-width="0.25" textLength="11" lengthAdjust="spacingAndGlyphs">149</text>
<text x="402.5" y="811.21" font-size="10.3" text-anchor="middle" fill="#333" stroke="#333" stroke-width="0.25" textLength="11" lengthAdjust="spacingAndGlyphs">150</text>
<text x="416.5" y="824.21" font-size="10.3" text-anchor="middle" fill="#333" stroke="#333" stroke-width="0.25" textLength="11" lengthAdjust="spacingAndGlyphs">151</text>
<text x="450" y="825.21" font-size="10.3" text-anchor="middle" fill="#333" stroke="#333" stroke-width="0.25" textLength="11" lengthAdjust="spacingAndGlyphs">152</text>
<text x="462.5" y="811.71" font-size="10.3" text-anchor="middle" fill="#333" stroke="#333" stroke-width="0.25" textLength="11" lengthAdjust="spacingAndGlyphs">153</text>
<text x="194" y="849.71" font-size="10.3" text-anchor="middle" fill="#333" stroke="#333" stroke-width="0.25" textLength="11" lengthAdjust="spacingAndGlyphs">133</text>
<text x="194" y="870.21" font-size="10.3" text-anchor="middle" fill="#333" stroke="#333" stroke-width="0.25" textLength="11" lengthAdjust="spacingAndGlyphs">132</text>
<text x="194" y="882.71" font-size="10.3" text-anchor="middle" fill="#333" stroke="#333" stroke-width="0.25" textLength="11" lengthAdjust="spacingAndGlyphs">131</text>
<text x="194" y="910.71" font-size="10.3" text-anchor="middle" fill="#333" stroke="#333" stroke-width="0.25" textLength="11" lengthAdjust="spacingAndGlyphs">130</text>
<text x="390.5" y="875.71" font-size="10.3" text-anchor="middle" fill="#333" stroke="#333" stroke-width="0.25" textLength="11" lengthAdjust="spacingAndGlyphs">127</text>
<text x="466" y="877.21" font-size="10.3" text-anchor="middle" fill="#333" stroke="#333" stroke-width="0.25" textLength="11" lengthAdjust="spacingAndGlyphs">126</text>
<text x="390.5" y="934.71" font-size="10.3" text-anchor="middle" fill="#333" stroke="#333" stroke-width="0.25" textLength="11" lengthAdjust="spacingAndGlyphs">128</text>
<text x="310" y="976.71" font-size="10.3" text-anchor="middle" fill="#333" stroke="#333" stroke-width="0.25" textLength="11" lengthAdjust="spacingAndGlyphs">129</text>
</svg>
</body></html>
